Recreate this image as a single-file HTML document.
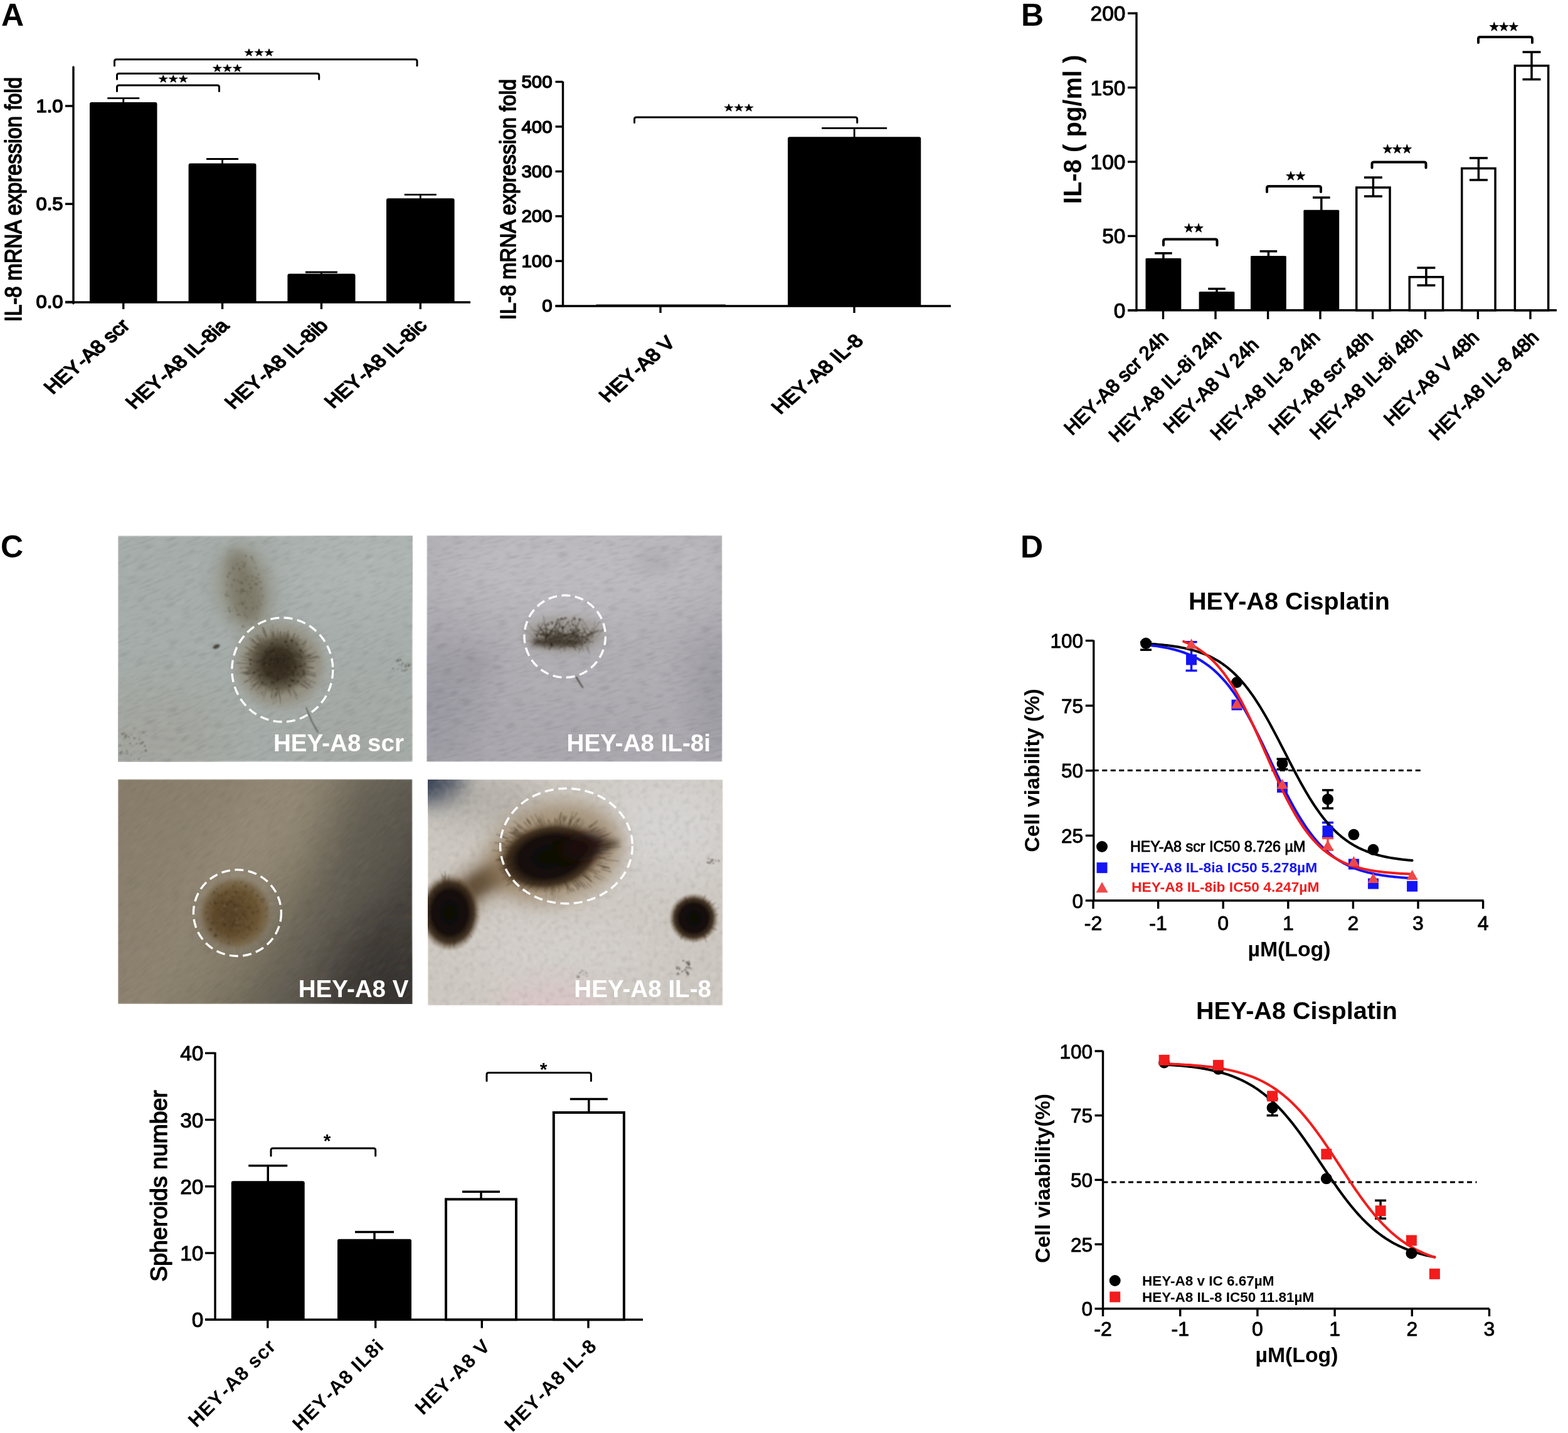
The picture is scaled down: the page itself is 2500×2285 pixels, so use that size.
<!DOCTYPE html>
<html><head><meta charset="utf-8"><title>Figure</title><style>html,body{margin:0;padding:0;background:#fff;width:2500px;height:2285px;overflow:hidden}svg{display:block}</style></head><body>
<svg width="2500" height="2285" viewBox="0 0 2500 2285">
<rect width="2500" height="2285" fill="#fff"/>
<defs><filter id="soft" x="0" y="0" width="100%" height="100%"><feGaussianBlur stdDeviation="1.3"/></filter><filter id="bl2" x="-20%" y="-20%" width="140%" height="140%"><feGaussianBlur stdDeviation="1.2"/></filter><filter id="bl4" x="-50%" y="-50%" width="200%" height="200%"><feGaussianBlur stdDeviation="4"/></filter><filter id="bl8" x="-50%" y="-50%" width="200%" height="200%"><feGaussianBlur stdDeviation="8"/></filter><filter id="bl15" x="-50%" y="-50%" width="200%" height="200%"><feGaussianBlur stdDeviation="15"/></filter><filter id="bl25" x="-50%" y="-50%" width="200%" height="200%"><feGaussianBlur stdDeviation="25"/></filter><filter id="bl40" x="-50%" y="-50%" width="200%" height="200%"><feGaussianBlur stdDeviation="40"/></filter><filter id="tex1" x="0" y="0" width="100%" height="100%"><feTurbulence type="fractalNoise" baseFrequency="0.05 0.3" numOctaves="2" seed="4" result="n"/><feColorMatrix in="n" type="matrix" values="0 0 0 0 0  0 0 0 0 0  0 0 0 0 0  -1.4 0 0 0 0.72"/></filter><filter id="tex2" x="0" y="0" width="100%" height="100%"><feTurbulence type="fractalNoise" baseFrequency="0.05 0.33" numOctaves="2" seed="9" result="n"/><feColorMatrix in="n" type="matrix" values="0 0 0 0 1  0 0 0 0 1  0 0 0 0 1  1.6 0 0 0 -0.78"/></filter><filter id="tex3" x="0" y="0" width="100%" height="100%"><feTurbulence type="fractalNoise" baseFrequency="0.12" numOctaves="2" seed="2" result="n"/><feColorMatrix in="n" type="matrix" values="0 0 0 0 0  0 0 0 0 0  0 0 0 0 0  -1.2 0 0 0 0.62"/></filter><filter id="tex4" x="0" y="0" width="100%" height="100%"><feTurbulence type="fractalNoise" baseFrequency="0.12" numOctaves="2" seed="5" result="n"/><feColorMatrix in="n" type="matrix" values="0 0 0 0 1  0 0 0 0 1  0 0 0 0 1  1.4 0 0 0 -0.66"/></filter><clipPath id="cp1"><rect x="188" y="854.4" width="469.5" height="360"/></clipPath><clipPath id="cp2"><rect x="680.4" y="853.8" width="471" height="360.7"/></clipPath><clipPath id="cp3"><rect x="188" y="1242.4" width="469.5" height="358.5"/></clipPath><clipPath id="cp4"><rect x="682" y="1243" width="470.4" height="360.3"/></clipPath><radialGradient id="sph1"><stop offset="0" stop-color="#30281c"/><stop offset="0.45" stop-color="#3c3326"/><stop offset="0.75" stop-color="#5e5645" stop-opacity="0.85"/><stop offset="1" stop-color="#7d7766" stop-opacity="0"/></radialGradient><radialGradient id="sph3"><stop offset="0" stop-color="#5f4a2c"/><stop offset="0.6" stop-color="#6b5533"/><stop offset="0.85" stop-color="#786546" stop-opacity="0.7"/><stop offset="1" stop-color="#857a66" stop-opacity="0"/></radialGradient><radialGradient id="sph4"><stop offset="0" stop-color="#0e0906"/><stop offset="0.55" stop-color="#140d08"/><stop offset="0.78" stop-color="#3a2a1a" stop-opacity="0.9"/><stop offset="1" stop-color="#8a7458" stop-opacity="0"/></radialGradient><linearGradient id="g3" x1="0" y1="0" x2="1" y2="0.45"><stop offset="0" stop-color="#877c6a"/><stop offset="0.45" stop-color="#8e8371"/><stop offset="0.68" stop-color="#77705f"/><stop offset="0.86" stop-color="#5e5950"/><stop offset="1" stop-color="#45413b"/></linearGradient></defs>
<g clip-path="url(#cp1)"><g filter="url(#soft)">
<rect x="188" y="854.4" width="469.5" height="360" fill="#a6adaa"/>
<ellipse cx="590" cy="900" rx="140" ry="80" fill="#afb6b4" filter="url(#bl40)"/>
<ellipse cx="250" cy="1175" rx="110" ry="70" fill="#a3a39b" filter="url(#bl40)" opacity="0.9"/>
<ellipse cx="560" cy="1160" rx="100" ry="60" fill="#a4a6a0" filter="url(#bl40)" opacity="0.7"/>
<g transform="rotate(-22 422 1034)"><rect x="120" y="700" width="620" height="660" filter="url(#tex1)" opacity="0.2"/><rect x="120" y="700" width="620" height="660" filter="url(#tex2)" opacity="0.12"/></g>
<ellipse cx="390" cy="940" rx="40" ry="66" fill="#8b8878" filter="url(#bl15)" transform="rotate(-10 390 940)" opacity="0.9"/>
<ellipse cx="392" cy="948" rx="24" ry="44" fill="#7a7666" filter="url(#bl8)" transform="rotate(-10 392 948)" opacity="0.8"/>
<ellipse cx="378" cy="898" rx="16" ry="20" fill="#7a7666" filter="url(#bl8)" opacity="0.6"/>
<circle cx="384.8" cy="962.1" r="2" fill="#5e5a4a" fill-opacity="0.4"/><circle cx="409" cy="966.7" r="2.5" fill="#5e5a4a" fill-opacity="0.2"/><circle cx="382.8" cy="948.2" r="1.1" fill="#6a6656" fill-opacity="0.2"/><circle cx="363.2" cy="919.4" r="2" fill="#55513f" fill-opacity="0.5"/><circle cx="373.3" cy="925" r="2.6" fill="#5e5a4a" fill-opacity="0.4"/><circle cx="403" cy="969.9" r="1.9" fill="#55513f" fill-opacity="0.3"/><circle cx="395.1" cy="919.4" r="1.9" fill="#55513f" fill-opacity="0.3"/><circle cx="410.7" cy="970.1" r="1.9" fill="#55513f" fill-opacity="0.3"/><circle cx="381.7" cy="907.6" r="1.5" fill="#55513f" fill-opacity="0.5"/><circle cx="380.4" cy="964.1" r="1.3" fill="#5e5a4a" fill-opacity="0.2"/><circle cx="383.4" cy="980.8" r="1.5" fill="#6a6656" fill-opacity="0.3"/><circle cx="400.2" cy="939.5" r="1.7" fill="#6a6656" fill-opacity="0.2"/><circle cx="384.1" cy="942.8" r="2.1" fill="#55513f" fill-opacity="0.4"/><circle cx="401.9" cy="919.1" r="2.1" fill="#55513f" fill-opacity="0.3"/><circle cx="392.3" cy="927.4" r="1.1" fill="#6a6656" fill-opacity="0.3"/><circle cx="386.2" cy="929.7" r="2.1" fill="#55513f" fill-opacity="0.4"/><circle cx="381.6" cy="906.8" r="2.1" fill="#55513f" fill-opacity="0.3"/><circle cx="406.7" cy="929.4" r="2" fill="#6a6656" fill-opacity="0.2"/><circle cx="391.2" cy="921.3" r="1.4" fill="#6a6656" fill-opacity="0.5"/><circle cx="377.8" cy="942.5" r="1.6" fill="#6a6656" fill-opacity="0.5"/><circle cx="401.8" cy="893.1" r="1.4" fill="#6a6656" fill-opacity="0.5"/><circle cx="382.4" cy="909.4" r="1.4" fill="#5e5a4a" fill-opacity="0.3"/><circle cx="391.6" cy="969.8" r="1.8" fill="#55513f" fill-opacity="0.3"/><circle cx="387.7" cy="963.7" r="1.9" fill="#55513f" fill-opacity="0.4"/><circle cx="413.9" cy="928" r="1.8" fill="#55513f" fill-opacity="0.4"/><circle cx="388.7" cy="902.9" r="2.4" fill="#55513f" fill-opacity="0.4"/><circle cx="375.2" cy="964.9" r="1.2" fill="#55513f" fill-opacity="0.3"/><circle cx="400.9" cy="995.6" r="1.7" fill="#5e5a4a" fill-opacity="0.3"/><circle cx="390.4" cy="942.3" r="1.2" fill="#5e5a4a" fill-opacity="0.5"/><circle cx="384" cy="931.9" r="1.3" fill="#6a6656" fill-opacity="0.2"/><circle cx="389.7" cy="976.2" r="1.6" fill="#5e5a4a" fill-opacity="0.2"/><circle cx="360.4" cy="946.3" r="1.8" fill="#6a6656" fill-opacity="0.2"/><circle cx="404.1" cy="962.3" r="1.4" fill="#55513f" fill-opacity="0.2"/><circle cx="418.9" cy="950.2" r="1.8" fill="#5e5a4a" fill-opacity="0.4"/><circle cx="412.4" cy="916.1" r="1.5" fill="#55513f" fill-opacity="0.5"/><circle cx="384.9" cy="914" r="1.6" fill="#5e5a4a" fill-opacity="0.3"/><circle cx="393.8" cy="984.1" r="1.8" fill="#55513f" fill-opacity="0.3"/><circle cx="401.2" cy="888.7" r="2.4" fill="#5e5a4a" fill-opacity="0.4"/><circle cx="389.1" cy="914.4" r="1.8" fill="#6a6656" fill-opacity="0.4"/><circle cx="416.6" cy="938.6" r="1.8" fill="#5e5a4a" fill-opacity="0.4"/><circle cx="409.3" cy="931.5" r="2.5" fill="#6a6656" fill-opacity="0.5"/><circle cx="380.7" cy="962.5" r="1.4" fill="#5e5a4a" fill-opacity="0.3"/><circle cx="360.4" cy="948.3" r="2" fill="#5e5a4a" fill-opacity="0.3"/><circle cx="374.6" cy="899.5" r="1.1" fill="#55513f" fill-opacity="0.2"/><circle cx="370.7" cy="973.5" r="1.3" fill="#5e5a4a" fill-opacity="0.3"/><circle cx="384.2" cy="929.1" r="2.5" fill="#55513f" fill-opacity="0.3"/><circle cx="366.2" cy="974.8" r="2.2" fill="#5e5a4a" fill-opacity="0.5"/><circle cx="412.7" cy="949.7" r="1.7" fill="#55513f" fill-opacity="0.2"/><circle cx="403.7" cy="891.1" r="2.1" fill="#6a6656" fill-opacity="0.2"/><circle cx="385.8" cy="939.5" r="2.3" fill="#55513f" fill-opacity="0.4"/><circle cx="361.4" cy="932.7" r="1.7" fill="#5e5a4a" fill-opacity="0.4"/><circle cx="393.6" cy="970.2" r="1.5" fill="#5e5a4a" fill-opacity="0.4"/><circle cx="379.8" cy="980" r="2.3" fill="#5e5a4a" fill-opacity="0.5"/><circle cx="377.7" cy="973.2" r="1.9" fill="#55513f" fill-opacity="0.3"/><circle cx="408.5" cy="921.7" r="1.9" fill="#55513f" fill-opacity="0.4"/><circle cx="408.4" cy="905.4" r="2" fill="#5e5a4a" fill-opacity="0.3"/><circle cx="364.8" cy="950.2" r="1.9" fill="#6a6656" fill-opacity="0.4"/><circle cx="369.5" cy="934.3" r="2.2" fill="#55513f" fill-opacity="0.2"/><circle cx="392.2" cy="953.1" r="1.2" fill="#6a6656" fill-opacity="0.4"/><circle cx="391.8" cy="886.7" r="1.7" fill="#55513f" fill-opacity="0.5"/><circle cx="379.5" cy="926" r="1.4" fill="#55513f" fill-opacity="0.4"/><circle cx="361.2" cy="949.7" r="2.1" fill="#6a6656" fill-opacity="0.5"/><circle cx="400.6" cy="925.7" r="1.7" fill="#6a6656" fill-opacity="0.2"/><circle cx="382.4" cy="947.6" r="1.4" fill="#5e5a4a" fill-opacity="0.3"/><circle cx="386.6" cy="961.2" r="2.2" fill="#55513f" fill-opacity="0.4"/><circle cx="379.9" cy="963.7" r="1.2" fill="#6a6656" fill-opacity="0.3"/><circle cx="408.1" cy="931.2" r="1.8" fill="#55513f" fill-opacity="0.4"/><circle cx="400.4" cy="974.4" r="1.8" fill="#6a6656" fill-opacity="0.3"/><circle cx="384.3" cy="955.8" r="1.6" fill="#6a6656" fill-opacity="0.4"/><circle cx="386.2" cy="944.9" r="1.5" fill="#55513f" fill-opacity="0.3"/><circle cx="399.8" cy="937.2" r="2.5" fill="#5e5a4a" fill-opacity="0.5"/><circle cx="402.2" cy="960.3" r="1.1" fill="#5e5a4a" fill-opacity="0.3"/><circle cx="403.4" cy="969.4" r="2.5" fill="#6a6656" fill-opacity="0.3"/><circle cx="369" cy="932.5" r="1.8" fill="#6a6656" fill-opacity="0.2"/><circle cx="413.3" cy="959" r="1.7" fill="#5e5a4a" fill-opacity="0.3"/><circle cx="398.9" cy="943.8" r="1.4" fill="#55513f" fill-opacity="0.5"/><circle cx="415.5" cy="963.9" r="1.7" fill="#6a6656" fill-opacity="0.5"/><circle cx="365" cy="969.4" r="2" fill="#5e5a4a" fill-opacity="0.4"/><circle cx="390.7" cy="961.1" r="1.3" fill="#5e5a4a" fill-opacity="0.3"/><circle cx="411.7" cy="923" r="1.8" fill="#5e5a4a" fill-opacity="0.3"/><circle cx="377.3" cy="942" r="1.6" fill="#5e5a4a" fill-opacity="0.5"/><circle cx="394" cy="943.8" r="1.8" fill="#5e5a4a" fill-opacity="0.4"/><circle cx="390.5" cy="980.8" r="2.1" fill="#55513f" fill-opacity="0.3"/><circle cx="362.6" cy="943.7" r="1.6" fill="#55513f" fill-opacity="0.3"/><circle cx="393.1" cy="969.1" r="1.3" fill="#55513f" fill-opacity="0.4"/><circle cx="409.1" cy="986.4" r="2.6" fill="#5e5a4a" fill-opacity="0.2"/><circle cx="370.2" cy="903.4" r="1.7" fill="#5e5a4a" fill-opacity="0.2"/><circle cx="405.2" cy="896.5" r="2.1" fill="#6a6656" fill-opacity="0.4"/><circle cx="387.8" cy="930.5" r="1.3" fill="#6a6656" fill-opacity="0.3"/><circle cx="387.6" cy="998.7" r="2.6" fill="#55513f" fill-opacity="0.3"/><circle cx="417.5" cy="953.7" r="1.3" fill="#5e5a4a" fill-opacity="0.2"/><circle cx="374.8" cy="969.1" r="1.8" fill="#5e5a4a" fill-opacity="0.3"/><circle cx="391.5" cy="924.8" r="2.3" fill="#5e5a4a" fill-opacity="0.3"/><circle cx="394.3" cy="944.3" r="1.5" fill="#5e5a4a" fill-opacity="0.2"/><circle cx="416.7" cy="927.9" r="1.2" fill="#55513f" fill-opacity="0.4"/><circle cx="368.5" cy="913.1" r="2.2" fill="#6a6656" fill-opacity="0.2"/><circle cx="386.1" cy="896.1" r="1.1" fill="#55513f" fill-opacity="0.5"/><circle cx="372.1" cy="906.4" r="2.3" fill="#5e5a4a" fill-opacity="0.5"/><circle cx="390.4" cy="898.3" r="2.3" fill="#5e5a4a" fill-opacity="0.4"/><circle cx="365.5" cy="914.4" r="2.1" fill="#55513f" fill-opacity="0.4"/><circle cx="395.3" cy="948" r="2" fill="#5e5a4a" fill-opacity="0.3"/><circle cx="383.6" cy="945.9" r="1" fill="#55513f" fill-opacity="0.4"/><circle cx="388.3" cy="942.2" r="2.3" fill="#55513f" fill-opacity="0.5"/><circle cx="397.3" cy="931.5" r="1.8" fill="#55513f" fill-opacity="0.4"/><circle cx="389.9" cy="957.8" r="1.4" fill="#55513f" fill-opacity="0.4"/><circle cx="392.9" cy="988.4" r="1.7" fill="#6a6656" fill-opacity="0.2"/><circle cx="403.6" cy="925.4" r="1.1" fill="#55513f" fill-opacity="0.4"/><circle cx="400.2" cy="952.4" r="1.4" fill="#55513f" fill-opacity="0.4"/><circle cx="382.1" cy="927.4" r="1.8" fill="#6a6656" fill-opacity="0.3"/><circle cx="378.3" cy="899.4" r="2.1" fill="#6a6656" fill-opacity="0.4"/>
<ellipse cx="446" cy="1060" rx="70" ry="66" fill="#8e8774" filter="url(#bl8)" opacity="0.75"/>
<line x1="435.5" y1="1097.3" x2="432.2" y2="1111.9" stroke="#2c241a" stroke-width="2" stroke-opacity="0.4" stroke-linecap="round"/><line x1="432.7" y1="1087.7" x2="428.5" y2="1098" stroke="#2c241a" stroke-width="1.1" stroke-opacity="0.2" stroke-linecap="round"/><line x1="394.2" y1="1057.9" x2="376.3" y2="1057.2" stroke="#2c241a" stroke-width="1.3" stroke-opacity="0.5" stroke-linecap="round"/><line x1="470.9" y1="1047.5" x2="476.5" y2="1044.9" stroke="#2c241a" stroke-width="1.7" stroke-opacity="0.3" stroke-linecap="round"/><line x1="417.8" y1="1091.9" x2="409.4" y2="1102.1" stroke="#2c241a" stroke-width="1.1" stroke-opacity="0.2" stroke-linecap="round"/><line x1="418.2" y1="1089.2" x2="407.4" y2="1101.5" stroke="#2c241a" stroke-width="1.3" stroke-opacity="0.3" stroke-linecap="round"/><line x1="484.9" y1="1046.7" x2="494.7" y2="1043.5" stroke="#2c241a" stroke-width="1.7" stroke-opacity="0.3" stroke-linecap="round"/><line x1="422.2" y1="1081.5" x2="415.5" y2="1088.1" stroke="#2c241a" stroke-width="1.2" stroke-opacity="0.3" stroke-linecap="round"/><line x1="404.9" y1="1089" x2="398.9" y2="1093.5" stroke="#2c241a" stroke-width="0.8" stroke-opacity="0.5" stroke-linecap="round"/><line x1="443.4" y1="1089.4" x2="443.2" y2="1099.5" stroke="#2c241a" stroke-width="1.8" stroke-opacity="0.2" stroke-linecap="round"/><line x1="483.8" y1="1039.8" x2="498.2" y2="1032.6" stroke="#2c241a" stroke-width="1.1" stroke-opacity="0.2" stroke-linecap="round"/><line x1="422" y1="1024.3" x2="418.3" y2="1018.4" stroke="#2c241a" stroke-width="2" stroke-opacity="0.4" stroke-linecap="round"/><line x1="426" y1="1101.2" x2="419.9" y2="1115.2" stroke="#2c241a" stroke-width="1.3" stroke-opacity="0.2" stroke-linecap="round"/><line x1="446.7" y1="1023.3" x2="447.9" y2="1007" stroke="#2c241a" stroke-width="1.5" stroke-opacity="0.3" stroke-linecap="round"/><line x1="486.4" y1="1083.5" x2="495.5" y2="1088.6" stroke="#2c241a" stroke-width="1.5" stroke-opacity="0.2" stroke-linecap="round"/><line x1="470.4" y1="1031.7" x2="481.9" y2="1019.4" stroke="#2c241a" stroke-width="1.5" stroke-opacity="0.3" stroke-linecap="round"/><line x1="414.6" y1="1077.4" x2="407.4" y2="1081.7" stroke="#2c241a" stroke-width="1.7" stroke-opacity="0.4" stroke-linecap="round"/><line x1="416.4" y1="1078.5" x2="407" y2="1084.8" stroke="#2c241a" stroke-width="1.6" stroke-opacity="0.2" stroke-linecap="round"/><line x1="425.6" y1="1036.8" x2="418.4" y2="1027.8" stroke="#2c241a" stroke-width="1.8" stroke-opacity="0.4" stroke-linecap="round"/><line x1="410.2" y1="1070.3" x2="396" y2="1074.6" stroke="#2c241a" stroke-width="1.3" stroke-opacity="0.4" stroke-linecap="round"/><line x1="445.2" y1="1091.8" x2="445.6" y2="1104" stroke="#2c241a" stroke-width="1.2" stroke-opacity="0.3" stroke-linecap="round"/><line x1="455.8" y1="1029.8" x2="457.7" y2="1024.9" stroke="#2c241a" stroke-width="1.8" stroke-opacity="0.3" stroke-linecap="round"/><line x1="443.1" y1="1027.4" x2="442.9" y2="1018.9" stroke="#2c241a" stroke-width="1.7" stroke-opacity="0.4" stroke-linecap="round"/><line x1="411.9" y1="1043.8" x2="399.5" y2="1037.6" stroke="#2c241a" stroke-width="1.4" stroke-opacity="0.5" stroke-linecap="round"/><line x1="461.4" y1="1035.5" x2="471.1" y2="1022" stroke="#2c241a" stroke-width="1.3" stroke-opacity="0.4" stroke-linecap="round"/><line x1="412.3" y1="1074.5" x2="398.1" y2="1081" stroke="#2c241a" stroke-width="2" stroke-opacity="0.2" stroke-linecap="round"/><line x1="404.1" y1="1080.3" x2="390.3" y2="1087.3" stroke="#2c241a" stroke-width="2" stroke-opacity="0.4" stroke-linecap="round"/><line x1="487.4" y1="1081.5" x2="502.7" y2="1089.1" stroke="#2c241a" stroke-width="1.4" stroke-opacity="0.4" stroke-linecap="round"/><line x1="401.1" y1="1074.3" x2="393.6" y2="1076.8" stroke="#2c241a" stroke-width="1" stroke-opacity="0.5" stroke-linecap="round"/><line x1="479.8" y1="1089.2" x2="490.7" y2="1098.1" stroke="#2c241a" stroke-width="1.8" stroke-opacity="0.5" stroke-linecap="round"/><line x1="482.8" y1="1083" x2="487.1" y2="1085.5" stroke="#2c241a" stroke-width="1" stroke-opacity="0.4" stroke-linecap="round"/><line x1="486.5" y1="1070.2" x2="503.5" y2="1074.3" stroke="#2c241a" stroke-width="1.6" stroke-opacity="0.4" stroke-linecap="round"/><line x1="402.6" y1="1077.2" x2="396.8" y2="1079.6" stroke="#2c241a" stroke-width="1.2" stroke-opacity="0.5" stroke-linecap="round"/><line x1="456.1" y1="1091.5" x2="461.6" y2="1105.8" stroke="#2c241a" stroke-width="0.8" stroke-opacity="0.4" stroke-linecap="round"/><line x1="478.1" y1="1059.2" x2="487.2" y2="1059" stroke="#2c241a" stroke-width="1.8" stroke-opacity="0.3" stroke-linecap="round"/><line x1="404.5" y1="1053.4" x2="399.2" y2="1052.5" stroke="#2c241a" stroke-width="1.3" stroke-opacity="0.4" stroke-linecap="round"/><line x1="474.3" y1="1071" x2="489.9" y2="1076.6" stroke="#2c241a" stroke-width="1.6" stroke-opacity="0.2" stroke-linecap="round"/><line x1="449.2" y1="1097" x2="450.5" y2="1106.7" stroke="#2c241a" stroke-width="1.4" stroke-opacity="0.4" stroke-linecap="round"/><line x1="436.9" y1="1024.7" x2="434.9" y2="1014.8" stroke="#2c241a" stroke-width="0.8" stroke-opacity="0.3" stroke-linecap="round"/><line x1="460.6" y1="1035.6" x2="467" y2="1026.2" stroke="#2c241a" stroke-width="1" stroke-opacity="0.5" stroke-linecap="round"/><line x1="457.2" y1="1095.9" x2="460.1" y2="1103.8" stroke="#2c241a" stroke-width="1.9" stroke-opacity="0.2" stroke-linecap="round"/><line x1="414.5" y1="1031" x2="402.6" y2="1019.3" stroke="#2c241a" stroke-width="1.4" stroke-opacity="0.5" stroke-linecap="round"/><line x1="482.5" y1="1074.3" x2="498.5" y2="1080.2" stroke="#2c241a" stroke-width="0.9" stroke-opacity="0.2" stroke-linecap="round"/><line x1="413.4" y1="1038.9" x2="401.7" y2="1030.8" stroke="#2c241a" stroke-width="1" stroke-opacity="0.4" stroke-linecap="round"/><line x1="435.8" y1="1026.1" x2="434.2" y2="1019.8" stroke="#2c241a" stroke-width="0.9" stroke-opacity="0.3" stroke-linecap="round"/><line x1="459.4" y1="1099.4" x2="463.7" y2="1110.5" stroke="#2c241a" stroke-width="1.4" stroke-opacity="0.3" stroke-linecap="round"/><line x1="436.8" y1="1014.1" x2="434.1" y2="996.5" stroke="#2c241a" stroke-width="1.3" stroke-opacity="0.2" stroke-linecap="round"/><line x1="470.3" y1="1074.1" x2="479.5" y2="1079" stroke="#2c241a" stroke-width="1.9" stroke-opacity="0.4" stroke-linecap="round"/><line x1="446" y1="1023.7" x2="446.8" y2="1008.7" stroke="#2c241a" stroke-width="1.2" stroke-opacity="0.5" stroke-linecap="round"/><line x1="481.1" y1="1082.8" x2="487.5" y2="1086.7" stroke="#2c241a" stroke-width="1.4" stroke-opacity="0.4" stroke-linecap="round"/><line x1="424.3" y1="1099.6" x2="419.4" y2="1109.6" stroke="#2c241a" stroke-width="1.6" stroke-opacity="0.3" stroke-linecap="round"/><line x1="418" y1="1033.8" x2="411" y2="1026.8" stroke="#2c241a" stroke-width="1.4" stroke-opacity="0.5" stroke-linecap="round"/><line x1="473.9" y1="1072.3" x2="479.3" y2="1074.5" stroke="#2c241a" stroke-width="1.5" stroke-opacity="0.3" stroke-linecap="round"/><line x1="419.1" y1="1102.2" x2="416.2" y2="1107" stroke="#2c241a" stroke-width="1.7" stroke-opacity="0.4" stroke-linecap="round"/><line x1="474.7" y1="1044.2" x2="487.5" y2="1037.6" stroke="#2c241a" stroke-width="1.5" stroke-opacity="0.5" stroke-linecap="round"/><line x1="471.8" y1="1050.3" x2="486.6" y2="1045.1" stroke="#2c241a" stroke-width="0.9" stroke-opacity="0.5" stroke-linecap="round"/><line x1="400" y1="1069.6" x2="385" y2="1072.9" stroke="#2c241a" stroke-width="1.9" stroke-opacity="0.5" stroke-linecap="round"/><line x1="470.2" y1="1088.8" x2="473.6" y2="1092.6" stroke="#2c241a" stroke-width="1.9" stroke-opacity="0.3" stroke-linecap="round"/><line x1="432.9" y1="1030.7" x2="430" y2="1023.2" stroke="#2c241a" stroke-width="1.8" stroke-opacity="0.4" stroke-linecap="round"/><line x1="452.7" y1="1019.8" x2="455.1" y2="1008.4" stroke="#2c241a" stroke-width="1.3" stroke-opacity="0.3" stroke-linecap="round"/><line x1="408.6" y1="1083.2" x2="399.2" y2="1089.3" stroke="#2c241a" stroke-width="1.5" stroke-opacity="0.3" stroke-linecap="round"/><line x1="416.9" y1="1073.5" x2="411.5" y2="1076.1" stroke="#2c241a" stroke-width="1.5" stroke-opacity="0.3" stroke-linecap="round"/><line x1="400.2" y1="1083.7" x2="384.7" y2="1092.1" stroke="#2c241a" stroke-width="1" stroke-opacity="0.2" stroke-linecap="round"/><line x1="397.8" y1="1071.6" x2="390" y2="1073.5" stroke="#2c241a" stroke-width="1.4" stroke-opacity="0.5" stroke-linecap="round"/><line x1="446.7" y1="1014.9" x2="447.2" y2="1006.1" stroke="#2c241a" stroke-width="1.1" stroke-opacity="0.3" stroke-linecap="round"/><line x1="443.1" y1="1093.7" x2="442.9" y2="1104.4" stroke="#2c241a" stroke-width="1" stroke-opacity="0.3" stroke-linecap="round"/><line x1="434.6" y1="1107" x2="433.2" y2="1114.3" stroke="#2c241a" stroke-width="0.9" stroke-opacity="0.3" stroke-linecap="round"/><line x1="445" y1="1099.6" x2="445.3" y2="1113" stroke="#2c241a" stroke-width="0.9" stroke-opacity="0.4" stroke-linecap="round"/><line x1="471.3" y1="1066.5" x2="487.4" y2="1070.3" stroke="#2c241a" stroke-width="1.1" stroke-opacity="0.4" stroke-linecap="round"/><line x1="410.8" y1="1093.7" x2="405.2" y2="1099.4" stroke="#2c241a" stroke-width="0.9" stroke-opacity="0.4" stroke-linecap="round"/><line x1="459.2" y1="1031.5" x2="462" y2="1026.2" stroke="#2c241a" stroke-width="1.4" stroke-opacity="0.3" stroke-linecap="round"/><line x1="408.1" y1="1032.8" x2="397.2" y2="1024.6" stroke="#2c241a" stroke-width="0.8" stroke-opacity="0.4" stroke-linecap="round"/><line x1="435.1" y1="1025.4" x2="433.7" y2="1020.1" stroke="#2c241a" stroke-width="1.2" stroke-opacity="0.2" stroke-linecap="round"/><line x1="472.8" y1="1060" x2="487.4" y2="1060" stroke="#2c241a" stroke-width="1.9" stroke-opacity="0.5" stroke-linecap="round"/><line x1="459.5" y1="1026.4" x2="463.6" y2="1017.5" stroke="#2c241a" stroke-width="1.5" stroke-opacity="0.2" stroke-linecap="round"/><line x1="482.1" y1="1067.6" x2="493.2" y2="1069.9" stroke="#2c241a" stroke-width="1.3" stroke-opacity="0.5" stroke-linecap="round"/><line x1="427.9" y1="1033.1" x2="421.7" y2="1022.8" stroke="#2c241a" stroke-width="1.6" stroke-opacity="0.3" stroke-linecap="round"/><line x1="437.4" y1="1109.3" x2="435.6" y2="1122.9" stroke="#2c241a" stroke-width="1.3" stroke-opacity="0.2" stroke-linecap="round"/><line x1="442.6" y1="1012.6" x2="442.3" y2="1002.2" stroke="#2c241a" stroke-width="0.8" stroke-opacity="0.5" stroke-linecap="round"/><line x1="457.6" y1="1020.1" x2="460.8" y2="1010.5" stroke="#2c241a" stroke-width="1.3" stroke-opacity="0.5" stroke-linecap="round"/><line x1="415.2" y1="1072.6" x2="409.3" y2="1075.2" stroke="#2c241a" stroke-width="0.9" stroke-opacity="0.4" stroke-linecap="round"/><line x1="414.3" y1="1093.8" x2="409.9" y2="1098.8" stroke="#2c241a" stroke-width="0.9" stroke-opacity="0.2" stroke-linecap="round"/><line x1="456.8" y1="1025.6" x2="461.1" y2="1013.9" stroke="#2c241a" stroke-width="1.9" stroke-opacity="0.5" stroke-linecap="round"/><line x1="460.8" y1="1091.4" x2="464.2" y2="1097.7" stroke="#2c241a" stroke-width="1" stroke-opacity="0.2" stroke-linecap="round"/><line x1="410.8" y1="1089.7" x2="399.4" y2="1100" stroke="#2c241a" stroke-width="1.8" stroke-opacity="0.3" stroke-linecap="round"/><line x1="459.1" y1="1035.3" x2="467.9" y2="1020.9" stroke="#2c241a" stroke-width="1.2" stroke-opacity="0.4" stroke-linecap="round"/><line x1="424.4" y1="1037.4" x2="415.1" y2="1026.6" stroke="#2c241a" stroke-width="1.6" stroke-opacity="0.5" stroke-linecap="round"/><line x1="414.2" y1="1023.8" x2="405.9" y2="1013.8" stroke="#2c241a" stroke-width="1.5" stroke-opacity="0.3" stroke-linecap="round"/><line x1="404.1" y1="1066.8" x2="398.7" y2="1067.8" stroke="#2c241a" stroke-width="1.9" stroke-opacity="0.3" stroke-linecap="round"/><line x1="424.2" y1="1084.2" x2="413" y2="1097.8" stroke="#2c241a" stroke-width="1.8" stroke-opacity="0.3" stroke-linecap="round"/><line x1="478.7" y1="1029" x2="488.9" y2="1019.8" stroke="#2c241a" stroke-width="1.6" stroke-opacity="0.3" stroke-linecap="round"/><line x1="414.7" y1="1084.3" x2="402.4" y2="1094.5" stroke="#2c241a" stroke-width="1.7" stroke-opacity="0.4" stroke-linecap="round"/><line x1="432" y1="1091.3" x2="428.4" y2="1100.7" stroke="#2c241a" stroke-width="1.2" stroke-opacity="0.4" stroke-linecap="round"/><line x1="456.2" y1="1085.3" x2="463.9" y2="1101.4" stroke="#2c241a" stroke-width="1.4" stroke-opacity="0.4" stroke-linecap="round"/><line x1="410.2" y1="1028.8" x2="398.5" y2="1018" stroke="#2c241a" stroke-width="1.8" stroke-opacity="0.3" stroke-linecap="round"/><line x1="476.7" y1="1074.7" x2="485.6" y2="1078.7" stroke="#2c241a" stroke-width="1.8" stroke-opacity="0.4" stroke-linecap="round"/><line x1="428.1" y1="1035.9" x2="424.4" y2="1030.3" stroke="#2c241a" stroke-width="1.9" stroke-opacity="0.3" stroke-linecap="round"/><line x1="438.5" y1="1030.8" x2="435.8" y2="1016.2" stroke="#2c241a" stroke-width="1.9" stroke-opacity="0.4" stroke-linecap="round"/><line x1="450.1" y1="1032.1" x2="451.4" y2="1026.4" stroke="#2c241a" stroke-width="1.5" stroke-opacity="0.4" stroke-linecap="round"/><line x1="467.9" y1="1079.6" x2="480.6" y2="1090.1" stroke="#2c241a" stroke-width="1.1" stroke-opacity="0.5" stroke-linecap="round"/><line x1="456" y1="1018.6" x2="460" y2="1004.8" stroke="#2c241a" stroke-width="1.1" stroke-opacity="0.5" stroke-linecap="round"/><line x1="418.2" y1="1038.5" x2="411.1" y2="1032.7" stroke="#2c241a" stroke-width="1.5" stroke-opacity="0.5" stroke-linecap="round"/><line x1="411.7" y1="1069.1" x2="394.8" y2="1073.8" stroke="#2c241a" stroke-width="1.4" stroke-opacity="0.4" stroke-linecap="round"/><line x1="419.2" y1="1037.9" x2="411.9" y2="1031.3" stroke="#2c241a" stroke-width="1" stroke-opacity="0.3" stroke-linecap="round"/><line x1="421.7" y1="1034.2" x2="415.6" y2="1027.2" stroke="#2c241a" stroke-width="1.3" stroke-opacity="0.5" stroke-linecap="round"/><line x1="440" y1="1104.7" x2="439.5" y2="1110.3" stroke="#2c241a" stroke-width="1.8" stroke-opacity="0.5" stroke-linecap="round"/><line x1="406.2" y1="1071.5" x2="392.9" y2="1075.5" stroke="#2c241a" stroke-width="1.9" stroke-opacity="0.3" stroke-linecap="round"/><line x1="398.3" y1="1049.6" x2="384.1" y2="1046.3" stroke="#2c241a" stroke-width="1.2" stroke-opacity="0.3" stroke-linecap="round"/><line x1="422.8" y1="1082.9" x2="416.5" y2="1089.7" stroke="#2c241a" stroke-width="0.9" stroke-opacity="0.3" stroke-linecap="round"/><line x1="407.3" y1="1027.5" x2="400.6" y2="1021.6" stroke="#2c241a" stroke-width="1.4" stroke-opacity="0.3" stroke-linecap="round"/><line x1="490.1" y1="1050" x2="506.8" y2="1046.4" stroke="#2c241a" stroke-width="1.9" stroke-opacity="0.5" stroke-linecap="round"/><line x1="443.4" y1="1027.1" x2="443.2" y2="1018.3" stroke="#2c241a" stroke-width="1.6" stroke-opacity="0.3" stroke-linecap="round"/><line x1="424.9" y1="1081.9" x2="417.5" y2="1090.5" stroke="#2c241a" stroke-width="1.5" stroke-opacity="0.2" stroke-linecap="round"/><line x1="482.1" y1="1073.6" x2="490.6" y2="1076.6" stroke="#2c241a" stroke-width="1.4" stroke-opacity="0.4" stroke-linecap="round"/><line x1="414.4" y1="1078" x2="408.6" y2="1081.4" stroke="#2c241a" stroke-width="1.2" stroke-opacity="0.5" stroke-linecap="round"/><line x1="459.4" y1="1083.8" x2="467.8" y2="1096.7" stroke="#2c241a" stroke-width="1.6" stroke-opacity="0.4" stroke-linecap="round"/><line x1="472.7" y1="1072.1" x2="485.3" y2="1077.5" stroke="#2c241a" stroke-width="1.1" stroke-opacity="0.5" stroke-linecap="round"/><line x1="472.6" y1="1054" x2="488" y2="1050.8" stroke="#2c241a" stroke-width="1.9" stroke-opacity="0.4" stroke-linecap="round"/><line x1="407.7" y1="1040.5" x2="397.3" y2="1034.9" stroke="#2c241a" stroke-width="1.4" stroke-opacity="0.3" stroke-linecap="round"/><line x1="473.4" y1="1060.1" x2="478.7" y2="1060.1" stroke="#2c241a" stroke-width="1" stroke-opacity="0.3" stroke-linecap="round"/><line x1="469.8" y1="1044" x2="480.8" y2="1037.2" stroke="#2c241a" stroke-width="1.6" stroke-opacity="0.3" stroke-linecap="round"/><line x1="410.3" y1="1080.4" x2="398.9" y2="1087.4" stroke="#2c241a" stroke-width="1.6" stroke-opacity="0.3" stroke-linecap="round"/><line x1="414.3" y1="1034.4" x2="409.9" y2="1030.6" stroke="#2c241a" stroke-width="1.6" stroke-opacity="0.5" stroke-linecap="round"/><line x1="437.8" y1="1022" x2="435.9" y2="1010.1" stroke="#2c241a" stroke-width="1.3" stroke-opacity="0.4" stroke-linecap="round"/><line x1="469.4" y1="1044.4" x2="480.9" y2="1037.3" stroke="#2c241a" stroke-width="1" stroke-opacity="0.5" stroke-linecap="round"/><line x1="441" y1="1102.1" x2="440.5" y2="1108.6" stroke="#2c241a" stroke-width="1.9" stroke-opacity="0.5" stroke-linecap="round"/><line x1="475.6" y1="1048.1" x2="481" y2="1046.1" stroke="#2c241a" stroke-width="1.6" stroke-opacity="0.4" stroke-linecap="round"/><line x1="425.1" y1="1015.7" x2="418.1" y2="999.5" stroke="#2c241a" stroke-width="1.2" stroke-opacity="0.5" stroke-linecap="round"/><line x1="467.5" y1="1041.6" x2="476.6" y2="1034.4" stroke="#2c241a" stroke-width="1" stroke-opacity="0.5" stroke-linecap="round"/><line x1="461.7" y1="1032.8" x2="465.5" y2="1026.9" stroke="#2c241a" stroke-width="1.9" stroke-opacity="0.3" stroke-linecap="round"/><line x1="412.4" y1="1086.5" x2="404.8" y2="1092.9" stroke="#2c241a" stroke-width="1.8" stroke-opacity="0.5" stroke-linecap="round"/><line x1="490.2" y1="1054.7" x2="502.1" y2="1053.3" stroke="#2c241a" stroke-width="1.4" stroke-opacity="0.4" stroke-linecap="round"/><line x1="472.6" y1="1061.1" x2="490" y2="1061.8" stroke="#2c241a" stroke-width="1.1" stroke-opacity="0.5" stroke-linecap="round"/><line x1="452.9" y1="1024.5" x2="456" y2="1012.3" stroke="#2c241a" stroke-width="1.5" stroke-opacity="0.3" stroke-linecap="round"/><line x1="473.8" y1="1066.3" x2="486.6" y2="1068.9" stroke="#2c241a" stroke-width="1" stroke-opacity="0.5" stroke-linecap="round"/><line x1="435.3" y1="1032.7" x2="433.2" y2="1026.2" stroke="#2c241a" stroke-width="1.6" stroke-opacity="0.2" stroke-linecap="round"/><line x1="470.4" y1="1072" x2="485.1" y2="1078.7" stroke="#2c241a" stroke-width="1.7" stroke-opacity="0.3" stroke-linecap="round"/><line x1="482.1" y1="1048.8" x2="495.2" y2="1045" stroke="#2c241a" stroke-width="1.9" stroke-opacity="0.5" stroke-linecap="round"/><line x1="435.2" y1="1024.6" x2="433.2" y2="1016.7" stroke="#2c241a" stroke-width="1" stroke-opacity="0.2" stroke-linecap="round"/><line x1="489.6" y1="1044.9" x2="503.7" y2="1040.3" stroke="#2c241a" stroke-width="0.9" stroke-opacity="0.5" stroke-linecap="round"/><line x1="418" y1="1031.6" x2="413.5" y2="1026.6" stroke="#2c241a" stroke-width="1.8" stroke-opacity="0.4" stroke-linecap="round"/><line x1="434.2" y1="1094" x2="431.9" y2="1102.1" stroke="#2c241a" stroke-width="1.2" stroke-opacity="0.5" stroke-linecap="round"/><line x1="486.7" y1="1073.4" x2="502.7" y2="1078.4" stroke="#2c241a" stroke-width="1.7" stroke-opacity="0.4" stroke-linecap="round"/><line x1="410.1" y1="1065.1" x2="395.5" y2="1067.3" stroke="#2c241a" stroke-width="1.7" stroke-opacity="0.2" stroke-linecap="round"/><line x1="414" y1="1056.5" x2="403" y2="1055.2" stroke="#2c241a" stroke-width="0.9" stroke-opacity="0.4" stroke-linecap="round"/><line x1="433.7" y1="1014.9" x2="431" y2="1002.8" stroke="#2c241a" stroke-width="1.1" stroke-opacity="0.4" stroke-linecap="round"/><line x1="410" y1="1054.9" x2="395.4" y2="1052.8" stroke="#2c241a" stroke-width="0.9" stroke-opacity="0.3" stroke-linecap="round"/><line x1="479.7" y1="1084.5" x2="492.7" y2="1093.4" stroke="#2c241a" stroke-width="2" stroke-opacity="0.4" stroke-linecap="round"/><line x1="481.9" y1="1049.6" x2="494" y2="1046.2" stroke="#2c241a" stroke-width="1" stroke-opacity="0.5" stroke-linecap="round"/><line x1="474.6" y1="1047.5" x2="481.3" y2="1044.8" stroke="#2c241a" stroke-width="1.9" stroke-opacity="0.5" stroke-linecap="round"/><line x1="394.3" y1="1063" x2="382" y2="1063.8" stroke="#2c241a" stroke-width="0.9" stroke-opacity="0.3" stroke-linecap="round"/><line x1="484" y1="1087.3" x2="497.7" y2="1096.6" stroke="#2c241a" stroke-width="1.7" stroke-opacity="0.3" stroke-linecap="round"/><line x1="422" y1="1031.3" x2="416.5" y2="1024.2" stroke="#2c241a" stroke-width="1.3" stroke-opacity="0.4" stroke-linecap="round"/><line x1="467.6" y1="1103.6" x2="473.9" y2="1115.3" stroke="#2c241a" stroke-width="1.9" stroke-opacity="0.2" stroke-linecap="round"/><line x1="408.2" y1="1035.9" x2="397.5" y2="1028.8" stroke="#2c241a" stroke-width="0.8" stroke-opacity="0.4" stroke-linecap="round"/><line x1="397.3" y1="1053.6" x2="386.6" y2="1052.1" stroke="#2c241a" stroke-width="1.5" stroke-opacity="0.3" stroke-linecap="round"/><line x1="402" y1="1069.9" x2="393.9" y2="1071.8" stroke="#2c241a" stroke-width="1.1" stroke-opacity="0.3" stroke-linecap="round"/><line x1="417" y1="1026.2" x2="409.7" y2="1017.1" stroke="#2c241a" stroke-width="1.1" stroke-opacity="0.5" stroke-linecap="round"/><line x1="463.2" y1="1023.1" x2="469.9" y2="1010.4" stroke="#2c241a" stroke-width="2" stroke-opacity="0.5" stroke-linecap="round"/><line x1="415.5" y1="1038.5" x2="409.1" y2="1033.7" stroke="#2c241a" stroke-width="1.9" stroke-opacity="0.3" stroke-linecap="round"/><line x1="491.9" y1="1046.1" x2="498.8" y2="1044.1" stroke="#2c241a" stroke-width="1.6" stroke-opacity="0.3" stroke-linecap="round"/><line x1="462.2" y1="1085.4" x2="467.4" y2="1092.7" stroke="#2c241a" stroke-width="1.2" stroke-opacity="0.3" stroke-linecap="round"/><line x1="481.2" y1="1090.5" x2="487.9" y2="1095.9" stroke="#2c241a" stroke-width="1.9" stroke-opacity="0.4" stroke-linecap="round"/><line x1="490.6" y1="1063.7" x2="501.3" y2="1064.6" stroke="#2c241a" stroke-width="1.1" stroke-opacity="0.5" stroke-linecap="round"/><line x1="435.8" y1="1087.3" x2="433.5" y2="1095.3" stroke="#2c241a" stroke-width="1.7" stroke-opacity="0.2" stroke-linecap="round"/><line x1="446.3" y1="1106.7" x2="447" y2="1120.8" stroke="#2c241a" stroke-width="1.5" stroke-opacity="0.4" stroke-linecap="round"/><line x1="468.2" y1="1024.8" x2="475.9" y2="1013.7" stroke="#2c241a" stroke-width="1.9" stroke-opacity="0.4" stroke-linecap="round"/><line x1="415.4" y1="1043.4" x2="409.1" y2="1039.7" stroke="#2c241a" stroke-width="0.9" stroke-opacity="0.4" stroke-linecap="round"/><line x1="441.3" y1="1103.3" x2="440.3" y2="1119.9" stroke="#2c241a" stroke-width="1.1" stroke-opacity="0.3" stroke-linecap="round"/><line x1="436.7" y1="1029.4" x2="433" y2="1013.8" stroke="#2c241a" stroke-width="1.4" stroke-opacity="0.2" stroke-linecap="round"/><line x1="468.8" y1="1029.4" x2="477.4" y2="1018.9" stroke="#2c241a" stroke-width="1.8" stroke-opacity="0.5" stroke-linecap="round"/><line x1="430.7" y1="1084.9" x2="423.3" y2="1098.9" stroke="#2c241a" stroke-width="1.9" stroke-opacity="0.2" stroke-linecap="round"/><line x1="443.7" y1="1092.8" x2="443.6" y2="1107.1" stroke="#2c241a" stroke-width="1.9" stroke-opacity="0.3" stroke-linecap="round"/><line x1="417" y1="1098" x2="410.7" y2="1107" stroke="#2c241a" stroke-width="1" stroke-opacity="0.4" stroke-linecap="round"/><line x1="489.2" y1="1064.6" x2="499" y2="1065.6" stroke="#2c241a" stroke-width="1.2" stroke-opacity="0.5" stroke-linecap="round"/><line x1="396" y1="1073.3" x2="388.9" y2="1075.3" stroke="#2c241a" stroke-width="1.4" stroke-opacity="0.5" stroke-linecap="round"/><line x1="438.6" y1="1018.8" x2="436.8" y2="1005.7" stroke="#2c241a" stroke-width="1.1" stroke-opacity="0.3" stroke-linecap="round"/><line x1="471.5" y1="1071.2" x2="487.1" y2="1077.5" stroke="#2c241a" stroke-width="1.6" stroke-opacity="0.4" stroke-linecap="round"/><line x1="417.4" y1="1045.3" x2="409.5" y2="1041" stroke="#2c241a" stroke-width="1.3" stroke-opacity="0.5" stroke-linecap="round"/><line x1="493.1" y1="1051.1" x2="510.3" y2="1048" stroke="#2c241a" stroke-width="1.4" stroke-opacity="0.3" stroke-linecap="round"/><line x1="470.7" y1="1047.3" x2="484.6" y2="1040.7" stroke="#2c241a" stroke-width="1" stroke-opacity="0.4" stroke-linecap="round"/><line x1="435.6" y1="1014.9" x2="434.3" y2="1008.1" stroke="#2c241a" stroke-width="1.6" stroke-opacity="0.5" stroke-linecap="round"/><line x1="454.4" y1="1024.4" x2="459.4" y2="1007.2" stroke="#2c241a" stroke-width="1.7" stroke-opacity="0.4" stroke-linecap="round"/><line x1="451.1" y1="1022.3" x2="454" y2="1007.4" stroke="#2c241a" stroke-width="1.1" stroke-opacity="0.4" stroke-linecap="round"/><line x1="425" y1="1014.2" x2="419.7" y2="1001.4" stroke="#2c241a" stroke-width="1.4" stroke-opacity="0.5" stroke-linecap="round"/><line x1="454.9" y1="1025.8" x2="458.9" y2="1012.9" stroke="#2c241a" stroke-width="1.2" stroke-opacity="0.4" stroke-linecap="round"/><line x1="422.7" y1="1039.1" x2="410.8" y2="1027.4" stroke="#2c241a" stroke-width="1" stroke-opacity="0.3" stroke-linecap="round"/><line x1="421.6" y1="1079.7" x2="412.3" y2="1087.9" stroke="#2c241a" stroke-width="1.2" stroke-opacity="0.5" stroke-linecap="round"/><line x1="409.1" y1="1053.2" x2="396.7" y2="1050.8" stroke="#2c241a" stroke-width="1.6" stroke-opacity="0.3" stroke-linecap="round"/><line x1="475" y1="1075.1" x2="486.6" y2="1080.7" stroke="#2c241a" stroke-width="1.5" stroke-opacity="0.5" stroke-linecap="round"/><line x1="458.9" y1="1094.9" x2="464.9" y2="1108.9" stroke="#2c241a" stroke-width="1.1" stroke-opacity="0.3" stroke-linecap="round"/><line x1="403.6" y1="1051.1" x2="389.9" y2="1048.1" stroke="#2c241a" stroke-width="2" stroke-opacity="0.2" stroke-linecap="round"/><line x1="476.7" y1="1036.8" x2="487.5" y2="1029.1" stroke="#2c241a" stroke-width="1.2" stroke-opacity="0.4" stroke-linecap="round"/><line x1="450.8" y1="1088.9" x2="454.5" y2="1104.4" stroke="#2c241a" stroke-width="1.6" stroke-opacity="0.2" stroke-linecap="round"/><line x1="471.4" y1="1085.2" x2="483" y2="1095.9" stroke="#2c241a" stroke-width="1.4" stroke-opacity="0.4" stroke-linecap="round"/><line x1="396.3" y1="1064.7" x2="382.3" y2="1066.1" stroke="#2c241a" stroke-width="1.1" stroke-opacity="0.3" stroke-linecap="round"/><line x1="408.2" y1="1034.1" x2="402.5" y2="1030" stroke="#2c241a" stroke-width="1.2" stroke-opacity="0.4" stroke-linecap="round"/><line x1="409.5" y1="1060.5" x2="398.4" y2="1060.7" stroke="#2c241a" stroke-width="1.3" stroke-opacity="0.5" stroke-linecap="round"/><line x1="429.7" y1="1031.4" x2="425.3" y2="1022.8" stroke="#2c241a" stroke-width="1.6" stroke-opacity="0.2" stroke-linecap="round"/><line x1="486.4" y1="1072.6" x2="503.6" y2="1077.7" stroke="#2c241a" stroke-width="1.8" stroke-opacity="0.2" stroke-linecap="round"/><line x1="399.6" y1="1064.4" x2="392.7" y2="1065.1" stroke="#2c241a" stroke-width="1.1" stroke-opacity="0.3" stroke-linecap="round"/><line x1="465" y1="1081.5" x2="474.5" y2="1091.2" stroke="#2c241a" stroke-width="1.2" stroke-opacity="0.5" stroke-linecap="round"/><line x1="398.7" y1="1044" x2="390.5" y2="1041.1" stroke="#2c241a" stroke-width="1.2" stroke-opacity="0.3" stroke-linecap="round"/><line x1="476.5" y1="1071.2" x2="485.6" y2="1074.3" stroke="#2c241a" stroke-width="1.4" stroke-opacity="0.3" stroke-linecap="round"/><line x1="491" y1="1055.3" x2="500.4" y2="1054.4" stroke="#2c241a" stroke-width="1" stroke-opacity="0.4" stroke-linecap="round"/><line x1="467.8" y1="1081.8" x2="478.3" y2="1091.4" stroke="#2c241a" stroke-width="1" stroke-opacity="0.5" stroke-linecap="round"/><line x1="486.6" y1="1086.1" x2="495.2" y2="1091.4" stroke="#2c241a" stroke-width="1.5" stroke-opacity="0.3" stroke-linecap="round"/><line x1="411.1" y1="1043.5" x2="405.4" y2="1040.6" stroke="#2c241a" stroke-width="0.9" stroke-opacity="0.5" stroke-linecap="round"/><line x1="399.7" y1="1067" x2="394" y2="1067.9" stroke="#2c241a" stroke-width="1.4" stroke-opacity="0.4" stroke-linecap="round"/><line x1="421.8" y1="1081.9" x2="412" y2="1091.6" stroke="#2c241a" stroke-width="1.6" stroke-opacity="0.5" stroke-linecap="round"/><line x1="469" y1="1074.4" x2="480.5" y2="1081" stroke="#2c241a" stroke-width="1.6" stroke-opacity="0.3" stroke-linecap="round"/><line x1="419.7" y1="1019.6" x2="414.2" y2="1010.7" stroke="#2c241a" stroke-width="0.9" stroke-opacity="0.5" stroke-linecap="round"/><line x1="491" y1="1064" x2="497.8" y2="1064.5" stroke="#2c241a" stroke-width="1.2" stroke-opacity="0.4" stroke-linecap="round"/><line x1="464.8" y1="1035.6" x2="468.4" y2="1031.5" stroke="#2c241a" stroke-width="0.8" stroke-opacity="0.4" stroke-linecap="round"/><line x1="401.6" y1="1037.3" x2="391.5" y2="1031.9" stroke="#2c241a" stroke-width="1.4" stroke-opacity="0.5" stroke-linecap="round"/><line x1="449.5" y1="1023.2" x2="451.6" y2="1009.3" stroke="#2c241a" stroke-width="1.3" stroke-opacity="0.2" stroke-linecap="round"/><line x1="426.5" y1="1022.8" x2="418.9" y2="1006.6" stroke="#2c241a" stroke-width="1.6" stroke-opacity="0.3" stroke-linecap="round"/><line x1="449" y1="1020.2" x2="449.8" y2="1014.2" stroke="#2c241a" stroke-width="1.4" stroke-opacity="0.5" stroke-linecap="round"/><line x1="417.9" y1="1033.2" x2="414.3" y2="1029.6" stroke="#2c241a" stroke-width="1.6" stroke-opacity="0.5" stroke-linecap="round"/><line x1="464.7" y1="1034.5" x2="468.8" y2="1029.4" stroke="#2c241a" stroke-width="1.4" stroke-opacity="0.3" stroke-linecap="round"/><line x1="409.6" y1="1044.1" x2="396.3" y2="1037.9" stroke="#2c241a" stroke-width="1.9" stroke-opacity="0.3" stroke-linecap="round"/><line x1="443.2" y1="1016.7" x2="443.1" y2="1009.8" stroke="#2c241a" stroke-width="1.7" stroke-opacity="0.3" stroke-linecap="round"/><line x1="407.6" y1="1046.2" x2="394.7" y2="1041.4" stroke="#2c241a" stroke-width="1.9" stroke-opacity="0.5" stroke-linecap="round"/><line x1="471.1" y1="1069.3" x2="476.6" y2="1071.2" stroke="#2c241a" stroke-width="1.9" stroke-opacity="0.4" stroke-linecap="round"/><line x1="417.1" y1="1035.3" x2="410.4" y2="1029.1" stroke="#2c241a" stroke-width="1.5" stroke-opacity="0.5" stroke-linecap="round"/><line x1="465.1" y1="1024.4" x2="469.7" y2="1016.5" stroke="#2c241a" stroke-width="1.9" stroke-opacity="0.5" stroke-linecap="round"/><line x1="412.9" y1="1066" x2="395.7" y2="1069.3" stroke="#2c241a" stroke-width="0.9" stroke-opacity="0.5" stroke-linecap="round"/><line x1="467.5" y1="1099.1" x2="473.2" y2="1108.7" stroke="#2c241a" stroke-width="1.7" stroke-opacity="0.4" stroke-linecap="round"/><line x1="437.9" y1="1104.2" x2="436.6" y2="1113.4" stroke="#2c241a" stroke-width="1.1" stroke-opacity="0.4" stroke-linecap="round"/><line x1="417.4" y1="1022.9" x2="409.9" y2="1012.5" stroke="#2c241a" stroke-width="1.8" stroke-opacity="0.5" stroke-linecap="round"/><line x1="475.2" y1="1063" x2="490.9" y2="1064.6" stroke="#2c241a" stroke-width="1.5" stroke-opacity="0.5" stroke-linecap="round"/><line x1="444.9" y1="1096.5" x2="445.1" y2="1106.4" stroke="#2c241a" stroke-width="1.7" stroke-opacity="0.3" stroke-linecap="round"/><line x1="402.9" y1="1073" x2="394.1" y2="1075.8" stroke="#2c241a" stroke-width="1.1" stroke-opacity="0.3" stroke-linecap="round"/><line x1="483.3" y1="1038.6" x2="496.7" y2="1031.3" stroke="#2c241a" stroke-width="1.1" stroke-opacity="0.2" stroke-linecap="round"/><line x1="482.5" y1="1028.4" x2="487.9" y2="1024" stroke="#2c241a" stroke-width="2" stroke-opacity="0.5" stroke-linecap="round"/><line x1="400.9" y1="1046.6" x2="389.9" y2="1043.2" stroke="#2c241a" stroke-width="1.4" stroke-opacity="0.4" stroke-linecap="round"/><line x1="407.8" y1="1063.5" x2="392.6" y2="1064.9" stroke="#2c241a" stroke-width="1.7" stroke-opacity="0.5" stroke-linecap="round"/><line x1="433.3" y1="1087.2" x2="429.6" y2="1096.7" stroke="#2c241a" stroke-width="1.7" stroke-opacity="0.5" stroke-linecap="round"/><line x1="419.8" y1="1045.4" x2="411.3" y2="1040.3" stroke="#2c241a" stroke-width="1.4" stroke-opacity="0.4" stroke-linecap="round"/><line x1="426" y1="1083.2" x2="419.7" y2="1091.2" stroke="#2c241a" stroke-width="1.4" stroke-opacity="0.3" stroke-linecap="round"/>
<ellipse cx="444" cy="1058" rx="56" ry="53" fill="url(#sph1)"/>
<circle cx="457" cy="1036.4" r="1.7" fill="#1e180f" fill-opacity="0.3"/><circle cx="450.9" cy="1075.5" r="2" fill="#2a2217" fill-opacity="0.5"/><circle cx="418.3" cy="1088.1" r="2.2" fill="#1e180f" fill-opacity="0.3"/><circle cx="472.1" cy="1057.5" r="1.1" fill="#3a3020" fill-opacity="0.5"/><circle cx="466.5" cy="1070.1" r="1" fill="#2a2217" fill-opacity="0.5"/><circle cx="452.4" cy="1059" r="2.4" fill="#3a3020" fill-opacity="0.5"/><circle cx="422.5" cy="1048.8" r="2.1" fill="#2a2217" fill-opacity="0.3"/><circle cx="410.5" cy="1069.1" r="1.9" fill="#1e180f" fill-opacity="0.4"/><circle cx="464" cy="1062.6" r="1.3" fill="#1e180f" fill-opacity="0.3"/><circle cx="471.3" cy="1063.8" r="2" fill="#2a2217" fill-opacity="0.7"/><circle cx="453.8" cy="1052" r="1.8" fill="#2a2217" fill-opacity="0.7"/><circle cx="440.3" cy="1045.3" r="1.4" fill="#1e180f" fill-opacity="0.5"/><circle cx="480.2" cy="1048.3" r="1.6" fill="#2a2217" fill-opacity="0.6"/><circle cx="428.6" cy="1073.5" r="2" fill="#1e180f" fill-opacity="0.3"/><circle cx="443" cy="1084.1" r="2.3" fill="#1e180f" fill-opacity="0.6"/><circle cx="483" cy="1069.4" r="2" fill="#3a3020" fill-opacity="0.6"/><circle cx="429.5" cy="1059.5" r="1.4" fill="#1e180f" fill-opacity="0.7"/><circle cx="432.9" cy="1036.4" r="1.8" fill="#3a3020" fill-opacity="0.3"/><circle cx="433.6" cy="1077.9" r="1.2" fill="#2a2217" fill-opacity="0.4"/><circle cx="405.4" cy="1072.2" r="2.3" fill="#1e180f" fill-opacity="0.5"/><circle cx="479.1" cy="1037.5" r="1.2" fill="#1e180f" fill-opacity="0.3"/><circle cx="423.4" cy="1039.8" r="2" fill="#2a2217" fill-opacity="0.7"/><circle cx="469.5" cy="1045.7" r="1" fill="#1e180f" fill-opacity="0.5"/><circle cx="421.7" cy="1091.7" r="1.7" fill="#3a3020" fill-opacity="0.4"/><circle cx="424.6" cy="1090.9" r="1.3" fill="#2a2217" fill-opacity="0.5"/><circle cx="470.4" cy="1090.4" r="1.4" fill="#2a2217" fill-opacity="0.4"/><circle cx="478.3" cy="1063.3" r="1.4" fill="#1e180f" fill-opacity="0.4"/><circle cx="468" cy="1076.8" r="1.7" fill="#1e180f" fill-opacity="0.7"/><circle cx="484.8" cy="1072.6" r="1.9" fill="#1e180f" fill-opacity="0.5"/><circle cx="452.1" cy="1044.9" r="2.1" fill="#2a2217" fill-opacity="0.4"/><circle cx="442.4" cy="1079.4" r="1.3" fill="#2a2217" fill-opacity="0.4"/><circle cx="452.8" cy="1051.6" r="2" fill="#2a2217" fill-opacity="0.3"/><circle cx="424.5" cy="1035.5" r="1.7" fill="#3a3020" fill-opacity="0.3"/><circle cx="486" cy="1058.5" r="1.7" fill="#1e180f" fill-opacity="0.4"/><circle cx="472.5" cy="1065.1" r="1.4" fill="#1e180f" fill-opacity="0.3"/><circle cx="461.2" cy="1093" r="2" fill="#1e180f" fill-opacity="0.5"/><circle cx="464.7" cy="1021.5" r="2" fill="#2a2217" fill-opacity="0.3"/><circle cx="468.5" cy="1085.3" r="1.9" fill="#1e180f" fill-opacity="0.5"/><circle cx="447.5" cy="1068.8" r="2" fill="#2a2217" fill-opacity="0.6"/><circle cx="472.6" cy="1042.1" r="1.5" fill="#2a2217" fill-opacity="0.6"/><circle cx="465.3" cy="1034.8" r="1" fill="#2a2217" fill-opacity="0.3"/><circle cx="432.4" cy="1039.1" r="1.8" fill="#2a2217" fill-opacity="0.3"/><circle cx="433.7" cy="1026.1" r="2.2" fill="#2a2217" fill-opacity="0.5"/><circle cx="412.9" cy="1068.6" r="1.2" fill="#3a3020" fill-opacity="0.4"/><circle cx="465.2" cy="1021.2" r="2.1" fill="#2a2217" fill-opacity="0.5"/><circle cx="463.9" cy="1043.8" r="1.2" fill="#3a3020" fill-opacity="0.5"/><circle cx="410.6" cy="1055.3" r="1.8" fill="#1e180f" fill-opacity="0.4"/><circle cx="474.7" cy="1076.3" r="1.2" fill="#2a2217" fill-opacity="0.4"/><circle cx="447.3" cy="1051" r="1.1" fill="#3a3020" fill-opacity="0.6"/><circle cx="441" cy="1098.2" r="1.9" fill="#2a2217" fill-opacity="0.5"/><circle cx="439.7" cy="1044.5" r="2.2" fill="#3a3020" fill-opacity="0.3"/><circle cx="439.5" cy="1087.7" r="1.8" fill="#2a2217" fill-opacity="0.3"/><circle cx="475.2" cy="1086.6" r="1.8" fill="#1e180f" fill-opacity="0.6"/><circle cx="465" cy="1084.6" r="2" fill="#1e180f" fill-opacity="0.7"/><circle cx="480.4" cy="1062.1" r="2" fill="#3a3020" fill-opacity="0.6"/><circle cx="415.4" cy="1053.6" r="2.3" fill="#2a2217" fill-opacity="0.4"/><circle cx="445.6" cy="1083.4" r="1.6" fill="#3a3020" fill-opacity="0.6"/><circle cx="479.4" cy="1037.3" r="2.2" fill="#1e180f" fill-opacity="0.4"/><circle cx="466.9" cy="1086.9" r="1.5" fill="#2a2217" fill-opacity="0.5"/><circle cx="459.1" cy="1059.1" r="1.3" fill="#2a2217" fill-opacity="0.4"/><circle cx="437.4" cy="1057.8" r="1.2" fill="#2a2217" fill-opacity="0.6"/><circle cx="477.8" cy="1044.5" r="2.1" fill="#1e180f" fill-opacity="0.3"/><circle cx="429.1" cy="1040.4" r="1.9" fill="#2a2217" fill-opacity="0.5"/><circle cx="447" cy="1050.2" r="1.1" fill="#1e180f" fill-opacity="0.5"/><circle cx="403" cy="1075.4" r="1.4" fill="#2a2217" fill-opacity="0.4"/><circle cx="449.6" cy="1067.4" r="2.3" fill="#3a3020" fill-opacity="0.7"/><circle cx="474.5" cy="1075.1" r="2.3" fill="#2a2217" fill-opacity="0.3"/><circle cx="460.9" cy="1075.5" r="1.6" fill="#2a2217" fill-opacity="0.4"/><circle cx="440.5" cy="1020.3" r="1.4" fill="#2a2217" fill-opacity="0.5"/><circle cx="410.5" cy="1042.9" r="1.3" fill="#3a3020" fill-opacity="0.4"/><circle cx="463.7" cy="1042.8" r="1.7" fill="#2a2217" fill-opacity="0.3"/><circle cx="434" cy="1074.5" r="1.8" fill="#3a3020" fill-opacity="0.4"/><circle cx="460.5" cy="1049.9" r="2.3" fill="#2a2217" fill-opacity="0.5"/><circle cx="419.5" cy="1059.3" r="2.4" fill="#2a2217" fill-opacity="0.3"/><circle cx="477.8" cy="1062.5" r="1.8" fill="#2a2217" fill-opacity="0.4"/><circle cx="470.5" cy="1068.4" r="1.6" fill="#3a3020" fill-opacity="0.6"/><circle cx="398.6" cy="1052.3" r="1.9" fill="#1e180f" fill-opacity="0.4"/><circle cx="435.5" cy="1043.6" r="1.3" fill="#3a3020" fill-opacity="0.6"/><circle cx="458.3" cy="1029.5" r="2" fill="#3a3020" fill-opacity="0.7"/><circle cx="467.8" cy="1057.4" r="1.9" fill="#3a3020" fill-opacity="0.7"/><circle cx="473.9" cy="1087.4" r="1" fill="#3a3020" fill-opacity="0.5"/><circle cx="398.9" cy="1058.6" r="1.8" fill="#2a2217" fill-opacity="0.6"/><circle cx="437.4" cy="1092.1" r="1.2" fill="#2a2217" fill-opacity="0.6"/><circle cx="437.5" cy="1083.4" r="1.5" fill="#3a3020" fill-opacity="0.5"/><circle cx="424.5" cy="1074.6" r="2.1" fill="#2a2217" fill-opacity="0.4"/><circle cx="433.6" cy="1088.7" r="2.1" fill="#2a2217" fill-opacity="0.5"/><circle cx="432.1" cy="1051.6" r="2.3" fill="#2a2217" fill-opacity="0.7"/><circle cx="426.4" cy="1044.4" r="1.5" fill="#2a2217" fill-opacity="0.7"/><circle cx="451.1" cy="1056.1" r="1.4" fill="#2a2217" fill-opacity="0.4"/><circle cx="419" cy="1052.4" r="1.9" fill="#2a2217" fill-opacity="0.5"/><circle cx="406.1" cy="1054.1" r="1.5" fill="#2a2217" fill-opacity="0.3"/><circle cx="430.2" cy="1031.5" r="1" fill="#1e180f" fill-opacity="0.5"/><circle cx="466.9" cy="1073.7" r="1.6" fill="#3a3020" fill-opacity="0.7"/><circle cx="455.3" cy="1073.7" r="1.6" fill="#2a2217" fill-opacity="0.4"/><circle cx="411.5" cy="1027" r="1.5" fill="#3a3020" fill-opacity="0.6"/><circle cx="467.2" cy="1072.5" r="1.5" fill="#1e180f" fill-opacity="0.6"/><circle cx="428.8" cy="1056.8" r="2.3" fill="#3a3020" fill-opacity="0.4"/><circle cx="474.1" cy="1045.6" r="2.4" fill="#3a3020" fill-opacity="0.3"/><circle cx="435.8" cy="1088.5" r="1.7" fill="#1e180f" fill-opacity="0.4"/><circle cx="476.1" cy="1070.2" r="1.1" fill="#3a3020" fill-opacity="0.7"/><circle cx="437.8" cy="1051.2" r="1.6" fill="#1e180f" fill-opacity="0.4"/><circle cx="443" cy="1055.4" r="1.4" fill="#1e180f" fill-opacity="0.5"/><circle cx="434" cy="1041" r="1.7" fill="#3a3020" fill-opacity="0.5"/><circle cx="474" cy="1027.9" r="1.7" fill="#1e180f" fill-opacity="0.5"/><circle cx="430.4" cy="1066.1" r="1.2" fill="#3a3020" fill-opacity="0.3"/><circle cx="459.4" cy="1068.7" r="1.7" fill="#2a2217" fill-opacity="0.5"/><circle cx="448" cy="1047.7" r="1" fill="#3a3020" fill-opacity="0.4"/><circle cx="438.1" cy="1032.4" r="1.2" fill="#2a2217" fill-opacity="0.5"/><circle cx="472.4" cy="1024.9" r="1.1" fill="#1e180f" fill-opacity="0.5"/><circle cx="435.9" cy="1064.8" r="2.2" fill="#3a3020" fill-opacity="0.6"/><circle cx="454.3" cy="1060.8" r="1.3" fill="#1e180f" fill-opacity="0.3"/><circle cx="482.6" cy="1040.9" r="1.4" fill="#2a2217" fill-opacity="0.4"/><circle cx="408" cy="1032.1" r="1.7" fill="#1e180f" fill-opacity="0.4"/><circle cx="414" cy="1081.8" r="1.3" fill="#2a2217" fill-opacity="0.4"/><circle cx="442.4" cy="1051.6" r="2.2" fill="#1e180f" fill-opacity="0.3"/><circle cx="431.5" cy="1072.8" r="2.4" fill="#2a2217" fill-opacity="0.4"/><circle cx="426.7" cy="1077.3" r="2.2" fill="#2a2217" fill-opacity="0.4"/><circle cx="458.8" cy="1064.2" r="2.2" fill="#2a2217" fill-opacity="0.5"/><circle cx="420.1" cy="1077.5" r="1.5" fill="#2a2217" fill-opacity="0.3"/><circle cx="430.2" cy="1035.9" r="1.2" fill="#3a3020" fill-opacity="0.3"/><circle cx="455.2" cy="1088.6" r="2.1" fill="#3a3020" fill-opacity="0.4"/><circle cx="465.3" cy="1024.2" r="1.2" fill="#2a2217" fill-opacity="0.3"/><circle cx="413.8" cy="1077.6" r="1.8" fill="#2a2217" fill-opacity="0.7"/><circle cx="422.1" cy="1057.4" r="1.6" fill="#1e180f" fill-opacity="0.7"/><circle cx="479.5" cy="1057.6" r="1.6" fill="#2a2217" fill-opacity="0.5"/><circle cx="416.9" cy="1075.8" r="1.2" fill="#1e180f" fill-opacity="0.6"/><circle cx="479.6" cy="1080.1" r="2" fill="#2a2217" fill-opacity="0.3"/><circle cx="440.5" cy="1041.6" r="1" fill="#3a3020" fill-opacity="0.3"/><circle cx="462.8" cy="1094.4" r="1.4" fill="#3a3020" fill-opacity="0.7"/><circle cx="484" cy="1075.4" r="2.1" fill="#2a2217" fill-opacity="0.3"/><circle cx="441.3" cy="1045.2" r="1.4" fill="#3a3020" fill-opacity="0.4"/><circle cx="417.9" cy="1089.8" r="1.7" fill="#3a3020" fill-opacity="0.6"/><circle cx="454.8" cy="1045.8" r="1.4" fill="#1e180f" fill-opacity="0.4"/><circle cx="455.7" cy="1023.2" r="2.3" fill="#1e180f" fill-opacity="0.5"/><circle cx="436.8" cy="1037.2" r="2.2" fill="#2a2217" fill-opacity="0.7"/><circle cx="464.3" cy="1071.7" r="1.4" fill="#3a3020" fill-opacity="0.6"/><circle cx="441.8" cy="1049.4" r="1.1" fill="#1e180f" fill-opacity="0.4"/><circle cx="444.8" cy="1040.6" r="2" fill="#3a3020" fill-opacity="0.4"/><circle cx="431.4" cy="1043.8" r="2.2" fill="#3a3020" fill-opacity="0.5"/><circle cx="400.1" cy="1052.5" r="1.9" fill="#3a3020" fill-opacity="0.4"/>
<circle cx="480.5" cy="1058.2" r="1.8" fill="#5e5645" fill-opacity="0.4"/><circle cx="465.7" cy="1037.5" r="1.7" fill="#6a624f" fill-opacity="0.4"/><circle cx="466" cy="1063" r="1.8" fill="#5e5645" fill-opacity="0.4"/><circle cx="472.6" cy="1074.3" r="1.4" fill="#6a624f" fill-opacity="0.3"/><circle cx="476.9" cy="1077.8" r="1.4" fill="#5e5645" fill-opacity="0.4"/><circle cx="441.4" cy="1023.5" r="1.6" fill="#5e5645" fill-opacity="0.3"/><circle cx="435.9" cy="1042.6" r="1.7" fill="#6a624f" fill-opacity="0.3"/><circle cx="458.5" cy="1092.4" r="1.8" fill="#5e5645" fill-opacity="0.2"/><circle cx="462.2" cy="1086.8" r="1.2" fill="#5e5645" fill-opacity="0.3"/><circle cx="466.3" cy="1066.3" r="1.4" fill="#6a624f" fill-opacity="0.4"/><circle cx="465.6" cy="1081.9" r="1.5" fill="#5e5645" fill-opacity="0.3"/><circle cx="445.5" cy="1085.2" r="1.4" fill="#5e5645" fill-opacity="0.4"/><circle cx="466.5" cy="1081.8" r="1.6" fill="#6a624f" fill-opacity="0.3"/><circle cx="455.8" cy="1032.2" r="1.8" fill="#6a624f" fill-opacity="0.4"/><circle cx="466.3" cy="1089.1" r="1.8" fill="#5e5645" fill-opacity="0.4"/><circle cx="460.2" cy="1071.5" r="1.4" fill="#6a624f" fill-opacity="0.2"/><circle cx="461.5" cy="1045.2" r="1.1" fill="#5e5645" fill-opacity="0.3"/><circle cx="461.3" cy="1072.1" r="1.5" fill="#5e5645" fill-opacity="0.3"/><circle cx="436" cy="1055.1" r="1.5" fill="#5e5645" fill-opacity="0.2"/><circle cx="435.9" cy="1021.2" r="1.6" fill="#6a624f" fill-opacity="0.4"/><circle cx="470.9" cy="1050.9" r="1.8" fill="#5e5645" fill-opacity="0.2"/><circle cx="472.1" cy="1043.2" r="1.6" fill="#5e5645" fill-opacity="0.4"/><circle cx="474.5" cy="1073.5" r="1" fill="#5e5645" fill-opacity="0.4"/><circle cx="439.1" cy="1073.7" r="1.6" fill="#6a624f" fill-opacity="0.2"/><circle cx="439.7" cy="1037.2" r="1.6" fill="#5e5645" fill-opacity="0.2"/><circle cx="454.3" cy="1038.9" r="1.4" fill="#5e5645" fill-opacity="0.4"/><circle cx="443.8" cy="1067.1" r="1.1" fill="#5e5645" fill-opacity="0.4"/><circle cx="470.5" cy="1048.9" r="1.5" fill="#6a624f" fill-opacity="0.4"/><circle cx="418.7" cy="1039.9" r="1.1" fill="#6a624f" fill-opacity="0.2"/><circle cx="407.1" cy="1071.1" r="1.1" fill="#6a624f" fill-opacity="0.4"/><circle cx="425.5" cy="1060.3" r="1.4" fill="#6a624f" fill-opacity="0.4"/><circle cx="465.8" cy="1031.4" r="1.4" fill="#5e5645" fill-opacity="0.2"/><circle cx="475.7" cy="1068.9" r="1.9" fill="#6a624f" fill-opacity="0.3"/><circle cx="425.7" cy="1028.2" r="1.9" fill="#6a624f" fill-opacity="0.3"/><circle cx="479.9" cy="1058.9" r="1.7" fill="#6a624f" fill-opacity="0.3"/><circle cx="416.3" cy="1050.8" r="1.4" fill="#6a624f" fill-opacity="0.4"/><circle cx="474.6" cy="1050.9" r="1.8" fill="#6a624f" fill-opacity="0.4"/><circle cx="428.1" cy="1084.9" r="1.6" fill="#5e5645" fill-opacity="0.4"/><circle cx="412.1" cy="1061.7" r="1.3" fill="#5e5645" fill-opacity="0.3"/><circle cx="419.4" cy="1031.9" r="1.2" fill="#5e5645" fill-opacity="0.4"/>
<path d="M488,1128 L497,1150 L507,1168" stroke="#3a3428" stroke-width="1.8" fill="none" opacity="0.8"/>
<ellipse cx="345" cy="1031" rx="6" ry="3.5" fill="#3e3a30" transform="rotate(-25 345 1031)" opacity="0.85"/>
<circle cx="647.3" cy="1068.1" r="1.4" fill="#5a5444" fill-opacity="0.5"/><circle cx="640.7" cy="1068.6" r="1.1" fill="#4a4438" fill-opacity="0.5"/><circle cx="649.1" cy="1057.3" r="0.9" fill="#5a5444" fill-opacity="0.7"/><circle cx="645" cy="1069.6" r="1.5" fill="#4a4438" fill-opacity="0.6"/><circle cx="641.8" cy="1069.5" r="0.9" fill="#4a4438" fill-opacity="0.7"/><circle cx="633.9" cy="1053.9" r="0.9" fill="#4a4438" fill-opacity="0.7"/><circle cx="651.1" cy="1060.2" r="1.3" fill="#5a5444" fill-opacity="0.6"/><circle cx="646.9" cy="1061.1" r="1.3" fill="#4a4438" fill-opacity="0.5"/><circle cx="640.6" cy="1059.6" r="1" fill="#5a5444" fill-opacity="0.4"/><circle cx="635.3" cy="1052.7" r="1.3" fill="#4a4438" fill-opacity="0.7"/><circle cx="626.5" cy="1066.2" r="1.4" fill="#4a4438" fill-opacity="0.6"/><circle cx="653" cy="1057.4" r="1" fill="#5a5444" fill-opacity="0.7"/><circle cx="639.8" cy="1060.9" r="1.1" fill="#4a4438" fill-opacity="0.5"/><circle cx="638.8" cy="1052.3" r="1.5" fill="#4a4438" fill-opacity="0.7"/><circle cx="634.2" cy="1066.7" r="1.1" fill="#4a4438" fill-opacity="0.4"/><circle cx="646.7" cy="1059.4" r="1.2" fill="#5a5444" fill-opacity="0.4"/><circle cx="650.6" cy="1061.5" r="1.6" fill="#5a5444" fill-opacity="0.4"/><circle cx="642.2" cy="1057.9" r="1.4" fill="#5a5444" fill-opacity="0.7"/><circle cx="632.9" cy="1054" r="1.4" fill="#5a5444" fill-opacity="0.6"/><circle cx="634.7" cy="1053.7" r="1.7" fill="#4a4438" fill-opacity="0.4"/><circle cx="651.2" cy="1061.8" r="1.3" fill="#4a4438" fill-opacity="0.7"/><circle cx="646.7" cy="1062.9" r="1.6" fill="#5a5444" fill-opacity="0.7"/><circle cx="653" cy="1060.3" r="1.2" fill="#4a4438" fill-opacity="0.7"/><circle cx="636.6" cy="1060.2" r="1.1" fill="#4a4438" fill-opacity="0.5"/><circle cx="648.6" cy="1067.8" r="1" fill="#5a5444" fill-opacity="0.7"/>
<circle cx="203.3" cy="1201.7" r="1.9" fill="#4a463a" fill-opacity="0.3"/><circle cx="198.8" cy="1177.3" r="0.8" fill="#4a463a" fill-opacity="0.7"/><circle cx="196" cy="1171" r="1.7" fill="#5e5a4c" fill-opacity="0.4"/><circle cx="209.3" cy="1204.6" r="1.1" fill="#5e5a4c" fill-opacity="0.7"/><circle cx="231" cy="1189.5" r="1.7" fill="#5e5a4c" fill-opacity="0.6"/><circle cx="198.1" cy="1168.4" r="1.2" fill="#4a463a" fill-opacity="0.6"/><circle cx="213.7" cy="1209.9" r="1" fill="#5e5a4c" fill-opacity="0.4"/><circle cx="213.9" cy="1161" r="1.4" fill="#5e5a4c" fill-opacity="0.4"/><circle cx="196.3" cy="1179.4" r="0.9" fill="#4a463a" fill-opacity="0.6"/><circle cx="229.1" cy="1168.5" r="1.4" fill="#5e5a4c" fill-opacity="0.6"/><circle cx="222.1" cy="1184.8" r="1" fill="#4a463a" fill-opacity="0.5"/><circle cx="193.9" cy="1200" r="1.9" fill="#5e5a4c" fill-opacity="0.4"/><circle cx="209.5" cy="1171.2" r="1.5" fill="#4a463a" fill-opacity="0.3"/><circle cx="221.2" cy="1210.1" r="1.5" fill="#4a463a" fill-opacity="0.5"/><circle cx="227.5" cy="1183.7" r="1.7" fill="#4a463a" fill-opacity="0.6"/><circle cx="233" cy="1172.9" r="1.2" fill="#5e5a4c" fill-opacity="0.4"/><circle cx="211.8" cy="1189.2" r="1" fill="#4a463a" fill-opacity="0.4"/><circle cx="217.6" cy="1185.8" r="1.3" fill="#4a463a" fill-opacity="0.6"/><circle cx="205.1" cy="1175" r="1.7" fill="#5e5a4c" fill-opacity="0.5"/><circle cx="232.5" cy="1197" r="1.9" fill="#4a463a" fill-opacity="0.6"/><circle cx="225.5" cy="1185.5" r="1.6" fill="#5e5a4c" fill-opacity="0.6"/><circle cx="222.6" cy="1179" r="1.2" fill="#5e5a4c" fill-opacity="0.6"/><circle cx="194.3" cy="1197.9" r="1.2" fill="#5e5a4c" fill-opacity="0.6"/><circle cx="214.2" cy="1177.1" r="1.5" fill="#4a463a" fill-opacity="0.7"/><circle cx="191.6" cy="1201" r="1.8" fill="#5e5a4c" fill-opacity="0.7"/><circle cx="188.2" cy="1174.1" r="0.9" fill="#4a463a" fill-opacity="0.4"/><circle cx="223.8" cy="1186.5" r="1.4" fill="#5e5a4c" fill-opacity="0.4"/><circle cx="202.2" cy="1197.5" r="1.6" fill="#5e5a4c" fill-opacity="0.6"/><circle cx="200" cy="1175.4" r="1.7" fill="#4a463a" fill-opacity="0.6"/><circle cx="207.4" cy="1185.7" r="1.6" fill="#4a463a" fill-opacity="0.5"/><circle cx="199.8" cy="1200.6" r="1.1" fill="#4a463a" fill-opacity="0.3"/><circle cx="191.2" cy="1188.4" r="1.7" fill="#4a463a" fill-opacity="0.4"/><circle cx="200.6" cy="1172.2" r="2" fill="#5e5a4c" fill-opacity="0.5"/><circle cx="225.8" cy="1199.3" r="1" fill="#5e5a4c" fill-opacity="0.4"/><circle cx="194.4" cy="1170.1" r="1.9" fill="#5e5a4c" fill-opacity="0.5"/>
</g></g>
<g clip-path="url(#cp2)"><g filter="url(#soft)">
<rect x="680.4" y="853.8" width="471" height="360.7" fill="#afadb2"/>
<ellipse cx="930" cy="905" rx="240" ry="85" fill="#bdbbc0" filter="url(#bl40)"/>
<ellipse cx="700" cy="1130" rx="70" ry="120" fill="#9a98a0" filter="url(#bl40)"/>
<ellipse cx="1140" cy="1110" rx="45" ry="110" fill="#9f9da4" filter="url(#bl25)"/>
<ellipse cx="920" cy="1185" rx="170" ry="45" fill="#a8a6ac" filter="url(#bl40)"/>
<ellipse cx="755" cy="1060" rx="25" ry="20" fill="#9a989e" filter="url(#bl15)" opacity="0.8"/>
<ellipse cx="1045" cy="895" rx="30" ry="15" fill="#a4a2a7" filter="url(#bl15)" opacity="0.8"/>
<g transform="rotate(-12 916 1034)"><rect x="600" y="700" width="640" height="660" filter="url(#tex1)" opacity="0.2"/><rect x="600" y="700" width="640" height="660" filter="url(#tex2)" opacity="0.14"/></g>
<ellipse cx="900" cy="1012" rx="62" ry="28" fill="#948e84" filter="url(#bl8)" opacity="0.7"/>
<line x1="918.9" y1="1018.2" x2="904.1" y2="990.7" stroke="#2e281e" stroke-width="1" stroke-opacity="0.6" stroke-linecap="round"/><line x1="890" y1="1015" x2="920.6" y2="1003.1" stroke="#2e281e" stroke-width="0.8" stroke-opacity="0.5" stroke-linecap="round"/><line x1="927.6" y1="1024.8" x2="898.4" y2="1019.8" stroke="#2e281e" stroke-width="1.1" stroke-opacity="0.3" stroke-linecap="round"/><line x1="936.6" y1="1017.3" x2="926.6" y2="994.3" stroke="#2e281e" stroke-width="1.5" stroke-opacity="0.2" stroke-linecap="round"/><line x1="918.8" y1="1015.4" x2="900.2" y2="1012" stroke="#2e281e" stroke-width="1.1" stroke-opacity="0.4" stroke-linecap="round"/><line x1="934.1" y1="1019" x2="910.6" y2="991.8" stroke="#2e281e" stroke-width="1.4" stroke-opacity="0.4" stroke-linecap="round"/><line x1="924.2" y1="1025.4" x2="935.3" y2="1022" stroke="#2e281e" stroke-width="1" stroke-opacity="0.2" stroke-linecap="round"/><line x1="933.5" y1="1015.5" x2="915.8" y2="1013" stroke="#2e281e" stroke-width="1.3" stroke-opacity="0.6" stroke-linecap="round"/><line x1="859.7" y1="1023" x2="833.7" y2="1002.5" stroke="#2e281e" stroke-width="1.4" stroke-opacity="0.2" stroke-linecap="round"/><line x1="894.5" y1="1018.1" x2="902.8" y2="1011" stroke="#2e281e" stroke-width="1.5" stroke-opacity="0.5" stroke-linecap="round"/><line x1="868.7" y1="1024.8" x2="877.5" y2="1018.4" stroke="#2e281e" stroke-width="1" stroke-opacity="0.4" stroke-linecap="round"/><line x1="922.6" y1="1018.5" x2="914.3" y2="1002.9" stroke="#2e281e" stroke-width="1.1" stroke-opacity="0.5" stroke-linecap="round"/><line x1="890.7" y1="1016.7" x2="907.5" y2="989" stroke="#2e281e" stroke-width="1.3" stroke-opacity="0.3" stroke-linecap="round"/><line x1="856.4" y1="1013.9" x2="866" y2="992.7" stroke="#2e281e" stroke-width="1.3" stroke-opacity="0.5" stroke-linecap="round"/><line x1="859.3" y1="1024.5" x2="865" y2="1018.3" stroke="#2e281e" stroke-width="0.9" stroke-opacity="0.6" stroke-linecap="round"/><line x1="902.3" y1="1012" x2="916.6" y2="1009.1" stroke="#2e281e" stroke-width="1.2" stroke-opacity="0.5" stroke-linecap="round"/><line x1="944.4" y1="1019.4" x2="948.9" y2="990.2" stroke="#2e281e" stroke-width="1.6" stroke-opacity="0.2" stroke-linecap="round"/><line x1="931.8" y1="1025.6" x2="946.1" y2="1022.7" stroke="#2e281e" stroke-width="0.9" stroke-opacity="0.5" stroke-linecap="round"/><line x1="879.2" y1="1025.5" x2="865.7" y2="1023.2" stroke="#2e281e" stroke-width="0.8" stroke-opacity="0.5" stroke-linecap="round"/><line x1="879" y1="1016.6" x2="887.3" y2="1014.5" stroke="#2e281e" stroke-width="1.2" stroke-opacity="0.3" stroke-linecap="round"/><line x1="891.9" y1="1025.9" x2="877.1" y2="1002.1" stroke="#2e281e" stroke-width="1" stroke-opacity="0.4" stroke-linecap="round"/><line x1="889.5" y1="1014.1" x2="893.2" y2="987" stroke="#2e281e" stroke-width="1.5" stroke-opacity="0.5" stroke-linecap="round"/><line x1="912.1" y1="1015.3" x2="933.8" y2="1006.7" stroke="#2e281e" stroke-width="1.6" stroke-opacity="0.5" stroke-linecap="round"/><line x1="944.2" y1="1023.6" x2="962" y2="1004" stroke="#2e281e" stroke-width="0.9" stroke-opacity="0.4" stroke-linecap="round"/><line x1="919.5" y1="1017.7" x2="894.3" y2="1012.3" stroke="#2e281e" stroke-width="1.3" stroke-opacity="0.4" stroke-linecap="round"/><line x1="896" y1="1020.1" x2="906.6" y2="1003" stroke="#2e281e" stroke-width="1.3" stroke-opacity="0.4" stroke-linecap="round"/><line x1="904.2" y1="1017.3" x2="889.1" y2="991.1" stroke="#2e281e" stroke-width="1.4" stroke-opacity="0.5" stroke-linecap="round"/><line x1="860.8" y1="1025.7" x2="854.3" y2="1013.3" stroke="#2e281e" stroke-width="1.3" stroke-opacity="0.5" stroke-linecap="round"/><line x1="926.8" y1="1021.3" x2="891" y2="1010.1" stroke="#2e281e" stroke-width="1.4" stroke-opacity="0.3" stroke-linecap="round"/><line x1="932.2" y1="1016.9" x2="954.4" y2="1004" stroke="#2e281e" stroke-width="1.3" stroke-opacity="0.6" stroke-linecap="round"/><line x1="923.2" y1="1017.1" x2="909.9" y2="1013.1" stroke="#2e281e" stroke-width="0.9" stroke-opacity="0.3" stroke-linecap="round"/><line x1="868.7" y1="1021.3" x2="874.9" y2="1011.6" stroke="#2e281e" stroke-width="1.6" stroke-opacity="0.5" stroke-linecap="round"/><line x1="936.9" y1="1016.5" x2="945" y2="1001.8" stroke="#2e281e" stroke-width="1.5" stroke-opacity="0.4" stroke-linecap="round"/><line x1="918.2" y1="1017.3" x2="913.3" y2="1001.6" stroke="#2e281e" stroke-width="1.3" stroke-opacity="0.4" stroke-linecap="round"/><line x1="914.6" y1="1015.9" x2="905.6" y2="1003.9" stroke="#2e281e" stroke-width="1.2" stroke-opacity="0.2" stroke-linecap="round"/><line x1="920.8" y1="1014.4" x2="929.9" y2="995.4" stroke="#2e281e" stroke-width="0.8" stroke-opacity="0.3" stroke-linecap="round"/><line x1="914.4" y1="1020.7" x2="913.6" y2="1000.1" stroke="#2e281e" stroke-width="1.4" stroke-opacity="0.3" stroke-linecap="round"/><line x1="855.1" y1="1015.6" x2="859.4" y2="993.4" stroke="#2e281e" stroke-width="1" stroke-opacity="0.4" stroke-linecap="round"/><line x1="878" y1="1015.7" x2="898.3" y2="1008.7" stroke="#2e281e" stroke-width="1.2" stroke-opacity="0.4" stroke-linecap="round"/><line x1="866.5" y1="1025.4" x2="851" y2="1019.8" stroke="#2e281e" stroke-width="1.4" stroke-opacity="0.6" stroke-linecap="round"/><line x1="888.8" y1="1012.6" x2="907.6" y2="990.5" stroke="#2e281e" stroke-width="1.6" stroke-opacity="0.4" stroke-linecap="round"/><line x1="878.1" y1="1015.3" x2="888.8" y2="986.9" stroke="#2e281e" stroke-width="0.9" stroke-opacity="0.4" stroke-linecap="round"/><line x1="931.7" y1="1020.1" x2="940.8" y2="1018.4" stroke="#2e281e" stroke-width="1" stroke-opacity="0.5" stroke-linecap="round"/><line x1="895.1" y1="1017.5" x2="875.5" y2="1010.9" stroke="#2e281e" stroke-width="1.5" stroke-opacity="0.5" stroke-linecap="round"/><line x1="864.7" y1="1019.9" x2="893.1" y2="998" stroke="#2e281e" stroke-width="1.4" stroke-opacity="0.4" stroke-linecap="round"/><line x1="870.9" y1="1012.9" x2="891.1" y2="1010" stroke="#2e281e" stroke-width="0.9" stroke-opacity="0.5" stroke-linecap="round"/><line x1="875.9" y1="1014.8" x2="850.9" y2="1010.9" stroke="#2e281e" stroke-width="1.5" stroke-opacity="0.3" stroke-linecap="round"/><line x1="889.9" y1="1018.4" x2="885.1" y2="1010.9" stroke="#2e281e" stroke-width="1.5" stroke-opacity="0.4" stroke-linecap="round"/><line x1="899.7" y1="1023.9" x2="885.6" y2="1021.5" stroke="#2e281e" stroke-width="1.2" stroke-opacity="0.5" stroke-linecap="round"/><line x1="885.2" y1="1024.1" x2="865.9" y2="1009.9" stroke="#2e281e" stroke-width="1.4" stroke-opacity="0.5" stroke-linecap="round"/><line x1="891.6" y1="1012.7" x2="867.6" y2="1000.3" stroke="#2e281e" stroke-width="1.1" stroke-opacity="0.3" stroke-linecap="round"/><line x1="871.8" y1="1019.5" x2="895.9" y2="1015.3" stroke="#2e281e" stroke-width="0.9" stroke-opacity="0.4" stroke-linecap="round"/><line x1="881.9" y1="1017.5" x2="898.4" y2="990" stroke="#2e281e" stroke-width="1.3" stroke-opacity="0.3" stroke-linecap="round"/><line x1="889.2" y1="1018.1" x2="872.7" y2="1002.1" stroke="#2e281e" stroke-width="1" stroke-opacity="0.3" stroke-linecap="round"/><line x1="913.7" y1="1025.1" x2="892.2" y2="1008.5" stroke="#2e281e" stroke-width="1.4" stroke-opacity="0.3" stroke-linecap="round"/><line x1="885.8" y1="1018.4" x2="914.8" y2="1009.5" stroke="#2e281e" stroke-width="1.3" stroke-opacity="0.5" stroke-linecap="round"/><line x1="861.1" y1="1025.3" x2="826.8" y2="1020.1" stroke="#2e281e" stroke-width="0.8" stroke-opacity="0.3" stroke-linecap="round"/><line x1="873" y1="1014.9" x2="866.2" y2="982.2" stroke="#2e281e" stroke-width="1.3" stroke-opacity="0.4" stroke-linecap="round"/><line x1="873.3" y1="1014.8" x2="881.3" y2="1006" stroke="#2e281e" stroke-width="1.5" stroke-opacity="0.2" stroke-linecap="round"/><line x1="934.2" y1="1023.4" x2="913.7" y2="1013.1" stroke="#2e281e" stroke-width="0.8" stroke-opacity="0.5" stroke-linecap="round"/><line x1="869.8" y1="1015.1" x2="889.3" y2="994.6" stroke="#2e281e" stroke-width="1.4" stroke-opacity="0.5" stroke-linecap="round"/><line x1="869.3" y1="1022.9" x2="872.3" y2="997" stroke="#2e281e" stroke-width="1.2" stroke-opacity="0.4" stroke-linecap="round"/><line x1="863.2" y1="1012.7" x2="852.2" y2="1004.6" stroke="#2e281e" stroke-width="1.5" stroke-opacity="0.5" stroke-linecap="round"/><line x1="893.2" y1="1024.2" x2="887" y2="992.7" stroke="#2e281e" stroke-width="0.9" stroke-opacity="0.3" stroke-linecap="round"/><line x1="923.2" y1="1024.2" x2="918.1" y2="996.3" stroke="#2e281e" stroke-width="1.4" stroke-opacity="0.5" stroke-linecap="round"/><line x1="878.2" y1="1019.7" x2="870.8" y2="1009.4" stroke="#2e281e" stroke-width="1.6" stroke-opacity="0.5" stroke-linecap="round"/><line x1="942.7" y1="1016.6" x2="934.1" y2="1009.1" stroke="#2e281e" stroke-width="1" stroke-opacity="0.5" stroke-linecap="round"/><line x1="872.8" y1="1014.1" x2="879.8" y2="1004.6" stroke="#2e281e" stroke-width="1.1" stroke-opacity="0.4" stroke-linecap="round"/><line x1="886.7" y1="1021.2" x2="872.9" y2="1018.1" stroke="#2e281e" stroke-width="1.3" stroke-opacity="0.4" stroke-linecap="round"/><line x1="899.1" y1="1012.2" x2="867.8" y2="1002.3" stroke="#2e281e" stroke-width="1.5" stroke-opacity="0.6" stroke-linecap="round"/><line x1="880.2" y1="1016.2" x2="860.1" y2="1001.4" stroke="#2e281e" stroke-width="1.4" stroke-opacity="0.3" stroke-linecap="round"/><line x1="924.1" y1="1022.7" x2="921" y2="991.5" stroke="#2e281e" stroke-width="1.3" stroke-opacity="0.3" stroke-linecap="round"/><line x1="864.1" y1="1012" x2="867.1" y2="1000.9" stroke="#2e281e" stroke-width="0.9" stroke-opacity="0.3" stroke-linecap="round"/><line x1="886.5" y1="1018.7" x2="871.9" y2="1009.6" stroke="#2e281e" stroke-width="1.1" stroke-opacity="0.2" stroke-linecap="round"/><line x1="927.8" y1="1022.1" x2="946" y2="1011.1" stroke="#2e281e" stroke-width="1.4" stroke-opacity="0.2" stroke-linecap="round"/><line x1="890.4" y1="1012.5" x2="883.4" y2="1008.4" stroke="#2e281e" stroke-width="1.3" stroke-opacity="0.4" stroke-linecap="round"/><line x1="892.4" y1="1023.7" x2="897.5" y2="1016.8" stroke="#2e281e" stroke-width="1.4" stroke-opacity="0.5" stroke-linecap="round"/><line x1="914.6" y1="1013.3" x2="911.8" y2="1007.6" stroke="#2e281e" stroke-width="1.3" stroke-opacity="0.5" stroke-linecap="round"/><line x1="878.5" y1="1013.5" x2="870.5" y2="1002.7" stroke="#2e281e" stroke-width="0.9" stroke-opacity="0.3" stroke-linecap="round"/><line x1="884.2" y1="1015.4" x2="887.2" y2="993.7" stroke="#2e281e" stroke-width="0.8" stroke-opacity="0.3" stroke-linecap="round"/><line x1="880.5" y1="1019.8" x2="919.1" y2="1009.8" stroke="#2e281e" stroke-width="1.5" stroke-opacity="0.5" stroke-linecap="round"/><line x1="876.6" y1="1013.3" x2="877.6" y2="1004.4" stroke="#2e281e" stroke-width="0.8" stroke-opacity="0.5" stroke-linecap="round"/><line x1="874" y1="1022.4" x2="879.4" y2="1015.3" stroke="#2e281e" stroke-width="0.9" stroke-opacity="0.5" stroke-linecap="round"/><line x1="893.2" y1="1020.7" x2="903.9" y2="1019.3" stroke="#2e281e" stroke-width="1.3" stroke-opacity="0.2" stroke-linecap="round"/><line x1="874.6" y1="1015.4" x2="889.4" y2="990.6" stroke="#2e281e" stroke-width="1.2" stroke-opacity="0.5" stroke-linecap="round"/><line x1="861.6" y1="1016.7" x2="869.9" y2="1011.3" stroke="#2e281e" stroke-width="1" stroke-opacity="0.5" stroke-linecap="round"/><line x1="882.3" y1="1013.2" x2="856.3" y2="996.7" stroke="#2e281e" stroke-width="1.3" stroke-opacity="0.3" stroke-linecap="round"/><line x1="938.8" y1="1023" x2="934.7" y2="1017" stroke="#2e281e" stroke-width="1.4" stroke-opacity="0.3" stroke-linecap="round"/><line x1="870" y1="1023.2" x2="871.1" y2="995.6" stroke="#2e281e" stroke-width="1" stroke-opacity="0.6" stroke-linecap="round"/><line x1="918.8" y1="1012.9" x2="922.4" y2="1007.7" stroke="#2e281e" stroke-width="1.5" stroke-opacity="0.2" stroke-linecap="round"/><line x1="884.7" y1="1013" x2="886.7" y2="990.1" stroke="#2e281e" stroke-width="0.9" stroke-opacity="0.5" stroke-linecap="round"/><line x1="887.9" y1="1017.8" x2="860.1" y2="1010.6" stroke="#2e281e" stroke-width="1.6" stroke-opacity="0.4" stroke-linecap="round"/><line x1="899.3" y1="1022.8" x2="917.4" y2="1009.8" stroke="#2e281e" stroke-width="1" stroke-opacity="0.5" stroke-linecap="round"/><line x1="859.7" y1="1018.5" x2="841.9" y2="994.7" stroke="#2e281e" stroke-width="1.3" stroke-opacity="0.3" stroke-linecap="round"/><line x1="912.6" y1="1025.1" x2="904.8" y2="1005.8" stroke="#2e281e" stroke-width="1.4" stroke-opacity="0.4" stroke-linecap="round"/><line x1="911.9" y1="1013" x2="926.2" y2="987.7" stroke="#2e281e" stroke-width="1.4" stroke-opacity="0.5" stroke-linecap="round"/><line x1="876.6" y1="1020.2" x2="898.3" y2="1008.2" stroke="#2e281e" stroke-width="1.5" stroke-opacity="0.4" stroke-linecap="round"/><line x1="935.1" y1="1012.7" x2="962.8" y2="1004.4" stroke="#2e281e" stroke-width="1.1" stroke-opacity="0.5" stroke-linecap="round"/><line x1="885.8" y1="1017.3" x2="913.2" y2="994" stroke="#2e281e" stroke-width="1" stroke-opacity="0.5" stroke-linecap="round"/><line x1="914.7" y1="1024.7" x2="930.5" y2="1012.5" stroke="#2e281e" stroke-width="1" stroke-opacity="0.3" stroke-linecap="round"/><line x1="940.6" y1="1024.3" x2="947.3" y2="1005.8" stroke="#2e281e" stroke-width="1.1" stroke-opacity="0.3" stroke-linecap="round"/><line x1="904.1" y1="1013.2" x2="886.9" y2="1004" stroke="#2e281e" stroke-width="1.2" stroke-opacity="0.2" stroke-linecap="round"/><line x1="944.3" y1="1014.6" x2="927.7" y2="987" stroke="#2e281e" stroke-width="1.1" stroke-opacity="0.4" stroke-linecap="round"/><line x1="874.5" y1="1020.8" x2="861.2" y2="1008.5" stroke="#2e281e" stroke-width="1.5" stroke-opacity="0.4" stroke-linecap="round"/><line x1="868.6" y1="1014.3" x2="859.9" y2="1000.2" stroke="#2e281e" stroke-width="1.5" stroke-opacity="0.6" stroke-linecap="round"/><line x1="882.8" y1="1016.5" x2="918.1" y2="1008.4" stroke="#2e281e" stroke-width="1.4" stroke-opacity="0.4" stroke-linecap="round"/><line x1="942.1" y1="1017.5" x2="948.5" y2="1014.1" stroke="#2e281e" stroke-width="1.5" stroke-opacity="0.2" stroke-linecap="round"/><line x1="905.9" y1="1021.2" x2="884.8" y2="1001.2" stroke="#2e281e" stroke-width="1.3" stroke-opacity="0.6" stroke-linecap="round"/><line x1="922.8" y1="1021.3" x2="930" y2="1013.6" stroke="#2e281e" stroke-width="1.4" stroke-opacity="0.3" stroke-linecap="round"/><line x1="901.3" y1="1016.6" x2="897.5" y2="1003.6" stroke="#2e281e" stroke-width="1" stroke-opacity="0.3" stroke-linecap="round"/><line x1="916.8" y1="1025.1" x2="935.9" y2="1001.4" stroke="#2e281e" stroke-width="0.8" stroke-opacity="0.5" stroke-linecap="round"/><line x1="917.2" y1="1012.3" x2="916.6" y2="981.8" stroke="#2e281e" stroke-width="1.5" stroke-opacity="0.2" stroke-linecap="round"/><line x1="883" y1="1019.2" x2="878.8" y2="1009.5" stroke="#2e281e" stroke-width="1.3" stroke-opacity="0.4" stroke-linecap="round"/><line x1="898.4" y1="1012.1" x2="935.3" y2="1002.5" stroke="#2e281e" stroke-width="1" stroke-opacity="0.3" stroke-linecap="round"/><line x1="900.7" y1="1026" x2="912.8" y2="1021.8" stroke="#2e281e" stroke-width="1.3" stroke-opacity="0.6" stroke-linecap="round"/><line x1="876.8" y1="1022.8" x2="879.6" y2="1016.5" stroke="#2e281e" stroke-width="1.2" stroke-opacity="0.4" stroke-linecap="round"/><line x1="940.5" y1="1021" x2="918.6" y2="1013.3" stroke="#2e281e" stroke-width="1.6" stroke-opacity="0.3" stroke-linecap="round"/><line x1="884.2" y1="1023.7" x2="905.8" y2="1015.3" stroke="#2e281e" stroke-width="0.8" stroke-opacity="0.4" stroke-linecap="round"/><line x1="873.1" y1="1023.3" x2="881.4" y2="1019.9" stroke="#2e281e" stroke-width="1" stroke-opacity="0.4" stroke-linecap="round"/><line x1="936.7" y1="1020.2" x2="956.2" y2="991.3" stroke="#2e281e" stroke-width="1.4" stroke-opacity="0.3" stroke-linecap="round"/><line x1="881.8" y1="1026.9" x2="875.8" y2="1036.3" stroke="#2e281e" stroke-width="1.2" stroke-opacity="0.5" stroke-linecap="round"/><line x1="914.5" y1="1021.6" x2="917" y2="1029.8" stroke="#2e281e" stroke-width="1.3" stroke-opacity="0.3" stroke-linecap="round"/><line x1="934.1" y1="1024.2" x2="945" y2="1030.4" stroke="#2e281e" stroke-width="1" stroke-opacity="0.2" stroke-linecap="round"/><line x1="863.5" y1="1020.8" x2="852" y2="1027.1" stroke="#2e281e" stroke-width="1.2" stroke-opacity="0.5" stroke-linecap="round"/><line x1="866.1" y1="1021.9" x2="869.8" y2="1035.6" stroke="#2e281e" stroke-width="1" stroke-opacity="0.4" stroke-linecap="round"/><line x1="869.7" y1="1022.5" x2="865.8" y2="1025.1" stroke="#2e281e" stroke-width="1.1" stroke-opacity="0.4" stroke-linecap="round"/><line x1="908.2" y1="1021.6" x2="918.2" y2="1037.3" stroke="#2e281e" stroke-width="1.3" stroke-opacity="0.5" stroke-linecap="round"/><line x1="908.2" y1="1026.3" x2="924.2" y2="1034.6" stroke="#2e281e" stroke-width="1.2" stroke-opacity="0.5" stroke-linecap="round"/><line x1="874.1" y1="1025.2" x2="887" y2="1034.8" stroke="#2e281e" stroke-width="0.9" stroke-opacity="0.3" stroke-linecap="round"/><line x1="923.2" y1="1026.4" x2="914.5" y2="1032.7" stroke="#2e281e" stroke-width="1.1" stroke-opacity="0.3" stroke-linecap="round"/><line x1="917" y1="1019.4" x2="903.3" y2="1028.1" stroke="#2e281e" stroke-width="1" stroke-opacity="0.5" stroke-linecap="round"/><line x1="877" y1="1024.8" x2="887.3" y2="1039.4" stroke="#2e281e" stroke-width="0.8" stroke-opacity="0.2" stroke-linecap="round"/><line x1="878.8" y1="1022.3" x2="877.3" y2="1029.2" stroke="#2e281e" stroke-width="1.2" stroke-opacity="0.4" stroke-linecap="round"/><line x1="928.2" y1="1019.3" x2="924.5" y2="1025.7" stroke="#2e281e" stroke-width="1.3" stroke-opacity="0.3" stroke-linecap="round"/><line x1="882.6" y1="1018.3" x2="899.7" y2="1028.7" stroke="#2e281e" stroke-width="1.4" stroke-opacity="0.3" stroke-linecap="round"/><line x1="911.8" y1="1026.8" x2="917.5" y2="1034.8" stroke="#2e281e" stroke-width="1.3" stroke-opacity="0.4" stroke-linecap="round"/><line x1="908.4" y1="1023.1" x2="898.9" y2="1032.8" stroke="#2e281e" stroke-width="1.3" stroke-opacity="0.3" stroke-linecap="round"/><line x1="905.5" y1="1026.9" x2="907.6" y2="1031.7" stroke="#2e281e" stroke-width="0.8" stroke-opacity="0.4" stroke-linecap="round"/><line x1="936.3" y1="1020.2" x2="946.5" y2="1026.2" stroke="#2e281e" stroke-width="1.3" stroke-opacity="0.3" stroke-linecap="round"/><line x1="938.2" y1="1023.9" x2="938.1" y2="1036.2" stroke="#2e281e" stroke-width="0.8" stroke-opacity="0.4" stroke-linecap="round"/><line x1="898.7" y1="1020.9" x2="900.4" y2="1038" stroke="#2e281e" stroke-width="1.4" stroke-opacity="0.4" stroke-linecap="round"/><line x1="904.5" y1="1026.2" x2="910.5" y2="1032.4" stroke="#2e281e" stroke-width="1.4" stroke-opacity="0.4" stroke-linecap="round"/><line x1="877.8" y1="1019.7" x2="868.4" y2="1032.9" stroke="#2e281e" stroke-width="1" stroke-opacity="0.3" stroke-linecap="round"/><line x1="881.9" y1="1018.9" x2="875.8" y2="1021.2" stroke="#2e281e" stroke-width="1" stroke-opacity="0.5" stroke-linecap="round"/><line x1="913.3" y1="1026.8" x2="914.6" y2="1031.5" stroke="#2e281e" stroke-width="1" stroke-opacity="0.4" stroke-linecap="round"/><line x1="880.1" y1="1024.4" x2="874.5" y2="1035.5" stroke="#2e281e" stroke-width="1.1" stroke-opacity="0.5" stroke-linecap="round"/><line x1="909.4" y1="1019.9" x2="897" y2="1027.2" stroke="#2e281e" stroke-width="0.9" stroke-opacity="0.2" stroke-linecap="round"/><line x1="866.1" y1="1027" x2="863" y2="1030.3" stroke="#2e281e" stroke-width="1.3" stroke-opacity="0.4" stroke-linecap="round"/><line x1="921.9" y1="1020" x2="911.8" y2="1032" stroke="#2e281e" stroke-width="1.3" stroke-opacity="0.3" stroke-linecap="round"/><line x1="861.8" y1="1025.4" x2="851.9" y2="1034.9" stroke="#2e281e" stroke-width="0.8" stroke-opacity="0.3" stroke-linecap="round"/><line x1="926.8" y1="1024.4" x2="930.4" y2="1038.6" stroke="#2e281e" stroke-width="1.1" stroke-opacity="0.4" stroke-linecap="round"/><line x1="905.2" y1="1021.2" x2="901.8" y2="1029.7" stroke="#2e281e" stroke-width="0.9" stroke-opacity="0.4" stroke-linecap="round"/><line x1="893.7" y1="1018.3" x2="885.9" y2="1030.7" stroke="#2e281e" stroke-width="1.3" stroke-opacity="0.3" stroke-linecap="round"/><line x1="889.1" y1="1026.8" x2="879" y2="1033.6" stroke="#2e281e" stroke-width="0.8" stroke-opacity="0.3" stroke-linecap="round"/><line x1="931.8" y1="1027.8" x2="940.2" y2="1042" stroke="#2e281e" stroke-width="1.1" stroke-opacity="0.3" stroke-linecap="round"/><line x1="888.3" y1="1024.6" x2="894" y2="1041" stroke="#2e281e" stroke-width="0.9" stroke-opacity="0.3" stroke-linecap="round"/><line x1="901.5" y1="1025.7" x2="889.4" y2="1035.7" stroke="#2e281e" stroke-width="0.9" stroke-opacity="0.5" stroke-linecap="round"/><line x1="871.1" y1="1019.1" x2="873.8" y2="1033.1" stroke="#2e281e" stroke-width="1.1" stroke-opacity="0.2" stroke-linecap="round"/><line x1="937.9" y1="1018.9" x2="925.2" y2="1029.4" stroke="#2e281e" stroke-width="0.9" stroke-opacity="0.4" stroke-linecap="round"/><line x1="928.7" y1="1021.4" x2="916.4" y2="1027.4" stroke="#2e281e" stroke-width="1.1" stroke-opacity="0.4" stroke-linecap="round"/><line x1="860.6" y1="1020" x2="851.4" y2="1024.8" stroke="#2e281e" stroke-width="1.3" stroke-opacity="0.2" stroke-linecap="round"/><line x1="935.6" y1="1022.4" x2="923.9" y2="1029.4" stroke="#2e281e" stroke-width="1.4" stroke-opacity="0.4" stroke-linecap="round"/><line x1="920.9" y1="1023.7" x2="906.4" y2="1030.8" stroke="#2e281e" stroke-width="1.3" stroke-opacity="0.3" stroke-linecap="round"/><line x1="929" y1="1027.9" x2="922.7" y2="1040.9" stroke="#2e281e" stroke-width="1.1" stroke-opacity="0.5" stroke-linecap="round"/><line x1="869.5" y1="1023" x2="866.5" y2="1032" stroke="#2e281e" stroke-width="1.2" stroke-opacity="0.4" stroke-linecap="round"/><line x1="860.4" y1="1023.7" x2="846" y2="1031.7" stroke="#2e281e" stroke-width="0.9" stroke-opacity="0.4" stroke-linecap="round"/><line x1="879.4" y1="1027.1" x2="876.4" y2="1033.4" stroke="#2e281e" stroke-width="0.8" stroke-opacity="0.3" stroke-linecap="round"/><line x1="935.3" y1="1027.6" x2="939.6" y2="1042" stroke="#2e281e" stroke-width="0.8" stroke-opacity="0.4" stroke-linecap="round"/><line x1="893.1" y1="1018.4" x2="890.6" y2="1028.8" stroke="#2e281e" stroke-width="1.1" stroke-opacity="0.5" stroke-linecap="round"/><line x1="930.6" y1="1019" x2="926.2" y2="1023.7" stroke="#2e281e" stroke-width="1.1" stroke-opacity="0.4" stroke-linecap="round"/>
<ellipse cx="890" cy="1024" rx="44" ry="7" fill="#3a3226" filter="url(#bl4)" opacity="0.9"/>
<circle cx="885.4" cy="1023.4" r="2.1" fill="#3a3226" fill-opacity="0.8"/><circle cx="942.4" cy="1008.3" r="1.6" fill="#2a241b" fill-opacity="0.6"/><circle cx="874.1" cy="995.3" r="1.9" fill="#2a241b" fill-opacity="0.7"/><circle cx="880.9" cy="992" r="1.5" fill="#2a241b" fill-opacity="0.6"/><circle cx="905.1" cy="1018" r="1.6" fill="#3a3226" fill-opacity="0.4"/><circle cx="889.7" cy="988.1" r="1.8" fill="#2a241b" fill-opacity="0.6"/><circle cx="928.4" cy="1016.9" r="1.8" fill="#2a241b" fill-opacity="0.7"/><circle cx="924.8" cy="990.1" r="1" fill="#3a3226" fill-opacity="0.4"/><circle cx="890.9" cy="1020.2" r="1.5" fill="#3a3226" fill-opacity="0.7"/><circle cx="912.6" cy="1008.3" r="1" fill="#2a241b" fill-opacity="0.6"/><circle cx="871.8" cy="1012.2" r="1.7" fill="#2a241b" fill-opacity="0.8"/><circle cx="895.5" cy="986.7" r="2.1" fill="#2a241b" fill-opacity="0.7"/><circle cx="937.3" cy="1011.8" r="2" fill="#3a3226" fill-opacity="0.7"/><circle cx="934.1" cy="1014.4" r="1.3" fill="#3a3226" fill-opacity="0.7"/><circle cx="899.6" cy="1021.2" r="1.4" fill="#3a3226" fill-opacity="0.5"/><circle cx="909.7" cy="1016.2" r="2.1" fill="#3a3226" fill-opacity="0.7"/><circle cx="923.8" cy="987.5" r="1.9" fill="#3a3226" fill-opacity="0.7"/><circle cx="933.6" cy="1009.5" r="1.3" fill="#3a3226" fill-opacity="0.8"/><circle cx="880.8" cy="1026.5" r="1.9" fill="#3a3226" fill-opacity="0.7"/><circle cx="885.4" cy="1006.4" r="2" fill="#3a3226" fill-opacity="0.5"/><circle cx="893.9" cy="1013.2" r="1.1" fill="#3a3226" fill-opacity="0.4"/><circle cx="863.6" cy="1004.3" r="1.6" fill="#3a3226" fill-opacity="0.8"/><circle cx="859.8" cy="1005.5" r="1.7" fill="#2a241b" fill-opacity="0.4"/><circle cx="901.4" cy="985.4" r="1.8" fill="#3a3226" fill-opacity="0.7"/><circle cx="919.3" cy="1007.3" r="1.5" fill="#2a241b" fill-opacity="0.6"/><circle cx="899" cy="987.2" r="1.2" fill="#3a3226" fill-opacity="0.8"/><circle cx="935.9" cy="1020.2" r="1.7" fill="#2a241b" fill-opacity="0.6"/><circle cx="868.7" cy="996.5" r="1.3" fill="#2a241b" fill-opacity="0.7"/><circle cx="887.8" cy="1006.6" r="1" fill="#2a241b" fill-opacity="0.7"/><circle cx="880.4" cy="994.2" r="2" fill="#3a3226" fill-opacity="0.4"/><circle cx="920.5" cy="1015.8" r="1.4" fill="#2a241b" fill-opacity="0.5"/><circle cx="898.1" cy="1000.7" r="2.1" fill="#3a3226" fill-opacity="0.5"/><circle cx="907.8" cy="1022.4" r="1.9" fill="#2a241b" fill-opacity="0.7"/><circle cx="912.3" cy="989.4" r="1.3" fill="#2a241b" fill-opacity="0.7"/><circle cx="912.4" cy="1011.2" r="1.9" fill="#3a3226" fill-opacity="0.6"/><circle cx="907.4" cy="1016.2" r="1" fill="#2a241b" fill-opacity="0.5"/><circle cx="880" cy="993.2" r="1.2" fill="#2a241b" fill-opacity="0.4"/><circle cx="894.9" cy="1031" r="2.1" fill="#3a3226" fill-opacity="0.5"/><circle cx="897.1" cy="999.2" r="1.9" fill="#3a3226" fill-opacity="0.5"/><circle cx="918.8" cy="1024.9" r="2" fill="#2a241b" fill-opacity="0.4"/><circle cx="870.5" cy="1022.3" r="1.2" fill="#2a241b" fill-opacity="0.7"/><circle cx="903.4" cy="985.9" r="1.2" fill="#3a3226" fill-opacity="0.4"/><circle cx="914.5" cy="1008.4" r="1.4" fill="#3a3226" fill-opacity="0.4"/><circle cx="929.9" cy="1010.9" r="1.1" fill="#3a3226" fill-opacity="0.6"/><circle cx="870.8" cy="1008.8" r="1.5" fill="#2a241b" fill-opacity="0.8"/><circle cx="889.9" cy="1010.7" r="1.1" fill="#3a3226" fill-opacity="0.5"/><circle cx="856.3" cy="1012.5" r="1.6" fill="#2a241b" fill-opacity="0.6"/><circle cx="878.7" cy="1009.1" r="1.7" fill="#3a3226" fill-opacity="0.4"/><circle cx="931.3" cy="1002" r="1.2" fill="#2a241b" fill-opacity="0.6"/><circle cx="894.1" cy="1015" r="1.5" fill="#3a3226" fill-opacity="0.8"/><circle cx="861.8" cy="1013" r="1" fill="#3a3226" fill-opacity="0.6"/><circle cx="919.9" cy="1015.3" r="1.9" fill="#2a241b" fill-opacity="0.4"/><circle cx="931.8" cy="1006.3" r="1.1" fill="#2a241b" fill-opacity="0.6"/><circle cx="916.5" cy="986.9" r="1.7" fill="#2a241b" fill-opacity="0.6"/><circle cx="903.2" cy="1024.9" r="1.7" fill="#3a3226" fill-opacity="0.4"/><circle cx="914.8" cy="986" r="1.9" fill="#3a3226" fill-opacity="0.6"/><circle cx="877.5" cy="991.7" r="0.9" fill="#3a3226" fill-opacity="0.8"/><circle cx="918.6" cy="1013.5" r="0.9" fill="#3a3226" fill-opacity="0.8"/><circle cx="913.5" cy="996.8" r="1.3" fill="#2a241b" fill-opacity="0.8"/><circle cx="869.1" cy="1019.4" r="0.9" fill="#3a3226" fill-opacity="0.4"/><circle cx="867.4" cy="1010.5" r="2.1" fill="#3a3226" fill-opacity="0.6"/><circle cx="910.3" cy="1030.2" r="1.2" fill="#3a3226" fill-opacity="0.4"/><circle cx="931.1" cy="1008" r="1.2" fill="#3a3226" fill-opacity="0.3"/><circle cx="913" cy="1021.9" r="1.8" fill="#3a3226" fill-opacity="0.7"/><circle cx="903.1" cy="1029.9" r="1.1" fill="#3a3226" fill-opacity="0.6"/><circle cx="866.4" cy="1010.8" r="1.4" fill="#3a3226" fill-opacity="0.4"/><circle cx="932.8" cy="1024.2" r="1.1" fill="#2a241b" fill-opacity="0.8"/><circle cx="917.2" cy="1018.2" r="1.9" fill="#2a241b" fill-opacity="0.4"/><circle cx="917.4" cy="1024" r="1.5" fill="#3a3226" fill-opacity="0.4"/><circle cx="880.4" cy="1003.2" r="1.1" fill="#3a3226" fill-opacity="0.8"/><circle cx="896.7" cy="1000.8" r="1.5" fill="#2a241b" fill-opacity="0.8"/><circle cx="910.1" cy="1004.4" r="1.9" fill="#2a241b" fill-opacity="0.7"/><circle cx="870.7" cy="1016.4" r="2" fill="#2a241b" fill-opacity="0.5"/><circle cx="866.5" cy="1008" r="1.8" fill="#3a3226" fill-opacity="0.7"/><circle cx="919.6" cy="1005.5" r="1" fill="#3a3226" fill-opacity="0.6"/><circle cx="916" cy="1026.1" r="1.2" fill="#2a241b" fill-opacity="0.5"/><circle cx="922.5" cy="1004.7" r="2" fill="#2a241b" fill-opacity="0.6"/><circle cx="862.9" cy="1011.5" r="1.9" fill="#2a241b" fill-opacity="0.5"/><circle cx="878.5" cy="1025.7" r="2.1" fill="#2a241b" fill-opacity="0.5"/><circle cx="879.6" cy="1029.1" r="2.2" fill="#2a241b" fill-opacity="0.8"/>
<path d="M919,1080 L925,1090 L929,1096" stroke="#3a3428" stroke-width="2.6" fill="none" opacity="0.85" stroke-linecap="round"/>
</g></g>
<g clip-path="url(#cp3)"><g filter="url(#soft)">
<rect x="188" y="1242.4" width="469.5" height="358.5" fill="url(#g3)"/>
<ellipse cx="430" cy="1330" rx="55" ry="170" fill="#968b78" filter="url(#bl40)" transform="rotate(35 430 1330)" opacity="0.9"/>
<ellipse cx="330" cy="1520" rx="45" ry="120" fill="#8e8472" filter="url(#bl40)" transform="rotate(35 330 1520)" opacity="0.6"/>
<ellipse cx="640" cy="1580" rx="80" ry="70" fill="#36322d" filter="url(#bl40)"/>
<ellipse cx="600" cy="1330" rx="60" ry="110" fill="#5c5850" filter="url(#bl40)" opacity="0.6"/>
<g transform="rotate(-40 422 1421)"><rect x="120" y="1090" width="620" height="660" filter="url(#tex1)" opacity="0.12"/><rect x="120" y="1090" width="620" height="660" filter="url(#tex2)" opacity="0.08"/></g>
<line x1="389.3" y1="1504.3" x2="393.5" y2="1519.3" stroke="#d8ccb4" stroke-width="1.1" stroke-opacity="0.1" stroke-linecap="round"/><line x1="371.4" y1="1406.6" x2="370.3" y2="1394.7" stroke="#d8ccb4" stroke-width="1" stroke-opacity="0.1" stroke-linecap="round"/><line x1="384.3" y1="1503.4" x2="385.5" y2="1510.5" stroke="#d8ccb4" stroke-width="0.6" stroke-opacity="0.1" stroke-linecap="round"/><line x1="334.3" y1="1483.9" x2="330.2" y2="1486.7" stroke="#d8ccb4" stroke-width="0.9" stroke-opacity="0.2" stroke-linecap="round"/><line x1="332.1" y1="1433" x2="321.1" y2="1427.2" stroke="#d8ccb4" stroke-width="0.8" stroke-opacity="0.1" stroke-linecap="round"/><line x1="330.1" y1="1461.3" x2="318.1" y2="1462.7" stroke="#d8ccb4" stroke-width="0.7" stroke-opacity="0.1" stroke-linecap="round"/><line x1="428.2" y1="1443.5" x2="441.8" y2="1440.2" stroke="#d8ccb4" stroke-width="0.9" stroke-opacity="0.2" stroke-linecap="round"/><line x1="360.4" y1="1402.6" x2="358.7" y2="1396.5" stroke="#d8ccb4" stroke-width="1" stroke-opacity="0.1" stroke-linecap="round"/><line x1="374" y1="1510.2" x2="373.6" y2="1521.4" stroke="#d8ccb4" stroke-width="1" stroke-opacity="0.2" stroke-linecap="round"/><line x1="335.3" y1="1430.6" x2="331.7" y2="1428.4" stroke="#d8ccb4" stroke-width="0.9" stroke-opacity="0.2" stroke-linecap="round"/><line x1="369.4" y1="1502.2" x2="368.9" y2="1506.3" stroke="#d8ccb4" stroke-width="0.7" stroke-opacity="0.2" stroke-linecap="round"/><line x1="424.3" y1="1457.2" x2="431.5" y2="1457.4" stroke="#d8ccb4" stroke-width="1" stroke-opacity="0.2" stroke-linecap="round"/><line x1="422.8" y1="1461.7" x2="437.9" y2="1463.6" stroke="#d8ccb4" stroke-width="1.1" stroke-opacity="0.1" stroke-linecap="round"/><line x1="349.8" y1="1500" x2="345.8" y2="1506.8" stroke="#d8ccb4" stroke-width="0.8" stroke-opacity="0.1" stroke-linecap="round"/><line x1="373.5" y1="1502.5" x2="373.2" y2="1507.5" stroke="#d8ccb4" stroke-width="0.7" stroke-opacity="0.1" stroke-linecap="round"/><line x1="338.3" y1="1418.8" x2="333.2" y2="1413.7" stroke="#d8ccb4" stroke-width="1" stroke-opacity="0.2" stroke-linecap="round"/><line x1="348.3" y1="1498.7" x2="344.8" y2="1503.9" stroke="#d8ccb4" stroke-width="1.1" stroke-opacity="0.1" stroke-linecap="round"/><line x1="421.1" y1="1471" x2="432.8" y2="1474.9" stroke="#d8ccb4" stroke-width="0.8" stroke-opacity="0.2" stroke-linecap="round"/><line x1="383" y1="1509.5" x2="384.7" y2="1523" stroke="#d8ccb4" stroke-width="0.6" stroke-opacity="0.2" stroke-linecap="round"/><line x1="395.1" y1="1505.5" x2="400.1" y2="1518.2" stroke="#d8ccb4" stroke-width="1" stroke-opacity="0.1" stroke-linecap="round"/><line x1="419.8" y1="1485.1" x2="428.8" y2="1491.1" stroke="#d8ccb4" stroke-width="0.7" stroke-opacity="0.1" stroke-linecap="round"/><line x1="335.1" y1="1432.7" x2="325" y2="1426.9" stroke="#d8ccb4" stroke-width="0.7" stroke-opacity="0.1" stroke-linecap="round"/><line x1="330.5" y1="1479.7" x2="319.2" y2="1485.6" stroke="#d8ccb4" stroke-width="0.6" stroke-opacity="0.2" stroke-linecap="round"/><line x1="384.9" y1="1504.1" x2="387" y2="1515.6" stroke="#d8ccb4" stroke-width="0.9" stroke-opacity="0.2" stroke-linecap="round"/><line x1="415.2" y1="1428.2" x2="421.5" y2="1423.7" stroke="#d8ccb4" stroke-width="0.9" stroke-opacity="0.1" stroke-linecap="round"/><line x1="402.5" y1="1496.3" x2="409.8" y2="1507.4" stroke="#d8ccb4" stroke-width="1" stroke-opacity="0.2" stroke-linecap="round"/><line x1="428.1" y1="1442.2" x2="435.6" y2="1440.2" stroke="#d8ccb4" stroke-width="0.8" stroke-opacity="0.2" stroke-linecap="round"/><line x1="424.9" y1="1473.8" x2="429.7" y2="1475.6" stroke="#d8ccb4" stroke-width="0.6" stroke-opacity="0.1" stroke-linecap="round"/><line x1="408.2" y1="1501" x2="416.6" y2="1512.8" stroke="#d8ccb4" stroke-width="0.8" stroke-opacity="0.1" stroke-linecap="round"/><line x1="413.3" y1="1490.9" x2="420.8" y2="1497.9" stroke="#d8ccb4" stroke-width="0.8" stroke-opacity="0.2" stroke-linecap="round"/><line x1="323.2" y1="1446.2" x2="318" y2="1445.2" stroke="#d8ccb4" stroke-width="0.6" stroke-opacity="0.1" stroke-linecap="round"/><line x1="327.7" y1="1461" x2="315.8" y2="1462.3" stroke="#d8ccb4" stroke-width="0.7" stroke-opacity="0.1" stroke-linecap="round"/><line x1="323.4" y1="1463.7" x2="310.3" y2="1465.6" stroke="#d8ccb4" stroke-width="0.8" stroke-opacity="0.1" stroke-linecap="round"/><line x1="425.7" y1="1431.7" x2="436" y2="1426.7" stroke="#d8ccb4" stroke-width="0.7" stroke-opacity="0.1" stroke-linecap="round"/><line x1="344.2" y1="1419" x2="341.3" y2="1415.7" stroke="#d8ccb4" stroke-width="1.1" stroke-opacity="0.2" stroke-linecap="round"/><line x1="410.9" y1="1492.7" x2="418.8" y2="1501" stroke="#d8ccb4" stroke-width="0.7" stroke-opacity="0.1" stroke-linecap="round"/><line x1="376.2" y1="1402.3" x2="376.3" y2="1393" stroke="#d8ccb4" stroke-width="0.6" stroke-opacity="0.1" stroke-linecap="round"/><line x1="422.2" y1="1487" x2="426" y2="1489.6" stroke="#d8ccb4" stroke-width="0.7" stroke-opacity="0.2" stroke-linecap="round"/><line x1="407.1" y1="1491.3" x2="410.3" y2="1494.9" stroke="#d8ccb4" stroke-width="0.7" stroke-opacity="0.1" stroke-linecap="round"/><line x1="399.8" y1="1414.7" x2="402.8" y2="1409.4" stroke="#d8ccb4" stroke-width="1" stroke-opacity="0.1" stroke-linecap="round"/><line x1="351.2" y1="1496.2" x2="347.6" y2="1502.1" stroke="#d8ccb4" stroke-width="1.1" stroke-opacity="0.1" stroke-linecap="round"/><line x1="372.8" y1="1509.3" x2="371.9" y2="1524" stroke="#d8ccb4" stroke-width="1.1" stroke-opacity="0.1" stroke-linecap="round"/><line x1="426.1" y1="1441.9" x2="433.3" y2="1439.9" stroke="#d8ccb4" stroke-width="0.8" stroke-opacity="0.2" stroke-linecap="round"/><line x1="371.3" y1="1408.9" x2="370.6" y2="1402.7" stroke="#d8ccb4" stroke-width="1.1" stroke-opacity="0.1" stroke-linecap="round"/><line x1="395.2" y1="1410.5" x2="397.9" y2="1404.1" stroke="#d8ccb4" stroke-width="0.7" stroke-opacity="0.1" stroke-linecap="round"/><line x1="423.4" y1="1453.2" x2="437.6" y2="1452.3" stroke="#d8ccb4" stroke-width="0.8" stroke-opacity="0.1" stroke-linecap="round"/><line x1="374.4" y1="1406.6" x2="374.2" y2="1400.4" stroke="#d8ccb4" stroke-width="0.8" stroke-opacity="0.2" stroke-linecap="round"/><line x1="409.7" y1="1416.8" x2="412.4" y2="1413.6" stroke="#d8ccb4" stroke-width="1" stroke-opacity="0.2" stroke-linecap="round"/><line x1="420.8" y1="1423.2" x2="427.2" y2="1418.5" stroke="#d8ccb4" stroke-width="1" stroke-opacity="0.2" stroke-linecap="round"/><line x1="371" y1="1505.4" x2="370.2" y2="1513.9" stroke="#d8ccb4" stroke-width="0.8" stroke-opacity="0.1" stroke-linecap="round"/><line x1="413.1" y1="1486.8" x2="424.6" y2="1496.4" stroke="#d8ccb4" stroke-width="0.8" stroke-opacity="0.2" stroke-linecap="round"/><line x1="416.7" y1="1421.2" x2="421.9" y2="1416.7" stroke="#d8ccb4" stroke-width="1.1" stroke-opacity="0.2" stroke-linecap="round"/><line x1="429.2" y1="1452.9" x2="442.2" y2="1452.1" stroke="#d8ccb4" stroke-width="1" stroke-opacity="0.1" stroke-linecap="round"/><line x1="348.2" y1="1414.6" x2="340.4" y2="1403" stroke="#d8ccb4" stroke-width="0.7" stroke-opacity="0.1" stroke-linecap="round"/><line x1="348" y1="1502.4" x2="343.8" y2="1509.4" stroke="#d8ccb4" stroke-width="1" stroke-opacity="0.2" stroke-linecap="round"/><line x1="410.3" y1="1423.3" x2="421.4" y2="1412.8" stroke="#d8ccb4" stroke-width="1" stroke-opacity="0.2" stroke-linecap="round"/><line x1="349.3" y1="1418" x2="341" y2="1406.2" stroke="#d8ccb4" stroke-width="0.9" stroke-opacity="0.1" stroke-linecap="round"/><line x1="347.4" y1="1501.6" x2="340.2" y2="1512.9" stroke="#d8ccb4" stroke-width="1" stroke-opacity="0.1" stroke-linecap="round"/><line x1="349.9" y1="1496.9" x2="347.1" y2="1501.3" stroke="#d8ccb4" stroke-width="0.8" stroke-opacity="0.1" stroke-linecap="round"/><line x1="389.9" y1="1409.8" x2="391.3" y2="1405.1" stroke="#d8ccb4" stroke-width="0.6" stroke-opacity="0.2" stroke-linecap="round"/><line x1="392.1" y1="1504" x2="394.9" y2="1512.4" stroke="#d8ccb4" stroke-width="1" stroke-opacity="0.2" stroke-linecap="round"/><line x1="356.8" y1="1504.7" x2="351.4" y2="1518.4" stroke="#d8ccb4" stroke-width="0.8" stroke-opacity="0.2" stroke-linecap="round"/><line x1="371" y1="1407.1" x2="369.5" y2="1392.7" stroke="#d8ccb4" stroke-width="0.9" stroke-opacity="0.1" stroke-linecap="round"/><line x1="329.7" y1="1427.6" x2="321" y2="1422.3" stroke="#d8ccb4" stroke-width="0.8" stroke-opacity="0.1" stroke-linecap="round"/><line x1="414.5" y1="1420.1" x2="419.2" y2="1415.6" stroke="#d8ccb4" stroke-width="0.8" stroke-opacity="0.1" stroke-linecap="round"/><line x1="427.2" y1="1442.4" x2="432.5" y2="1441" stroke="#d8ccb4" stroke-width="1.1" stroke-opacity="0.1" stroke-linecap="round"/><line x1="333.7" y1="1428.8" x2="323" y2="1422" stroke="#d8ccb4" stroke-width="0.8" stroke-opacity="0.1" stroke-linecap="round"/><line x1="322.4" y1="1448" x2="309.1" y2="1446" stroke="#d8ccb4" stroke-width="0.8" stroke-opacity="0.1" stroke-linecap="round"/><line x1="374.2" y1="1402" x2="374" y2="1395.4" stroke="#d8ccb4" stroke-width="1" stroke-opacity="0.2" stroke-linecap="round"/><line x1="330.5" y1="1476.2" x2="319" y2="1481.3" stroke="#d8ccb4" stroke-width="1.1" stroke-opacity="0.1" stroke-linecap="round"/>
<circle cx="376" cy="1456" r="60" fill="url(#sph3)"/>
<ellipse cx="358" cy="1462" rx="28" ry="34" fill="#4a3820" filter="url(#bl15)" opacity="0.55"/>
<circle cx="366.8" cy="1483.2" r="2.2" fill="#46361f" fill-opacity="0.4"/><circle cx="376.1" cy="1450.8" r="2.4" fill="#7a6444" fill-opacity="0.5"/><circle cx="334.7" cy="1439.3" r="1.3" fill="#3a2c18" fill-opacity="0.5"/><circle cx="345" cy="1492.7" r="1.3" fill="#3a2c18" fill-opacity="0.5"/><circle cx="401.1" cy="1422" r="2.1" fill="#46361f" fill-opacity="0.4"/><circle cx="410.1" cy="1440.6" r="1.2" fill="#7a6444" fill-opacity="0.5"/><circle cx="341.6" cy="1473.9" r="1.4" fill="#6c5636" fill-opacity="0.3"/><circle cx="384.3" cy="1494.8" r="1.1" fill="#3a2c18" fill-opacity="0.5"/><circle cx="392.7" cy="1444.4" r="2.3" fill="#6c5636" fill-opacity="0.3"/><circle cx="386.5" cy="1434.3" r="1.3" fill="#46361f" fill-opacity="0.5"/><circle cx="373.1" cy="1439.7" r="1.7" fill="#46361f" fill-opacity="0.3"/><circle cx="401.3" cy="1415.1" r="1.1" fill="#3a2c18" fill-opacity="0.4"/><circle cx="387.3" cy="1462.8" r="2.3" fill="#7a6444" fill-opacity="0.2"/><circle cx="337.3" cy="1465.9" r="2.6" fill="#6c5636" fill-opacity="0.3"/><circle cx="367.2" cy="1406.9" r="1.4" fill="#7a6444" fill-opacity="0.3"/><circle cx="350.4" cy="1466.9" r="2" fill="#7a6444" fill-opacity="0.2"/><circle cx="385.8" cy="1482.3" r="1.8" fill="#46361f" fill-opacity="0.3"/><circle cx="399.5" cy="1419" r="1.9" fill="#7a6444" fill-opacity="0.5"/><circle cx="354.1" cy="1460" r="1.9" fill="#46361f" fill-opacity="0.4"/><circle cx="379.2" cy="1485.5" r="1.6" fill="#3a2c18" fill-opacity="0.3"/><circle cx="356.2" cy="1481.9" r="1.6" fill="#7a6444" fill-opacity="0.4"/><circle cx="331.4" cy="1465.9" r="1.9" fill="#3a2c18" fill-opacity="0.5"/><circle cx="372" cy="1426.5" r="2" fill="#7a6444" fill-opacity="0.5"/><circle cx="361.6" cy="1442.5" r="2" fill="#3a2c18" fill-opacity="0.5"/><circle cx="394.5" cy="1479.9" r="2.4" fill="#6c5636" fill-opacity="0.4"/><circle cx="363.1" cy="1429.8" r="2.5" fill="#7a6444" fill-opacity="0.4"/><circle cx="371.9" cy="1474" r="2.4" fill="#3a2c18" fill-opacity="0.4"/><circle cx="387.5" cy="1424.9" r="1.4" fill="#3a2c18" fill-opacity="0.3"/><circle cx="328.8" cy="1446.4" r="2" fill="#7a6444" fill-opacity="0.2"/><circle cx="374.9" cy="1495" r="1.9" fill="#6c5636" fill-opacity="0.2"/><circle cx="380" cy="1443.7" r="2.3" fill="#3a2c18" fill-opacity="0.3"/><circle cx="353.6" cy="1495.4" r="1.3" fill="#7a6444" fill-opacity="0.2"/><circle cx="380.3" cy="1467.4" r="2.3" fill="#46361f" fill-opacity="0.3"/><circle cx="382.3" cy="1488.4" r="1.2" fill="#3a2c18" fill-opacity="0.5"/><circle cx="330.4" cy="1440.9" r="1.1" fill="#46361f" fill-opacity="0.4"/><circle cx="391.2" cy="1496.5" r="2.4" fill="#7a6444" fill-opacity="0.3"/><circle cx="347.1" cy="1425.4" r="1.3" fill="#46361f" fill-opacity="0.5"/><circle cx="387.5" cy="1458.8" r="1.2" fill="#3a2c18" fill-opacity="0.3"/><circle cx="369" cy="1436.7" r="1.7" fill="#3a2c18" fill-opacity="0.3"/><circle cx="344.3" cy="1430" r="2.6" fill="#6c5636" fill-opacity="0.2"/><circle cx="393.8" cy="1433.7" r="1.7" fill="#7a6444" fill-opacity="0.3"/><circle cx="425.2" cy="1448.1" r="2.1" fill="#46361f" fill-opacity="0.3"/><circle cx="410.8" cy="1428.2" r="2" fill="#3a2c18" fill-opacity="0.4"/><circle cx="341.8" cy="1423" r="2.3" fill="#3a2c18" fill-opacity="0.4"/><circle cx="404.5" cy="1429.7" r="1.5" fill="#7a6444" fill-opacity="0.4"/><circle cx="382.6" cy="1464.8" r="2.3" fill="#46361f" fill-opacity="0.4"/><circle cx="368.5" cy="1437.7" r="2" fill="#3a2c18" fill-opacity="0.5"/><circle cx="348.8" cy="1488" r="1.3" fill="#7a6444" fill-opacity="0.5"/><circle cx="334.8" cy="1482.6" r="2.5" fill="#46361f" fill-opacity="0.3"/><circle cx="357.5" cy="1474.2" r="2.4" fill="#3a2c18" fill-opacity="0.5"/><circle cx="365.3" cy="1429.9" r="2.2" fill="#6c5636" fill-opacity="0.5"/><circle cx="356.4" cy="1488.4" r="1.9" fill="#6c5636" fill-opacity="0.5"/><circle cx="411" cy="1453.5" r="2.3" fill="#3a2c18" fill-opacity="0.3"/><circle cx="378.6" cy="1418.2" r="2.5" fill="#7a6444" fill-opacity="0.4"/><circle cx="414.4" cy="1457.1" r="1.2" fill="#7a6444" fill-opacity="0.3"/><circle cx="411.3" cy="1486.6" r="1.7" fill="#6c5636" fill-opacity="0.2"/><circle cx="347.2" cy="1465.6" r="1.1" fill="#6c5636" fill-opacity="0.3"/><circle cx="361.1" cy="1434.3" r="1.6" fill="#7a6444" fill-opacity="0.5"/><circle cx="361.8" cy="1418.4" r="1.4" fill="#6c5636" fill-opacity="0.3"/><circle cx="408.7" cy="1445.4" r="1.2" fill="#46361f" fill-opacity="0.5"/><circle cx="365.1" cy="1493.2" r="2.4" fill="#46361f" fill-opacity="0.3"/><circle cx="403.5" cy="1418.8" r="1.4" fill="#3a2c18" fill-opacity="0.4"/><circle cx="390.1" cy="1458.3" r="2.3" fill="#3a2c18" fill-opacity="0.3"/><circle cx="338.3" cy="1428.3" r="1.1" fill="#6c5636" fill-opacity="0.3"/><circle cx="395.6" cy="1447.2" r="1.2" fill="#3a2c18" fill-opacity="0.4"/><circle cx="389.4" cy="1434.3" r="1.3" fill="#46361f" fill-opacity="0.4"/><circle cx="381.6" cy="1431.6" r="2.5" fill="#46361f" fill-opacity="0.3"/><circle cx="403.5" cy="1455.4" r="2.6" fill="#3a2c18" fill-opacity="0.4"/><circle cx="330.8" cy="1446.5" r="1.7" fill="#3a2c18" fill-opacity="0.3"/><circle cx="348.5" cy="1461.3" r="1.1" fill="#7a6444" fill-opacity="0.3"/><circle cx="331.8" cy="1466.4" r="2.5" fill="#6c5636" fill-opacity="0.3"/><circle cx="361" cy="1421.9" r="1.6" fill="#46361f" fill-opacity="0.5"/><circle cx="403.6" cy="1435.7" r="2.5" fill="#6c5636" fill-opacity="0.2"/><circle cx="326.7" cy="1456.8" r="1.5" fill="#6c5636" fill-opacity="0.5"/><circle cx="343" cy="1492.2" r="2.6" fill="#46361f" fill-opacity="0.4"/><circle cx="370.2" cy="1484.1" r="1.9" fill="#46361f" fill-opacity="0.3"/><circle cx="398.2" cy="1460.1" r="1.2" fill="#6c5636" fill-opacity="0.4"/><circle cx="345.9" cy="1488.2" r="2.5" fill="#6c5636" fill-opacity="0.4"/><circle cx="396.1" cy="1446.5" r="2.5" fill="#46361f" fill-opacity="0.3"/><circle cx="354.3" cy="1439.2" r="2.6" fill="#46361f" fill-opacity="0.4"/><circle cx="348.3" cy="1439.2" r="1.3" fill="#3a2c18" fill-opacity="0.3"/><circle cx="358.8" cy="1455.2" r="2.3" fill="#3a2c18" fill-opacity="0.4"/><circle cx="420.6" cy="1433.9" r="2.1" fill="#3a2c18" fill-opacity="0.3"/><circle cx="390.6" cy="1453.7" r="1.4" fill="#3a2c18" fill-opacity="0.4"/><circle cx="351.2" cy="1490.1" r="1.9" fill="#46361f" fill-opacity="0.2"/><circle cx="382.2" cy="1476.2" r="2.3" fill="#3a2c18" fill-opacity="0.3"/><circle cx="403.6" cy="1482.5" r="2.2" fill="#6c5636" fill-opacity="0.4"/><circle cx="338.8" cy="1489.1" r="1" fill="#7a6444" fill-opacity="0.2"/><circle cx="375.4" cy="1430" r="1.2" fill="#6c5636" fill-opacity="0.5"/><circle cx="384.2" cy="1457.1" r="1.1" fill="#7a6444" fill-opacity="0.4"/><circle cx="364.6" cy="1439.5" r="2.2" fill="#46361f" fill-opacity="0.3"/><circle cx="396.4" cy="1441.2" r="1.2" fill="#46361f" fill-opacity="0.3"/><circle cx="410.3" cy="1484.5" r="1.2" fill="#6c5636" fill-opacity="0.4"/><circle cx="342.6" cy="1439.1" r="1.7" fill="#3a2c18" fill-opacity="0.5"/><circle cx="377.6" cy="1474.7" r="2.5" fill="#3a2c18" fill-opacity="0.3"/><circle cx="387" cy="1434" r="1.1" fill="#7a6444" fill-opacity="0.4"/><circle cx="344.8" cy="1470.8" r="1.1" fill="#3a2c18" fill-opacity="0.4"/><circle cx="328" cy="1455.1" r="2" fill="#46361f" fill-opacity="0.3"/><circle cx="373.3" cy="1499.9" r="2.2" fill="#6c5636" fill-opacity="0.4"/><circle cx="351.4" cy="1468.8" r="1.8" fill="#7a6444" fill-opacity="0.3"/><circle cx="391.6" cy="1478.8" r="1.5" fill="#3a2c18" fill-opacity="0.4"/><circle cx="357.6" cy="1464.8" r="1.1" fill="#3a2c18" fill-opacity="0.5"/><circle cx="371.9" cy="1413.1" r="2.3" fill="#3a2c18" fill-opacity="0.3"/><circle cx="386.6" cy="1458.7" r="1.8" fill="#46361f" fill-opacity="0.4"/><circle cx="396.1" cy="1491.6" r="1.7" fill="#7a6444" fill-opacity="0.2"/><circle cx="378.4" cy="1454.3" r="1.4" fill="#7a6444" fill-opacity="0.2"/><circle cx="345.3" cy="1476" r="1.5" fill="#6c5636" fill-opacity="0.3"/><circle cx="371.8" cy="1496.7" r="1.4" fill="#7a6444" fill-opacity="0.3"/><circle cx="383.4" cy="1445.1" r="1.1" fill="#3a2c18" fill-opacity="0.4"/><circle cx="423.9" cy="1453.2" r="1.2" fill="#7a6444" fill-opacity="0.3"/><circle cx="415" cy="1484.1" r="1.9" fill="#7a6444" fill-opacity="0.3"/><circle cx="417.3" cy="1437.8" r="1.8" fill="#46361f" fill-opacity="0.2"/><circle cx="338.5" cy="1471.6" r="1" fill="#46361f" fill-opacity="0.4"/><circle cx="386.5" cy="1454.4" r="2.1" fill="#3a2c18" fill-opacity="0.2"/><circle cx="370.9" cy="1466.4" r="1.9" fill="#6c5636" fill-opacity="0.3"/><circle cx="365.8" cy="1427.5" r="2.1" fill="#6c5636" fill-opacity="0.3"/><circle cx="356.4" cy="1464.1" r="1.2" fill="#7a6444" fill-opacity="0.5"/><circle cx="363.1" cy="1441.1" r="2.4" fill="#3a2c18" fill-opacity="0.2"/><circle cx="346" cy="1483.9" r="1" fill="#3a2c18" fill-opacity="0.5"/><circle cx="399.9" cy="1470" r="1.9" fill="#7a6444" fill-opacity="0.5"/><circle cx="345.9" cy="1417.7" r="1.9" fill="#46361f" fill-opacity="0.3"/><circle cx="388.1" cy="1496.9" r="1.2" fill="#6c5636" fill-opacity="0.4"/><circle cx="355.9" cy="1443.6" r="1.4" fill="#46361f" fill-opacity="0.4"/><circle cx="340.4" cy="1475.9" r="1.3" fill="#6c5636" fill-opacity="0.3"/><circle cx="381.3" cy="1414.4" r="2.2" fill="#7a6444" fill-opacity="0.3"/><circle cx="407.9" cy="1439.9" r="1.6" fill="#6c5636" fill-opacity="0.3"/><circle cx="380.3" cy="1448.2" r="1.4" fill="#6c5636" fill-opacity="0.5"/><circle cx="383.8" cy="1488.7" r="1.6" fill="#6c5636" fill-opacity="0.4"/><circle cx="401.7" cy="1471.5" r="2" fill="#46361f" fill-opacity="0.5"/><circle cx="337" cy="1473.7" r="1.4" fill="#6c5636" fill-opacity="0.4"/><circle cx="374.2" cy="1468.2" r="1.6" fill="#3a2c18" fill-opacity="0.4"/><circle cx="339.3" cy="1426.3" r="2.4" fill="#6c5636" fill-opacity="0.5"/><circle cx="379.8" cy="1484.8" r="1.2" fill="#46361f" fill-opacity="0.4"/><circle cx="358.3" cy="1475" r="1.8" fill="#46361f" fill-opacity="0.5"/><circle cx="403.1" cy="1418.1" r="1.7" fill="#7a6444" fill-opacity="0.3"/><circle cx="398.7" cy="1489" r="2.1" fill="#6c5636" fill-opacity="0.3"/><circle cx="416.7" cy="1434.3" r="1.5" fill="#46361f" fill-opacity="0.5"/><circle cx="356.3" cy="1465.7" r="2.2" fill="#6c5636" fill-opacity="0.4"/><circle cx="395.9" cy="1472.8" r="1.8" fill="#6c5636" fill-opacity="0.5"/><circle cx="359.2" cy="1469.5" r="2.3" fill="#6c5636" fill-opacity="0.2"/><circle cx="368.3" cy="1472.1" r="1.1" fill="#46361f" fill-opacity="0.3"/><circle cx="342.8" cy="1437.9" r="1.4" fill="#3a2c18" fill-opacity="0.3"/><circle cx="405.3" cy="1418.4" r="1.4" fill="#6c5636" fill-opacity="0.2"/><circle cx="343.7" cy="1440.4" r="2.4" fill="#3a2c18" fill-opacity="0.4"/><circle cx="392.6" cy="1472" r="1.5" fill="#7a6444" fill-opacity="0.5"/><circle cx="399.8" cy="1458.3" r="1.5" fill="#7a6444" fill-opacity="0.3"/><circle cx="391.3" cy="1436.7" r="1.9" fill="#7a6444" fill-opacity="0.4"/><circle cx="339.2" cy="1451.4" r="1.5" fill="#7a6444" fill-opacity="0.5"/><circle cx="326.8" cy="1462.5" r="1.1" fill="#7a6444" fill-opacity="0.4"/><circle cx="359" cy="1443.8" r="2" fill="#7a6444" fill-opacity="0.4"/><circle cx="342" cy="1485.1" r="1.2" fill="#6c5636" fill-opacity="0.5"/><circle cx="375.4" cy="1407.6" r="2.4" fill="#6c5636" fill-opacity="0.4"/><circle cx="376.5" cy="1458.3" r="1.1" fill="#3a2c18" fill-opacity="0.3"/><circle cx="408" cy="1457" r="1.7" fill="#6c5636" fill-opacity="0.4"/><circle cx="396.4" cy="1453.7" r="1.8" fill="#7a6444" fill-opacity="0.2"/><circle cx="366.8" cy="1491.6" r="1.4" fill="#7a6444" fill-opacity="0.3"/><circle cx="355.9" cy="1489.7" r="1.9" fill="#6c5636" fill-opacity="0.5"/><circle cx="344.8" cy="1427.4" r="2.3" fill="#6c5636" fill-opacity="0.4"/><circle cx="348" cy="1450.3" r="1.5" fill="#3a2c18" fill-opacity="0.3"/><circle cx="333.5" cy="1480.3" r="1.6" fill="#7a6444" fill-opacity="0.2"/><circle cx="398.2" cy="1455.8" r="1.9" fill="#6c5636" fill-opacity="0.3"/><circle cx="380.8" cy="1500.2" r="1.7" fill="#6c5636" fill-opacity="0.5"/><circle cx="404.7" cy="1467" r="2.4" fill="#6c5636" fill-opacity="0.4"/><circle cx="360.1" cy="1424.5" r="1.8" fill="#46361f" fill-opacity="0.4"/><circle cx="395" cy="1464.6" r="1.3" fill="#46361f" fill-opacity="0.4"/><circle cx="381.2" cy="1415.8" r="2.4" fill="#6c5636" fill-opacity="0.4"/><circle cx="399.2" cy="1481.9" r="2" fill="#46361f" fill-opacity="0.3"/><circle cx="368.9" cy="1477.3" r="2.6" fill="#46361f" fill-opacity="0.4"/><circle cx="374.8" cy="1427.8" r="1.2" fill="#6c5636" fill-opacity="0.4"/><circle cx="356.7" cy="1449.8" r="1.1" fill="#3a2c18" fill-opacity="0.2"/><circle cx="348.7" cy="1428.9" r="2.1" fill="#46361f" fill-opacity="0.3"/><circle cx="387.9" cy="1438.7" r="2.3" fill="#3a2c18" fill-opacity="0.2"/><circle cx="401.6" cy="1434.9" r="2.3" fill="#7a6444" fill-opacity="0.4"/><circle cx="390.6" cy="1438.9" r="2.4" fill="#6c5636" fill-opacity="0.4"/><circle cx="396.7" cy="1478.5" r="2.5" fill="#3a2c18" fill-opacity="0.4"/><circle cx="390.5" cy="1469.8" r="1.5" fill="#6c5636" fill-opacity="0.3"/><circle cx="374.6" cy="1441.3" r="1.3" fill="#7a6444" fill-opacity="0.4"/><circle cx="412.6" cy="1449.2" r="1" fill="#3a2c18" fill-opacity="0.5"/><circle cx="378.1" cy="1471" r="2.5" fill="#7a6444" fill-opacity="0.4"/><circle cx="388.3" cy="1441.6" r="2.1" fill="#7a6444" fill-opacity="0.3"/><circle cx="391.8" cy="1413.3" r="2.5" fill="#46361f" fill-opacity="0.3"/><circle cx="374.5" cy="1410.4" r="1.4" fill="#6c5636" fill-opacity="0.3"/><circle cx="379.8" cy="1479" r="2.5" fill="#6c5636" fill-opacity="0.4"/><circle cx="355.9" cy="1484.4" r="2" fill="#6c5636" fill-opacity="0.3"/><circle cx="394.9" cy="1485.7" r="2.5" fill="#7a6444" fill-opacity="0.3"/><circle cx="378.9" cy="1423.5" r="1.3" fill="#46361f" fill-opacity="0.5"/><circle cx="389.7" cy="1496.2" r="1.6" fill="#3a2c18" fill-opacity="0.3"/><circle cx="365.9" cy="1470.2" r="1.5" fill="#46361f" fill-opacity="0.3"/><circle cx="392.5" cy="1412.3" r="1.5" fill="#46361f" fill-opacity="0.4"/><circle cx="344.2" cy="1432.4" r="1.2" fill="#46361f" fill-opacity="0.3"/><circle cx="404.9" cy="1422.3" r="2.1" fill="#7a6444" fill-opacity="0.4"/><circle cx="353.4" cy="1412.7" r="1.3" fill="#3a2c18" fill-opacity="0.3"/><circle cx="398.2" cy="1497.8" r="1.5" fill="#7a6444" fill-opacity="0.3"/><circle cx="388.7" cy="1473.2" r="1.9" fill="#46361f" fill-opacity="0.3"/><circle cx="357.2" cy="1444.7" r="2" fill="#7a6444" fill-opacity="0.5"/><circle cx="424" cy="1461.1" r="1.3" fill="#3a2c18" fill-opacity="0.5"/><circle cx="366.3" cy="1443.3" r="1.7" fill="#6c5636" fill-opacity="0.4"/><circle cx="335.8" cy="1428.9" r="1.3" fill="#6c5636" fill-opacity="0.3"/><circle cx="363.3" cy="1457.6" r="2" fill="#6c5636" fill-opacity="0.3"/><circle cx="335.3" cy="1442.6" r="1.2" fill="#3a2c18" fill-opacity="0.3"/><circle cx="382.9" cy="1480.3" r="2.3" fill="#6c5636" fill-opacity="0.4"/><circle cx="375.9" cy="1483.4" r="1.7" fill="#6c5636" fill-opacity="0.3"/><circle cx="399.2" cy="1433.7" r="2.2" fill="#3a2c18" fill-opacity="0.2"/><circle cx="375.9" cy="1422.4" r="1.8" fill="#3a2c18" fill-opacity="0.5"/><circle cx="378.4" cy="1465.3" r="2.2" fill="#7a6444" fill-opacity="0.4"/><circle cx="352.9" cy="1451.1" r="1.7" fill="#7a6444" fill-opacity="0.4"/><circle cx="344.6" cy="1437.5" r="2.2" fill="#6c5636" fill-opacity="0.3"/><circle cx="336.7" cy="1482.2" r="1.7" fill="#3a2c18" fill-opacity="0.4"/><circle cx="339.2" cy="1465.1" r="1.4" fill="#3a2c18" fill-opacity="0.2"/><circle cx="344.1" cy="1490.4" r="2.6" fill="#3a2c18" fill-opacity="0.3"/><circle cx="356.2" cy="1457.5" r="1.3" fill="#46361f" fill-opacity="0.5"/><circle cx="339.5" cy="1472.1" r="2.5" fill="#46361f" fill-opacity="0.4"/><circle cx="353.6" cy="1422.2" r="1" fill="#7a6444" fill-opacity="0.5"/><circle cx="352.1" cy="1453" r="1.1" fill="#3a2c18" fill-opacity="0.4"/><circle cx="365.8" cy="1499.3" r="1.5" fill="#46361f" fill-opacity="0.2"/><circle cx="374.5" cy="1443" r="2.5" fill="#3a2c18" fill-opacity="0.5"/><circle cx="412.3" cy="1435" r="2" fill="#7a6444" fill-opacity="0.5"/><circle cx="401.1" cy="1479" r="1.8" fill="#7a6444" fill-opacity="0.3"/><circle cx="354.1" cy="1465.4" r="2.6" fill="#6c5636" fill-opacity="0.4"/><circle cx="368.7" cy="1426.1" r="1.8" fill="#6c5636" fill-opacity="0.5"/><circle cx="341.4" cy="1435.2" r="1.4" fill="#46361f" fill-opacity="0.3"/><circle cx="346" cy="1480.9" r="1.6" fill="#46361f" fill-opacity="0.3"/><circle cx="419.9" cy="1438.1" r="1.4" fill="#3a2c18" fill-opacity="0.3"/><circle cx="408.6" cy="1463" r="2.5" fill="#6c5636" fill-opacity="0.5"/><circle cx="335.4" cy="1472.1" r="1.2" fill="#3a2c18" fill-opacity="0.3"/><circle cx="330.8" cy="1454.3" r="2.3" fill="#6c5636" fill-opacity="0.2"/><circle cx="369.8" cy="1457" r="1.2" fill="#46361f" fill-opacity="0.4"/><circle cx="390.8" cy="1421.9" r="2" fill="#3a2c18" fill-opacity="0.2"/><circle cx="390" cy="1426.9" r="1.4" fill="#46361f" fill-opacity="0.3"/><circle cx="412.6" cy="1447.7" r="2.6" fill="#7a6444" fill-opacity="0.3"/><circle cx="391.6" cy="1462" r="1.7" fill="#46361f" fill-opacity="0.4"/><circle cx="371.2" cy="1430.1" r="1.8" fill="#46361f" fill-opacity="0.4"/><circle cx="409.5" cy="1460.5" r="1.5" fill="#6c5636" fill-opacity="0.4"/><circle cx="360.7" cy="1455.1" r="1.8" fill="#6c5636" fill-opacity="0.3"/><circle cx="402.8" cy="1479.6" r="1.8" fill="#6c5636" fill-opacity="0.3"/><circle cx="335.8" cy="1480.7" r="1.4" fill="#46361f" fill-opacity="0.5"/><circle cx="399.8" cy="1447.2" r="2.3" fill="#46361f" fill-opacity="0.2"/><circle cx="358.9" cy="1450.7" r="2.3" fill="#3a2c18" fill-opacity="0.2"/><circle cx="389.7" cy="1440.1" r="1.4" fill="#46361f" fill-opacity="0.3"/><circle cx="394.5" cy="1491.8" r="1.5" fill="#3a2c18" fill-opacity="0.3"/><circle cx="353.2" cy="1427.7" r="1.7" fill="#46361f" fill-opacity="0.5"/><circle cx="343.8" cy="1482" r="1.3" fill="#6c5636" fill-opacity="0.3"/><circle cx="343.5" cy="1440.8" r="1.3" fill="#46361f" fill-opacity="0.5"/><circle cx="384.5" cy="1406.9" r="1.7" fill="#3a2c18" fill-opacity="0.3"/><circle cx="374.1" cy="1413.8" r="2.5" fill="#6c5636" fill-opacity="0.5"/><circle cx="371.1" cy="1500.1" r="1.8" fill="#6c5636" fill-opacity="0.4"/><circle cx="422.9" cy="1451.2" r="1.3" fill="#46361f" fill-opacity="0.3"/><circle cx="397" cy="1487.3" r="1.3" fill="#6c5636" fill-opacity="0.5"/><circle cx="357.3" cy="1453.1" r="1.9" fill="#6c5636" fill-opacity="0.5"/><circle cx="372.6" cy="1469.9" r="1.3" fill="#3a2c18" fill-opacity="0.5"/><circle cx="382.4" cy="1489.5" r="1.7" fill="#7a6444" fill-opacity="0.5"/><circle cx="416.4" cy="1483.1" r="1.6" fill="#46361f" fill-opacity="0.2"/><circle cx="410.2" cy="1480.7" r="1.9" fill="#3a2c18" fill-opacity="0.3"/><circle cx="364.7" cy="1503.9" r="1.6" fill="#3a2c18" fill-opacity="0.5"/><circle cx="408.6" cy="1488.5" r="1" fill="#7a6444" fill-opacity="0.4"/><circle cx="383.6" cy="1437.9" r="1.9" fill="#6c5636" fill-opacity="0.3"/><circle cx="384" cy="1468.7" r="2.6" fill="#6c5636" fill-opacity="0.4"/><circle cx="415.8" cy="1434.8" r="1.9" fill="#6c5636" fill-opacity="0.2"/><circle cx="340.4" cy="1455.8" r="1.1" fill="#6c5636" fill-opacity="0.4"/><circle cx="412.5" cy="1439.2" r="2.1" fill="#7a6444" fill-opacity="0.5"/>
</g></g>
<g clip-path="url(#cp4)"><g filter="url(#soft)">
<rect x="682" y="1243" width="470.4" height="360.3" fill="#ccc7c0"/>
<ellipse cx="1060" cy="1320" rx="120" ry="90" fill="#d5d3d1" filter="url(#bl40)"/>
<ellipse cx="900" cy="1520" rx="160" ry="60" fill="#d3cfcb" filter="url(#bl40)"/>
<ellipse cx="880" cy="1610" rx="90" ry="35" fill="#dcc5c7" filter="url(#bl25)"/>
<ellipse cx="690" cy="1250" rx="55" ry="32" fill="#26304a" filter="url(#bl15)"/>
<ellipse cx="770" cy="1275" rx="90" ry="40" fill="#a9a59f" filter="url(#bl25)" opacity="0.7"/>
<rect x="682" y="1243" width="470.4" height="360.3" filter="url(#tex3)" opacity="0.15"/>
<rect x="682" y="1243" width="470.4" height="360.3" filter="url(#tex4)" opacity="0.2"/>
<path d="M730,1438 C760,1402 800,1390 846,1374" stroke="#3e2e1e" stroke-width="32" fill="none" filter="url(#bl8)" opacity="0.95"/>
<path d="M728,1440 C760,1400 800,1388 846,1372" stroke="#7a6448" stroke-width="56" fill="none" filter="url(#bl15)" opacity="0.6"/>
<ellipse cx="885" cy="1360" rx="110" ry="78" fill="#9a8466" filter="url(#bl15)" transform="rotate(-14 885 1360)" opacity="0.8"/>
<line x1="817.4" y1="1378.7" x2="799.5" y2="1383.1" stroke="#2a1e12" stroke-width="1.1" stroke-opacity="0.2" stroke-linecap="round"/><line x1="826" y1="1323.8" x2="818.9" y2="1319.2" stroke="#2a1e12" stroke-width="1.5" stroke-opacity="0.5" stroke-linecap="round"/><line x1="929" y1="1393.5" x2="938.9" y2="1400.6" stroke="#2a1e12" stroke-width="1.1" stroke-opacity="0.5" stroke-linecap="round"/><line x1="956.4" y1="1361" x2="976" y2="1360.7" stroke="#2a1e12" stroke-width="1.4" stroke-opacity="0.3" stroke-linecap="round"/><line x1="948.3" y1="1354.1" x2="954.8" y2="1353.3" stroke="#2a1e12" stroke-width="1.3" stroke-opacity="0.2" stroke-linecap="round"/><line x1="815" y1="1367.9" x2="792.6" y2="1369.8" stroke="#2a1e12" stroke-width="1.2" stroke-opacity="0.5" stroke-linecap="round"/><line x1="899" y1="1311" x2="900.7" y2="1304.5" stroke="#2a1e12" stroke-width="1.1" stroke-opacity="0.4" stroke-linecap="round"/><line x1="824.5" y1="1394.5" x2="813.1" y2="1400.6" stroke="#2a1e12" stroke-width="1.1" stroke-opacity="0.4" stroke-linecap="round"/><line x1="950.1" y1="1361" x2="961.4" y2="1360.9" stroke="#2a1e12" stroke-width="0.8" stroke-opacity="0.2" stroke-linecap="round"/><line x1="951.5" y1="1378.7" x2="970.7" y2="1383.6" stroke="#2a1e12" stroke-width="1.5" stroke-opacity="0.5" stroke-linecap="round"/><line x1="924" y1="1317.6" x2="932.2" y2="1308.3" stroke="#2a1e12" stroke-width="0.8" stroke-opacity="0.3" stroke-linecap="round"/><line x1="879.4" y1="1414.4" x2="879" y2="1418.8" stroke="#2a1e12" stroke-width="1.3" stroke-opacity="0.3" stroke-linecap="round"/><line x1="814.8" y1="1364.5" x2="807.7" y2="1364.7" stroke="#2a1e12" stroke-width="1.5" stroke-opacity="0.5" stroke-linecap="round"/><line x1="833.8" y1="1336.8" x2="820.6" y2="1330.4" stroke="#2a1e12" stroke-width="1.7" stroke-opacity="0.5" stroke-linecap="round"/><line x1="888.3" y1="1319.8" x2="889.4" y2="1305.2" stroke="#2a1e12" stroke-width="1.5" stroke-opacity="0.3" stroke-linecap="round"/><line x1="956.2" y1="1334.9" x2="975.1" y2="1327.8" stroke="#2a1e12" stroke-width="1" stroke-opacity="0.4" stroke-linecap="round"/><line x1="836.1" y1="1394.2" x2="822.3" y2="1403.3" stroke="#2a1e12" stroke-width="1.4" stroke-opacity="0.3" stroke-linecap="round"/><line x1="804.1" y1="1346.5" x2="789.2" y2="1343.6" stroke="#2a1e12" stroke-width="1.7" stroke-opacity="0.4" stroke-linecap="round"/><line x1="945.5" y1="1359.9" x2="959" y2="1359.5" stroke="#2a1e12" stroke-width="1.4" stroke-opacity="0.5" stroke-linecap="round"/><line x1="959.5" y1="1351.7" x2="973.2" y2="1349.8" stroke="#2a1e12" stroke-width="1.4" stroke-opacity="0.4" stroke-linecap="round"/><line x1="861.4" y1="1305.9" x2="859.9" y2="1302.3" stroke="#2a1e12" stroke-width="1.1" stroke-opacity="0.5" stroke-linecap="round"/><line x1="959.8" y1="1382.4" x2="965.1" y2="1383.8" stroke="#2a1e12" stroke-width="1.4" stroke-opacity="0.5" stroke-linecap="round"/><line x1="890.2" y1="1410.1" x2="890.9" y2="1416.6" stroke="#2a1e12" stroke-width="1.5" stroke-opacity="0.4" stroke-linecap="round"/><line x1="831.2" y1="1332.9" x2="818.7" y2="1326.1" stroke="#2a1e12" stroke-width="1.8" stroke-opacity="0.5" stroke-linecap="round"/><line x1="948.2" y1="1348.3" x2="962.1" y2="1345.3" stroke="#2a1e12" stroke-width="1.2" stroke-opacity="0.3" stroke-linecap="round"/><line x1="906.2" y1="1319.9" x2="911.3" y2="1309.9" stroke="#2a1e12" stroke-width="1.6" stroke-opacity="0.5" stroke-linecap="round"/><line x1="951.4" y1="1367.4" x2="965.5" y2="1368.5" stroke="#2a1e12" stroke-width="1.7" stroke-opacity="0.3" stroke-linecap="round"/><line x1="922.9" y1="1321.1" x2="931.1" y2="1312.3" stroke="#2a1e12" stroke-width="1.7" stroke-opacity="0.2" stroke-linecap="round"/><line x1="854.4" y1="1400.8" x2="850.8" y2="1405.4" stroke="#2a1e12" stroke-width="1.1" stroke-opacity="0.4" stroke-linecap="round"/><line x1="829.9" y1="1340.9" x2="812.6" y2="1334.3" stroke="#2a1e12" stroke-width="1.3" stroke-opacity="0.3" stroke-linecap="round"/><line x1="919.8" y1="1311.2" x2="923.7" y2="1305.5" stroke="#2a1e12" stroke-width="1.7" stroke-opacity="0.5" stroke-linecap="round"/><line x1="892.8" y1="1403.1" x2="895.6" y2="1417.5" stroke="#2a1e12" stroke-width="1.6" stroke-opacity="0.2" stroke-linecap="round"/><line x1="893.2" y1="1307" x2="895" y2="1295.5" stroke="#2a1e12" stroke-width="1.6" stroke-opacity="0.5" stroke-linecap="round"/><line x1="846.7" y1="1411.8" x2="836.4" y2="1425.2" stroke="#2a1e12" stroke-width="1.1" stroke-opacity="0.4" stroke-linecap="round"/><line x1="852.2" y1="1310.1" x2="846" y2="1300.2" stroke="#2a1e12" stroke-width="1.1" stroke-opacity="0.3" stroke-linecap="round"/><line x1="824" y1="1350.4" x2="803.9" y2="1346.5" stroke="#2a1e12" stroke-width="1.7" stroke-opacity="0.3" stroke-linecap="round"/><line x1="859.8" y1="1311.4" x2="857.4" y2="1306.5" stroke="#2a1e12" stroke-width="1.6" stroke-opacity="0.5" stroke-linecap="round"/><line x1="863.4" y1="1402.5" x2="859.8" y2="1409.2" stroke="#2a1e12" stroke-width="1.6" stroke-opacity="0.4" stroke-linecap="round"/><line x1="910.5" y1="1321.4" x2="913.4" y2="1316.9" stroke="#2a1e12" stroke-width="1.1" stroke-opacity="0.5" stroke-linecap="round"/><line x1="917.5" y1="1398.3" x2="927.4" y2="1409.5" stroke="#2a1e12" stroke-width="0.9" stroke-opacity="0.4" stroke-linecap="round"/><line x1="942.3" y1="1385" x2="957.3" y2="1390.9" stroke="#2a1e12" stroke-width="1.7" stroke-opacity="0.3" stroke-linecap="round"/><line x1="827.4" y1="1375.1" x2="816.6" y2="1377.5" stroke="#2a1e12" stroke-width="1" stroke-opacity="0.5" stroke-linecap="round"/><line x1="867.1" y1="1307.9" x2="863.8" y2="1297.8" stroke="#2a1e12" stroke-width="1.5" stroke-opacity="0.2" stroke-linecap="round"/><line x1="834.4" y1="1392.9" x2="826.7" y2="1397.6" stroke="#2a1e12" stroke-width="1.5" stroke-opacity="0.3" stroke-linecap="round"/><line x1="854.4" y1="1403.4" x2="844.8" y2="1416.3" stroke="#2a1e12" stroke-width="1.4" stroke-opacity="0.4" stroke-linecap="round"/><line x1="824" y1="1401.7" x2="807.8" y2="1412.3" stroke="#2a1e12" stroke-width="1.2" stroke-opacity="0.4" stroke-linecap="round"/><line x1="928.2" y1="1327" x2="934.6" y2="1321.8" stroke="#2a1e12" stroke-width="0.9" stroke-opacity="0.4" stroke-linecap="round"/><line x1="892.4" y1="1318.1" x2="893.9" y2="1309.1" stroke="#2a1e12" stroke-width="1.8" stroke-opacity="0.4" stroke-linecap="round"/><line x1="824.7" y1="1400.1" x2="808.8" y2="1410.1" stroke="#2a1e12" stroke-width="1.2" stroke-opacity="0.2" stroke-linecap="round"/><line x1="833.3" y1="1320.6" x2="818.9" y2="1309.1" stroke="#2a1e12" stroke-width="1.5" stroke-opacity="0.3" stroke-linecap="round"/><line x1="818" y1="1357.6" x2="804.8" y2="1356.8" stroke="#2a1e12" stroke-width="1.3" stroke-opacity="0.5" stroke-linecap="round"/><line x1="954.7" y1="1329.6" x2="966.2" y2="1324.3" stroke="#2a1e12" stroke-width="1.8" stroke-opacity="0.2" stroke-linecap="round"/><line x1="952.2" y1="1336.8" x2="970.8" y2="1329.9" stroke="#2a1e12" stroke-width="1.2" stroke-opacity="0.5" stroke-linecap="round"/><line x1="965.8" y1="1370.9" x2="985.7" y2="1373" stroke="#2a1e12" stroke-width="1.2" stroke-opacity="0.5" stroke-linecap="round"/><line x1="903" y1="1415.5" x2="906.1" y2="1424.8" stroke="#2a1e12" stroke-width="1.2" stroke-opacity="0.3" stroke-linecap="round"/><line x1="909.4" y1="1310.1" x2="911.5" y2="1305.6" stroke="#2a1e12" stroke-width="1.8" stroke-opacity="0.3" stroke-linecap="round"/><line x1="835" y1="1396.5" x2="823.9" y2="1404.2" stroke="#2a1e12" stroke-width="1.7" stroke-opacity="0.5" stroke-linecap="round"/><line x1="838.6" y1="1326.4" x2="833.8" y2="1322.7" stroke="#2a1e12" stroke-width="0.9" stroke-opacity="0.4" stroke-linecap="round"/><line x1="823.1" y1="1337.3" x2="803.1" y2="1329.3" stroke="#2a1e12" stroke-width="1.2" stroke-opacity="0.3" stroke-linecap="round"/><line x1="829.1" y1="1383.9" x2="809.7" y2="1391.5" stroke="#2a1e12" stroke-width="1.4" stroke-opacity="0.4" stroke-linecap="round"/><line x1="825.8" y1="1382.6" x2="816" y2="1386" stroke="#2a1e12" stroke-width="1.3" stroke-opacity="0.4" stroke-linecap="round"/><line x1="958.8" y1="1355.3" x2="967.7" y2="1354.5" stroke="#2a1e12" stroke-width="0.9" stroke-opacity="0.3" stroke-linecap="round"/><line x1="839.6" y1="1407.7" x2="827.5" y2="1419.9" stroke="#2a1e12" stroke-width="1" stroke-opacity="0.5" stroke-linecap="round"/><line x1="816.1" y1="1380.3" x2="802.2" y2="1384" stroke="#2a1e12" stroke-width="0.8" stroke-opacity="0.2" stroke-linecap="round"/><line x1="846.5" y1="1315.3" x2="840.5" y2="1308" stroke="#2a1e12" stroke-width="1.7" stroke-opacity="0.5" stroke-linecap="round"/><line x1="865.3" y1="1402.4" x2="860.4" y2="1412.4" stroke="#2a1e12" stroke-width="1.5" stroke-opacity="0.3" stroke-linecap="round"/><line x1="954.7" y1="1375.6" x2="960.3" y2="1376.7" stroke="#2a1e12" stroke-width="1.5" stroke-opacity="0.4" stroke-linecap="round"/><line x1="872" y1="1410.6" x2="870.3" y2="1417" stroke="#2a1e12" stroke-width="1" stroke-opacity="0.3" stroke-linecap="round"/><line x1="913.7" y1="1316.6" x2="921" y2="1305" stroke="#2a1e12" stroke-width="1.1" stroke-opacity="0.5" stroke-linecap="round"/><line x1="821.7" y1="1331.9" x2="811.5" y2="1327" stroke="#2a1e12" stroke-width="1.4" stroke-opacity="0.3" stroke-linecap="round"/><line x1="961.2" y1="1353.2" x2="975.9" y2="1351.5" stroke="#2a1e12" stroke-width="1.4" stroke-opacity="0.2" stroke-linecap="round"/><line x1="851.7" y1="1401.3" x2="841.3" y2="1413.6" stroke="#2a1e12" stroke-width="0.8" stroke-opacity="0.4" stroke-linecap="round"/><line x1="939.3" y1="1321.2" x2="951.7" y2="1311.9" stroke="#2a1e12" stroke-width="1.1" stroke-opacity="0.3" stroke-linecap="round"/><line x1="865.9" y1="1317.1" x2="860.7" y2="1304.9" stroke="#2a1e12" stroke-width="1.1" stroke-opacity="0.5" stroke-linecap="round"/><line x1="812.4" y1="1337.2" x2="791.6" y2="1330.1" stroke="#2a1e12" stroke-width="1.2" stroke-opacity="0.5" stroke-linecap="round"/><line x1="967.4" y1="1365.6" x2="973.2" y2="1365.8" stroke="#2a1e12" stroke-width="1.3" stroke-opacity="0.3" stroke-linecap="round"/><line x1="893.5" y1="1315.3" x2="894.6" y2="1309.1" stroke="#2a1e12" stroke-width="1.6" stroke-opacity="0.4" stroke-linecap="round"/><line x1="887.6" y1="1311.8" x2="887.8" y2="1307.8" stroke="#2a1e12" stroke-width="1.6" stroke-opacity="0.3" stroke-linecap="round"/><line x1="826.1" y1="1369.3" x2="816.4" y2="1370.5" stroke="#2a1e12" stroke-width="1.5" stroke-opacity="0.5" stroke-linecap="round"/><line x1="838.3" y1="1324.7" x2="826.2" y2="1315" stroke="#2a1e12" stroke-width="1.5" stroke-opacity="0.3" stroke-linecap="round"/><line x1="811.5" y1="1350.6" x2="793.5" y2="1347.8" stroke="#2a1e12" stroke-width="1" stroke-opacity="0.3" stroke-linecap="round"/><line x1="850.6" y1="1398" x2="844.3" y2="1404.6" stroke="#2a1e12" stroke-width="1.5" stroke-opacity="0.4" stroke-linecap="round"/><line x1="921.7" y1="1410.3" x2="925.1" y2="1414.8" stroke="#2a1e12" stroke-width="1.6" stroke-opacity="0.3" stroke-linecap="round"/><line x1="939.5" y1="1388.2" x2="951.5" y2="1393.9" stroke="#2a1e12" stroke-width="1.1" stroke-opacity="0.5" stroke-linecap="round"/><line x1="947.2" y1="1344.4" x2="964.6" y2="1339.5" stroke="#2a1e12" stroke-width="1.5" stroke-opacity="0.4" stroke-linecap="round"/><line x1="882.4" y1="1420.5" x2="881.7" y2="1436.1" stroke="#2a1e12" stroke-width="0.8" stroke-opacity="0.3" stroke-linecap="round"/><line x1="857" y1="1402.6" x2="851.3" y2="1410.7" stroke="#2a1e12" stroke-width="1.7" stroke-opacity="0.2" stroke-linecap="round"/><line x1="919.8" y1="1321.7" x2="922.6" y2="1318.5" stroke="#2a1e12" stroke-width="1.7" stroke-opacity="0.3" stroke-linecap="round"/><line x1="899.8" y1="1404.3" x2="902.6" y2="1412.3" stroke="#2a1e12" stroke-width="0.9" stroke-opacity="0.3" stroke-linecap="round"/><line x1="885" y1="1413.8" x2="885" y2="1423" stroke="#2a1e12" stroke-width="1.1" stroke-opacity="0.4" stroke-linecap="round"/><line x1="896.9" y1="1308.2" x2="898.6" y2="1300.4" stroke="#2a1e12" stroke-width="1.7" stroke-opacity="0.5" stroke-linecap="round"/><line x1="818.2" y1="1343.1" x2="807.8" y2="1340.2" stroke="#2a1e12" stroke-width="0.9" stroke-opacity="0.5" stroke-linecap="round"/><line x1="836.5" y1="1334.8" x2="819.4" y2="1325.2" stroke="#2a1e12" stroke-width="1.7" stroke-opacity="0.2" stroke-linecap="round"/><line x1="864.8" y1="1318.5" x2="860.3" y2="1308.6" stroke="#2a1e12" stroke-width="1.6" stroke-opacity="0.3" stroke-linecap="round"/><line x1="807.9" y1="1362.6" x2="799.2" y2="1362.6" stroke="#2a1e12" stroke-width="1.4" stroke-opacity="0.3" stroke-linecap="round"/><line x1="949.3" y1="1357.1" x2="967.3" y2="1355.7" stroke="#2a1e12" stroke-width="0.8" stroke-opacity="0.3" stroke-linecap="round"/><line x1="932" y1="1391.7" x2="943" y2="1398.6" stroke="#2a1e12" stroke-width="1" stroke-opacity="0.5" stroke-linecap="round"/><line x1="947.5" y1="1391.9" x2="964.7" y2="1400.2" stroke="#2a1e12" stroke-width="0.9" stroke-opacity="0.3" stroke-linecap="round"/><line x1="891.7" y1="1312.4" x2="893.8" y2="1297.1" stroke="#2a1e12" stroke-width="1.1" stroke-opacity="0.3" stroke-linecap="round"/><line x1="951.3" y1="1349.5" x2="973.3" y2="1345.3" stroke="#2a1e12" stroke-width="1.7" stroke-opacity="0.3" stroke-linecap="round"/><line x1="804.2" y1="1345.4" x2="797.2" y2="1344" stroke="#2a1e12" stroke-width="1.6" stroke-opacity="0.5" stroke-linecap="round"/><line x1="884.7" y1="1309.8" x2="884.7" y2="1304.9" stroke="#2a1e12" stroke-width="1.8" stroke-opacity="0.2" stroke-linecap="round"/><line x1="901.5" y1="1308.8" x2="903.7" y2="1301.4" stroke="#2a1e12" stroke-width="1.5" stroke-opacity="0.3" stroke-linecap="round"/><line x1="885.3" y1="1319.8" x2="885.4" y2="1304.5" stroke="#2a1e12" stroke-width="1.2" stroke-opacity="0.5" stroke-linecap="round"/><line x1="805.4" y1="1372" x2="794.9" y2="1373.3" stroke="#2a1e12" stroke-width="1.3" stroke-opacity="0.2" stroke-linecap="round"/><line x1="823.3" y1="1364.9" x2="802.5" y2="1365.9" stroke="#2a1e12" stroke-width="1.5" stroke-opacity="0.3" stroke-linecap="round"/><line x1="968.3" y1="1352.6" x2="990.6" y2="1350.1" stroke="#2a1e12" stroke-width="0.9" stroke-opacity="0.4" stroke-linecap="round"/><line x1="874.4" y1="1310.2" x2="873.6" y2="1306.5" stroke="#2a1e12" stroke-width="1.7" stroke-opacity="0.4" stroke-linecap="round"/><line x1="818" y1="1330.5" x2="809.6" y2="1326.5" stroke="#2a1e12" stroke-width="0.8" stroke-opacity="0.5" stroke-linecap="round"/><line x1="877.2" y1="1403.8" x2="876.2" y2="1409.1" stroke="#2a1e12" stroke-width="1.8" stroke-opacity="0.5" stroke-linecap="round"/><line x1="900.9" y1="1404.6" x2="906.2" y2="1419.1" stroke="#2a1e12" stroke-width="1.5" stroke-opacity="0.4" stroke-linecap="round"/><line x1="932.9" y1="1397.8" x2="948.1" y2="1409.2" stroke="#2a1e12" stroke-width="0.8" stroke-opacity="0.3" stroke-linecap="round"/><line x1="965.3" y1="1382.8" x2="971.9" y2="1384.5" stroke="#2a1e12" stroke-width="1.8" stroke-opacity="0.5" stroke-linecap="round"/><line x1="878" y1="1320.1" x2="876" y2="1307.8" stroke="#2a1e12" stroke-width="1.3" stroke-opacity="0.4" stroke-linecap="round"/><line x1="929.7" y1="1402" x2="941.9" y2="1412.9" stroke="#2a1e12" stroke-width="0.9" stroke-opacity="0.5" stroke-linecap="round"/><line x1="826.5" y1="1384.3" x2="818.2" y2="1387.5" stroke="#2a1e12" stroke-width="1.3" stroke-opacity="0.4" stroke-linecap="round"/><line x1="809.9" y1="1337.6" x2="796.8" y2="1333.3" stroke="#2a1e12" stroke-width="1.3" stroke-opacity="0.5" stroke-linecap="round"/><line x1="898.1" y1="1402.7" x2="900.5" y2="1410.3" stroke="#2a1e12" stroke-width="1.1" stroke-opacity="0.2" stroke-linecap="round"/><line x1="832.1" y1="1382.7" x2="813" y2="1390.1" stroke="#2a1e12" stroke-width="1.3" stroke-opacity="0.5" stroke-linecap="round"/><line x1="859.5" y1="1310.4" x2="853.3" y2="1298" stroke="#2a1e12" stroke-width="1.1" stroke-opacity="0.5" stroke-linecap="round"/><line x1="905.2" y1="1411.4" x2="909.6" y2="1422.1" stroke="#2a1e12" stroke-width="1.6" stroke-opacity="0.3" stroke-linecap="round"/><line x1="839.7" y1="1408.7" x2="828.7" y2="1420.1" stroke="#2a1e12" stroke-width="1.8" stroke-opacity="0.2" stroke-linecap="round"/><line x1="900.5" y1="1404" x2="905" y2="1416.3" stroke="#2a1e12" stroke-width="1.5" stroke-opacity="0.4" stroke-linecap="round"/><line x1="898.5" y1="1312.2" x2="901.4" y2="1301.7" stroke="#2a1e12" stroke-width="1.7" stroke-opacity="0.4" stroke-linecap="round"/><line x1="843.2" y1="1318.8" x2="835.3" y2="1310.7" stroke="#2a1e12" stroke-width="1.6" stroke-opacity="0.4" stroke-linecap="round"/><line x1="933.8" y1="1397.6" x2="942.7" y2="1404" stroke="#2a1e12" stroke-width="1.2" stroke-opacity="0.4" stroke-linecap="round"/><line x1="839.8" y1="1399" x2="831.4" y2="1405.8" stroke="#2a1e12" stroke-width="1.2" stroke-opacity="0.5" stroke-linecap="round"/><line x1="935.8" y1="1384.4" x2="951.3" y2="1391.2" stroke="#2a1e12" stroke-width="1.2" stroke-opacity="0.4" stroke-linecap="round"/><line x1="826.9" y1="1335.8" x2="818.9" y2="1332.2" stroke="#2a1e12" stroke-width="0.8" stroke-opacity="0.5" stroke-linecap="round"/><line x1="947.4" y1="1344.6" x2="960" y2="1341.1" stroke="#2a1e12" stroke-width="1.1" stroke-opacity="0.2" stroke-linecap="round"/><line x1="948.7" y1="1326.7" x2="956.2" y2="1322.6" stroke="#2a1e12" stroke-width="1.1" stroke-opacity="0.4" stroke-linecap="round"/><line x1="905.8" y1="1314.3" x2="909.4" y2="1306.2" stroke="#2a1e12" stroke-width="1" stroke-opacity="0.5" stroke-linecap="round"/><line x1="938.7" y1="1319" x2="943.5" y2="1315.2" stroke="#2a1e12" stroke-width="1.4" stroke-opacity="0.5" stroke-linecap="round"/><line x1="869.4" y1="1313.5" x2="867.7" y2="1308.2" stroke="#2a1e12" stroke-width="0.9" stroke-opacity="0.5" stroke-linecap="round"/><line x1="958.4" y1="1385.4" x2="974.2" y2="1390.4" stroke="#2a1e12" stroke-width="1.3" stroke-opacity="0.5" stroke-linecap="round"/><line x1="954.1" y1="1340.4" x2="960.5" y2="1338.4" stroke="#2a1e12" stroke-width="1.4" stroke-opacity="0.3" stroke-linecap="round"/><line x1="885.2" y1="1420.1" x2="885.3" y2="1432.9" stroke="#2a1e12" stroke-width="0.9" stroke-opacity="0.3" stroke-linecap="round"/><line x1="843.9" y1="1405.2" x2="837.8" y2="1411.6" stroke="#2a1e12" stroke-width="1.2" stroke-opacity="0.5" stroke-linecap="round"/><line x1="917.6" y1="1411.4" x2="922.3" y2="1418.5" stroke="#2a1e12" stroke-width="1.7" stroke-opacity="0.5" stroke-linecap="round"/><line x1="849.7" y1="1408.2" x2="846.3" y2="1412.7" stroke="#2a1e12" stroke-width="1.2" stroke-opacity="0.4" stroke-linecap="round"/><line x1="840.6" y1="1325.7" x2="836.8" y2="1322.6" stroke="#2a1e12" stroke-width="0.9" stroke-opacity="0.4" stroke-linecap="round"/><line x1="917.2" y1="1403.3" x2="925" y2="1413.3" stroke="#2a1e12" stroke-width="1.7" stroke-opacity="0.4" stroke-linecap="round"/><line x1="882.8" y1="1413.9" x2="882.5" y2="1421" stroke="#2a1e12" stroke-width="1.6" stroke-opacity="0.3" stroke-linecap="round"/><line x1="879.6" y1="1411.2" x2="878" y2="1426.2" stroke="#2a1e12" stroke-width="1" stroke-opacity="0.3" stroke-linecap="round"/><line x1="929.2" y1="1395.3" x2="936.8" y2="1401" stroke="#2a1e12" stroke-width="1.2" stroke-opacity="0.5" stroke-linecap="round"/><line x1="825.6" y1="1390.4" x2="815.4" y2="1395.3" stroke="#2a1e12" stroke-width="1.6" stroke-opacity="0.5" stroke-linecap="round"/><line x1="810.3" y1="1388.2" x2="801.5" y2="1391.2" stroke="#2a1e12" stroke-width="1.8" stroke-opacity="0.4" stroke-linecap="round"/><line x1="856.1" y1="1318.1" x2="851.9" y2="1311.7" stroke="#2a1e12" stroke-width="0.9" stroke-opacity="0.5" stroke-linecap="round"/><line x1="835.5" y1="1403.7" x2="826.8" y2="1410.9" stroke="#2a1e12" stroke-width="1.3" stroke-opacity="0.3" stroke-linecap="round"/><line x1="915.3" y1="1404.6" x2="923.1" y2="1415.5" stroke="#2a1e12" stroke-width="1.3" stroke-opacity="0.2" stroke-linecap="round"/><line x1="867.7" y1="1314.3" x2="866.1" y2="1310" stroke="#2a1e12" stroke-width="1.1" stroke-opacity="0.3" stroke-linecap="round"/><line x1="917.7" y1="1316" x2="922.7" y2="1309.1" stroke="#2a1e12" stroke-width="1" stroke-opacity="0.3" stroke-linecap="round"/><line x1="872.1" y1="1408.8" x2="868.4" y2="1422.1" stroke="#2a1e12" stroke-width="1.6" stroke-opacity="0.4" stroke-linecap="round"/><line x1="942.6" y1="1326.8" x2="948" y2="1323.5" stroke="#2a1e12" stroke-width="0.8" stroke-opacity="0.3" stroke-linecap="round"/><line x1="881.3" y1="1412.8" x2="880.2" y2="1426.8" stroke="#2a1e12" stroke-width="1.4" stroke-opacity="0.4" stroke-linecap="round"/><line x1="889.2" y1="1421" x2="890.1" y2="1434.1" stroke="#2a1e12" stroke-width="1.1" stroke-opacity="0.2" stroke-linecap="round"/><line x1="951" y1="1356.8" x2="971.5" y2="1355.2" stroke="#2a1e12" stroke-width="0.9" stroke-opacity="0.4" stroke-linecap="round"/><line x1="833.6" y1="1407" x2="827" y2="1412.8" stroke="#2a1e12" stroke-width="0.9" stroke-opacity="0.3" stroke-linecap="round"/><line x1="914.2" y1="1306.6" x2="920" y2="1295.6" stroke="#2a1e12" stroke-width="1.5" stroke-opacity="0.3" stroke-linecap="round"/><line x1="876.3" y1="1404.5" x2="873" y2="1420.4" stroke="#2a1e12" stroke-width="0.8" stroke-opacity="0.4" stroke-linecap="round"/><line x1="847" y1="1398.2" x2="839.3" y2="1405.6" stroke="#2a1e12" stroke-width="1.7" stroke-opacity="0.3" stroke-linecap="round"/><line x1="923.9" y1="1407.3" x2="932.7" y2="1417.5" stroke="#2a1e12" stroke-width="1.3" stroke-opacity="0.3" stroke-linecap="round"/><line x1="929.1" y1="1331.2" x2="935" y2="1327" stroke="#2a1e12" stroke-width="1" stroke-opacity="0.4" stroke-linecap="round"/><line x1="811.6" y1="1369.6" x2="793.4" y2="1371.5" stroke="#2a1e12" stroke-width="1.7" stroke-opacity="0.4" stroke-linecap="round"/><line x1="963.6" y1="1376.7" x2="968.9" y2="1377.7" stroke="#2a1e12" stroke-width="1.1" stroke-opacity="0.3" stroke-linecap="round"/><line x1="820.8" y1="1328.8" x2="814.8" y2="1325.6" stroke="#2a1e12" stroke-width="1.1" stroke-opacity="0.5" stroke-linecap="round"/><line x1="861.6" y1="1321.8" x2="855" y2="1310.4" stroke="#2a1e12" stroke-width="1.6" stroke-opacity="0.3" stroke-linecap="round"/><line x1="928.1" y1="1406.1" x2="934.3" y2="1412.4" stroke="#2a1e12" stroke-width="0.9" stroke-opacity="0.3" stroke-linecap="round"/><line x1="833.4" y1="1387.1" x2="823.4" y2="1392" stroke="#2a1e12" stroke-width="1.4" stroke-opacity="0.4" stroke-linecap="round"/><line x1="818.7" y1="1393.7" x2="813.1" y2="1396.4" stroke="#2a1e12" stroke-width="1.1" stroke-opacity="0.5" stroke-linecap="round"/><line x1="940.1" y1="1318.3" x2="952.7" y2="1308.4" stroke="#2a1e12" stroke-width="1.3" stroke-opacity="0.5" stroke-linecap="round"/><line x1="828.6" y1="1342.8" x2="819.7" y2="1339.8" stroke="#2a1e12" stroke-width="0.9" stroke-opacity="0.5" stroke-linecap="round"/><line x1="854.2" y1="1405.8" x2="847.7" y2="1415.2" stroke="#2a1e12" stroke-width="0.9" stroke-opacity="0.4" stroke-linecap="round"/><line x1="907.7" y1="1308.5" x2="913.7" y2="1294.4" stroke="#2a1e12" stroke-width="1.1" stroke-opacity="0.3" stroke-linecap="round"/><line x1="890.7" y1="1308.3" x2="891.5" y2="1300" stroke="#2a1e12" stroke-width="1.1" stroke-opacity="0.3" stroke-linecap="round"/><line x1="920.3" y1="1318.7" x2="930.2" y2="1306.7" stroke="#2a1e12" stroke-width="1.1" stroke-opacity="0.3" stroke-linecap="round"/><line x1="806.1" y1="1357.4" x2="784.9" y2="1356.2" stroke="#2a1e12" stroke-width="1.2" stroke-opacity="0.4" stroke-linecap="round"/><line x1="817.4" y1="1394.4" x2="801.7" y2="1401.9" stroke="#2a1e12" stroke-width="1.4" stroke-opacity="0.3" stroke-linecap="round"/><line x1="872.7" y1="1418.7" x2="869.7" y2="1432.2" stroke="#2a1e12" stroke-width="1.1" stroke-opacity="0.2" stroke-linecap="round"/><line x1="913.7" y1="1417.3" x2="915.7" y2="1421.1" stroke="#2a1e12" stroke-width="1.6" stroke-opacity="0.4" stroke-linecap="round"/><line x1="815.4" y1="1345" x2="803.4" y2="1342.1" stroke="#2a1e12" stroke-width="1.4" stroke-opacity="0.2" stroke-linecap="round"/><line x1="939.7" y1="1341.1" x2="946.5" y2="1338.5" stroke="#2a1e12" stroke-width="1.5" stroke-opacity="0.4" stroke-linecap="round"/><line x1="912.1" y1="1311.5" x2="919.9" y2="1297.2" stroke="#2a1e12" stroke-width="0.9" stroke-opacity="0.2" stroke-linecap="round"/><line x1="891.6" y1="1417.2" x2="892.2" y2="1422.7" stroke="#2a1e12" stroke-width="1.3" stroke-opacity="0.5" stroke-linecap="round"/><line x1="925.8" y1="1404.3" x2="937.8" y2="1416.7" stroke="#2a1e12" stroke-width="1.5" stroke-opacity="0.3" stroke-linecap="round"/><line x1="818.6" y1="1368.1" x2="796.1" y2="1370.2" stroke="#2a1e12" stroke-width="1.6" stroke-opacity="0.4" stroke-linecap="round"/><line x1="858.7" y1="1413.4" x2="854" y2="1422.6" stroke="#2a1e12" stroke-width="1.6" stroke-opacity="0.3" stroke-linecap="round"/><line x1="942.1" y1="1325.6" x2="951.9" y2="1319.3" stroke="#2a1e12" stroke-width="1.4" stroke-opacity="0.5" stroke-linecap="round"/><line x1="801.7" y1="1351.3" x2="796.4" y2="1350.6" stroke="#2a1e12" stroke-width="1.7" stroke-opacity="0.4" stroke-linecap="round"/><line x1="803.3" y1="1365.8" x2="795.4" y2="1366.1" stroke="#2a1e12" stroke-width="1.1" stroke-opacity="0.4" stroke-linecap="round"/><line x1="915.9" y1="1318.9" x2="926.3" y2="1304.5" stroke="#2a1e12" stroke-width="1.4" stroke-opacity="0.2" stroke-linecap="round"/><line x1="929.2" y1="1391.9" x2="940.3" y2="1399.4" stroke="#2a1e12" stroke-width="1.1" stroke-opacity="0.3" stroke-linecap="round"/><line x1="826.5" y1="1375.8" x2="805.9" y2="1380.7" stroke="#2a1e12" stroke-width="1.6" stroke-opacity="0.4" stroke-linecap="round"/><line x1="821.3" y1="1378.1" x2="806.1" y2="1381.9" stroke="#2a1e12" stroke-width="1.1" stroke-opacity="0.5" stroke-linecap="round"/><line x1="960.7" y1="1347.2" x2="980.2" y2="1343.4" stroke="#2a1e12" stroke-width="0.9" stroke-opacity="0.2" stroke-linecap="round"/><line x1="849.4" y1="1398" x2="842.1" y2="1405.4" stroke="#2a1e12" stroke-width="1.8" stroke-opacity="0.5" stroke-linecap="round"/><line x1="948.4" y1="1350.4" x2="957.3" y2="1348.7" stroke="#2a1e12" stroke-width="0.8" stroke-opacity="0.3" stroke-linecap="round"/><line x1="953.9" y1="1379.7" x2="964" y2="1382.3" stroke="#2a1e12" stroke-width="1.5" stroke-opacity="0.4" stroke-linecap="round"/><line x1="829.7" y1="1335.1" x2="814.5" y2="1327.7" stroke="#2a1e12" stroke-width="1.5" stroke-opacity="0.4" stroke-linecap="round"/><line x1="814.3" y1="1371" x2="804.1" y2="1372.3" stroke="#2a1e12" stroke-width="0.8" stroke-opacity="0.4" stroke-linecap="round"/><line x1="836.8" y1="1332.2" x2="821.3" y2="1322.5" stroke="#2a1e12" stroke-width="1.7" stroke-opacity="0.5" stroke-linecap="round"/><line x1="914.3" y1="1316.1" x2="917.6" y2="1310.8" stroke="#2a1e12" stroke-width="1.1" stroke-opacity="0.5" stroke-linecap="round"/><line x1="947.4" y1="1357.8" x2="952.7" y2="1357.5" stroke="#2a1e12" stroke-width="1.2" stroke-opacity="0.3" stroke-linecap="round"/><line x1="833.7" y1="1337" x2="816.9" y2="1328.8" stroke="#2a1e12" stroke-width="1.1" stroke-opacity="0.5" stroke-linecap="round"/><line x1="852.6" y1="1403.2" x2="848.6" y2="1408.3" stroke="#2a1e12" stroke-width="1.8" stroke-opacity="0.4" stroke-linecap="round"/><line x1="913.1" y1="1324.2" x2="920" y2="1314.9" stroke="#2a1e12" stroke-width="1.5" stroke-opacity="0.5" stroke-linecap="round"/><line x1="942.6" y1="1345.2" x2="953.7" y2="1342" stroke="#2a1e12" stroke-width="1.8" stroke-opacity="0.4" stroke-linecap="round"/><line x1="949" y1="1349.7" x2="954.4" y2="1348.7" stroke="#2a1e12" stroke-width="1.7" stroke-opacity="0.3" stroke-linecap="round"/><line x1="820.8" y1="1344.2" x2="806.2" y2="1340.1" stroke="#2a1e12" stroke-width="1.7" stroke-opacity="0.5" stroke-linecap="round"/><line x1="932.6" y1="1329.9" x2="947" y2="1320.1" stroke="#2a1e12" stroke-width="0.8" stroke-opacity="0.3" stroke-linecap="round"/><line x1="947.4" y1="1346.2" x2="958.5" y2="1343.4" stroke="#2a1e12" stroke-width="1.4" stroke-opacity="0.3" stroke-linecap="round"/><line x1="865.2" y1="1310.7" x2="863.4" y2="1306" stroke="#2a1e12" stroke-width="1.7" stroke-opacity="0.2" stroke-linecap="round"/><line x1="862.3" y1="1317" x2="859.7" y2="1311.9" stroke="#2a1e12" stroke-width="0.9" stroke-opacity="0.5" stroke-linecap="round"/><line x1="907" y1="1314.7" x2="913.1" y2="1301.8" stroke="#2a1e12" stroke-width="1.8" stroke-opacity="0.5" stroke-linecap="round"/><line x1="819.4" y1="1352.6" x2="805.1" y2="1350.5" stroke="#2a1e12" stroke-width="1.8" stroke-opacity="0.5" stroke-linecap="round"/><line x1="845.5" y1="1312.5" x2="839.4" y2="1304.8" stroke="#2a1e12" stroke-width="1.4" stroke-opacity="0.5" stroke-linecap="round"/><line x1="910.8" y1="1416" x2="912.6" y2="1419.7" stroke="#2a1e12" stroke-width="1.3" stroke-opacity="0.4" stroke-linecap="round"/><line x1="935.8" y1="1408.1" x2="943.8" y2="1415.4" stroke="#2a1e12" stroke-width="1" stroke-opacity="0.3" stroke-linecap="round"/><line x1="825.4" y1="1335.3" x2="821" y2="1333.3" stroke="#2a1e12" stroke-width="0.9" stroke-opacity="0.4" stroke-linecap="round"/><line x1="929.9" y1="1395.9" x2="943.4" y2="1406" stroke="#2a1e12" stroke-width="1.7" stroke-opacity="0.5" stroke-linecap="round"/><line x1="912.4" y1="1398.9" x2="921" y2="1410.6" stroke="#2a1e12" stroke-width="1.4" stroke-opacity="0.3" stroke-linecap="round"/><line x1="955.5" y1="1367.7" x2="965" y2="1368.5" stroke="#2a1e12" stroke-width="1.4" stroke-opacity="0.5" stroke-linecap="round"/><line x1="900.6" y1="1403.4" x2="905.1" y2="1415.3" stroke="#2a1e12" stroke-width="0.9" stroke-opacity="0.3" stroke-linecap="round"/><line x1="805.7" y1="1384.1" x2="795.4" y2="1386.9" stroke="#2a1e12" stroke-width="1.1" stroke-opacity="0.4" stroke-linecap="round"/><line x1="921.8" y1="1403.4" x2="931.2" y2="1414" stroke="#2a1e12" stroke-width="1.1" stroke-opacity="0.5" stroke-linecap="round"/><line x1="910" y1="1401.6" x2="916.7" y2="1412.1" stroke="#2a1e12" stroke-width="1.3" stroke-opacity="0.5" stroke-linecap="round"/><line x1="947.5" y1="1395.6" x2="961.3" y2="1403" stroke="#2a1e12" stroke-width="1.2" stroke-opacity="0.2" stroke-linecap="round"/><line x1="824.3" y1="1326.4" x2="813.8" y2="1320.2" stroke="#2a1e12" stroke-width="1.3" stroke-opacity="0.4" stroke-linecap="round"/><line x1="830.3" y1="1330.9" x2="823.6" y2="1327.1" stroke="#2a1e12" stroke-width="1.3" stroke-opacity="0.4" stroke-linecap="round"/><line x1="953.2" y1="1326.1" x2="965.4" y2="1319.7" stroke="#2a1e12" stroke-width="1.1" stroke-opacity="0.3" stroke-linecap="round"/><line x1="831.1" y1="1322" x2="824.5" y2="1317.1" stroke="#2a1e12" stroke-width="1.5" stroke-opacity="0.5" stroke-linecap="round"/><line x1="819.6" y1="1398.7" x2="809.4" y2="1404.5" stroke="#2a1e12" stroke-width="1.5" stroke-opacity="0.5" stroke-linecap="round"/><line x1="904.9" y1="1407.6" x2="911.5" y2="1422.9" stroke="#2a1e12" stroke-width="0.9" stroke-opacity="0.3" stroke-linecap="round"/><line x1="806.7" y1="1370.1" x2="790.2" y2="1371.8" stroke="#2a1e12" stroke-width="1.7" stroke-opacity="0.4" stroke-linecap="round"/><line x1="946.7" y1="1362.4" x2="952.5" y2="1362.4" stroke="#2a1e12" stroke-width="1.2" stroke-opacity="0.2" stroke-linecap="round"/><line x1="809.8" y1="1353.4" x2="801" y2="1352.4" stroke="#2a1e12" stroke-width="1.7" stroke-opacity="0.3" stroke-linecap="round"/><line x1="951.9" y1="1350.1" x2="967.9" y2="1347.2" stroke="#2a1e12" stroke-width="1.3" stroke-opacity="0.3" stroke-linecap="round"/><line x1="896.2" y1="1321.3" x2="898" y2="1314.6" stroke="#2a1e12" stroke-width="1.1" stroke-opacity="0.5" stroke-linecap="round"/><line x1="824.3" y1="1361.8" x2="813.6" y2="1361.8" stroke="#2a1e12" stroke-width="1.4" stroke-opacity="0.5" stroke-linecap="round"/><line x1="947" y1="1397.1" x2="956.5" y2="1402.5" stroke="#2a1e12" stroke-width="1.3" stroke-opacity="0.3" stroke-linecap="round"/>
<ellipse cx="876" cy="1366" rx="88" ry="58" fill="url(#sph4)" transform="rotate(-10 876 1366)"/>
<ellipse cx="932" cy="1350" rx="36" ry="22" fill="#1a110b" filter="url(#bl8)" transform="rotate(-10 932 1350)" opacity="0.85"/>
<ellipse cx="972" cy="1346" rx="16" ry="7" fill="#3a2a1c" filter="url(#bl4)" transform="rotate(-8 972 1346)" opacity="0.6"/>
<line x1="682.5" y1="1474" x2="672.1" y2="1479.8" stroke="#2a1e12" stroke-width="1.7" stroke-opacity="0.5" stroke-linecap="round"/><line x1="709.1" y1="1421.9" x2="707.9" y2="1417.1" stroke="#2a1e12" stroke-width="1.6" stroke-opacity="0.4" stroke-linecap="round"/><line x1="697.9" y1="1427.2" x2="694" y2="1421.6" stroke="#2a1e12" stroke-width="1.7" stroke-opacity="0.4" stroke-linecap="round"/><line x1="745.2" y1="1459.8" x2="751.5" y2="1460.8" stroke="#2a1e12" stroke-width="0.9" stroke-opacity="0.5" stroke-linecap="round"/><line x1="745.6" y1="1428" x2="748.4" y2="1425.3" stroke="#2a1e12" stroke-width="1.2" stroke-opacity="0.2" stroke-linecap="round"/><line x1="711.7" y1="1408.4" x2="710.2" y2="1394.9" stroke="#2a1e12" stroke-width="1.6" stroke-opacity="0.2" stroke-linecap="round"/><line x1="742" y1="1457.8" x2="752.5" y2="1459" stroke="#2a1e12" stroke-width="1.6" stroke-opacity="0.4" stroke-linecap="round"/><line x1="720.4" y1="1502.7" x2="720.8" y2="1508.7" stroke="#2a1e12" stroke-width="1.1" stroke-opacity="0.2" stroke-linecap="round"/><line x1="746.3" y1="1450.7" x2="756.2" y2="1449.3" stroke="#2a1e12" stroke-width="1.6" stroke-opacity="0.4" stroke-linecap="round"/><line x1="751.2" y1="1451.2" x2="762.5" y2="1449.9" stroke="#2a1e12" stroke-width="1.8" stroke-opacity="0.2" stroke-linecap="round"/><line x1="717.1" y1="1418.6" x2="717.1" y2="1410.3" stroke="#2a1e12" stroke-width="1.1" stroke-opacity="0.5" stroke-linecap="round"/><line x1="744.6" y1="1469.9" x2="748.8" y2="1472.1" stroke="#2a1e12" stroke-width="1.8" stroke-opacity="0.4" stroke-linecap="round"/><line x1="707.8" y1="1415.1" x2="704.9" y2="1402.3" stroke="#2a1e12" stroke-width="1.1" stroke-opacity="0.3" stroke-linecap="round"/><line x1="715.8" y1="1409.9" x2="715.4" y2="1395.1" stroke="#2a1e12" stroke-width="1.1" stroke-opacity="0.5" stroke-linecap="round"/><line x1="714.5" y1="1412.4" x2="713.9" y2="1403.1" stroke="#2a1e12" stroke-width="1.4" stroke-opacity="0.2" stroke-linecap="round"/><line x1="740" y1="1476.7" x2="743.6" y2="1480.2" stroke="#2a1e12" stroke-width="0.8" stroke-opacity="0.5" stroke-linecap="round"/><line x1="713.2" y1="1411.8" x2="712.6" y2="1404.8" stroke="#2a1e12" stroke-width="1.5" stroke-opacity="0.5" stroke-linecap="round"/><line x1="697.3" y1="1430.2" x2="691.3" y2="1422.7" stroke="#2a1e12" stroke-width="1.2" stroke-opacity="0.3" stroke-linecap="round"/><line x1="738.2" y1="1493.7" x2="743.4" y2="1503.2" stroke="#2a1e12" stroke-width="1.7" stroke-opacity="0.3" stroke-linecap="round"/><line x1="714.3" y1="1496.4" x2="713.9" y2="1501.7" stroke="#2a1e12" stroke-width="1.1" stroke-opacity="0.4" stroke-linecap="round"/><line x1="681.1" y1="1460.6" x2="672.8" y2="1461.9" stroke="#2a1e12" stroke-width="1.4" stroke-opacity="0.4" stroke-linecap="round"/><line x1="723.3" y1="1417" x2="724.1" y2="1412.5" stroke="#2a1e12" stroke-width="1.8" stroke-opacity="0.5" stroke-linecap="round"/><line x1="734.7" y1="1479.5" x2="738.4" y2="1484.6" stroke="#2a1e12" stroke-width="1.5" stroke-opacity="0.2" stroke-linecap="round"/><line x1="747.3" y1="1460.2" x2="750.7" y2="1460.8" stroke="#2a1e12" stroke-width="1.1" stroke-opacity="0.3" stroke-linecap="round"/><line x1="723.6" y1="1486" x2="725.2" y2="1493.3" stroke="#2a1e12" stroke-width="1" stroke-opacity="0.3" stroke-linecap="round"/><line x1="692.3" y1="1474.9" x2="687.1" y2="1479.1" stroke="#2a1e12" stroke-width="0.8" stroke-opacity="0.5" stroke-linecap="round"/><line x1="714.8" y1="1413.8" x2="714.5" y2="1409.2" stroke="#2a1e12" stroke-width="1" stroke-opacity="0.5" stroke-linecap="round"/><line x1="691.4" y1="1464.6" x2="681.4" y2="1468.3" stroke="#2a1e12" stroke-width="1.7" stroke-opacity="0.2" stroke-linecap="round"/><line x1="685.6" y1="1454.7" x2="681.2" y2="1454.7" stroke="#2a1e12" stroke-width="1.1" stroke-opacity="0.4" stroke-linecap="round"/><line x1="702" y1="1416.2" x2="698" y2="1405.8" stroke="#2a1e12" stroke-width="1.2" stroke-opacity="0.2" stroke-linecap="round"/><line x1="752" y1="1459.8" x2="762.7" y2="1461.3" stroke="#2a1e12" stroke-width="1.7" stroke-opacity="0.2" stroke-linecap="round"/><line x1="720.2" y1="1419.9" x2="720.9" y2="1411.4" stroke="#2a1e12" stroke-width="1" stroke-opacity="0.5" stroke-linecap="round"/><line x1="731.8" y1="1411.9" x2="734.6" y2="1403.7" stroke="#2a1e12" stroke-width="1.7" stroke-opacity="0.3" stroke-linecap="round"/><line x1="687.6" y1="1435" x2="682.7" y2="1431.7" stroke="#2a1e12" stroke-width="1.2" stroke-opacity="0.2" stroke-linecap="round"/><line x1="724.6" y1="1420.9" x2="725.9" y2="1415" stroke="#2a1e12" stroke-width="1.1" stroke-opacity="0.4" stroke-linecap="round"/><line x1="696.9" y1="1423.2" x2="689.9" y2="1412.3" stroke="#2a1e12" stroke-width="1.6" stroke-opacity="0.3" stroke-linecap="round"/><line x1="691.5" y1="1447.4" x2="686.2" y2="1445.8" stroke="#2a1e12" stroke-width="0.9" stroke-opacity="0.2" stroke-linecap="round"/><line x1="695.9" y1="1494.2" x2="690.6" y2="1504" stroke="#2a1e12" stroke-width="0.9" stroke-opacity="0.3" stroke-linecap="round"/><line x1="691" y1="1432.2" x2="687.9" y2="1429.5" stroke="#2a1e12" stroke-width="0.9" stroke-opacity="0.4" stroke-linecap="round"/><line x1="697" y1="1435" x2="688.9" y2="1427" stroke="#2a1e12" stroke-width="1" stroke-opacity="0.4" stroke-linecap="round"/><line x1="689.1" y1="1447.9" x2="677.8" y2="1445" stroke="#2a1e12" stroke-width="1.2" stroke-opacity="0.3" stroke-linecap="round"/><line x1="682.9" y1="1443.1" x2="671.5" y2="1439.1" stroke="#2a1e12" stroke-width="1.6" stroke-opacity="0.4" stroke-linecap="round"/><line x1="710.3" y1="1412" x2="707.9" y2="1396.7" stroke="#2a1e12" stroke-width="1.8" stroke-opacity="0.5" stroke-linecap="round"/><line x1="723.6" y1="1496.7" x2="725.1" y2="1506.2" stroke="#2a1e12" stroke-width="1" stroke-opacity="0.5" stroke-linecap="round"/><line x1="723" y1="1499.5" x2="724.4" y2="1509.6" stroke="#2a1e12" stroke-width="1.2" stroke-opacity="0.4" stroke-linecap="round"/><line x1="711.1" y1="1405.2" x2="709.3" y2="1389.3" stroke="#2a1e12" stroke-width="1.6" stroke-opacity="0.3" stroke-linecap="round"/><line x1="702.2" y1="1418.9" x2="696.6" y2="1405.4" stroke="#2a1e12" stroke-width="1.2" stroke-opacity="0.3" stroke-linecap="round"/><line x1="746.8" y1="1461.6" x2="754.6" y2="1463.4" stroke="#2a1e12" stroke-width="1.1" stroke-opacity="0.2" stroke-linecap="round"/><line x1="692.4" y1="1458.4" x2="687.5" y2="1459" stroke="#2a1e12" stroke-width="1.2" stroke-opacity="0.3" stroke-linecap="round"/><line x1="686" y1="1455" x2="679.3" y2="1455" stroke="#2a1e12" stroke-width="0.9" stroke-opacity="0.2" stroke-linecap="round"/><line x1="682.6" y1="1436.7" x2="677.2" y2="1433.9" stroke="#2a1e12" stroke-width="1.2" stroke-opacity="0.3" stroke-linecap="round"/><line x1="715.6" y1="1413.8" x2="715.1" y2="1400" stroke="#2a1e12" stroke-width="0.8" stroke-opacity="0.2" stroke-linecap="round"/><line x1="724.8" y1="1492.5" x2="726.7" y2="1501.4" stroke="#2a1e12" stroke-width="1.2" stroke-opacity="0.5" stroke-linecap="round"/><line x1="687.7" y1="1470.9" x2="676.9" y2="1476.8" stroke="#2a1e12" stroke-width="1.4" stroke-opacity="0.4" stroke-linecap="round"/><line x1="730.4" y1="1421.2" x2="732.1" y2="1416.8" stroke="#2a1e12" stroke-width="1.8" stroke-opacity="0.4" stroke-linecap="round"/><line x1="695.5" y1="1438.5" x2="687" y2="1432" stroke="#2a1e12" stroke-width="1.2" stroke-opacity="0.4" stroke-linecap="round"/><line x1="709.4" y1="1503" x2="708" y2="1511.6" stroke="#2a1e12" stroke-width="1.1" stroke-opacity="0.5" stroke-linecap="round"/><line x1="721.7" y1="1491.6" x2="723" y2="1501.7" stroke="#2a1e12" stroke-width="1.8" stroke-opacity="0.2" stroke-linecap="round"/><line x1="725.5" y1="1500.4" x2="726.5" y2="1505.7" stroke="#2a1e12" stroke-width="1.2" stroke-opacity="0.5" stroke-linecap="round"/><line x1="709" y1="1409.5" x2="707.9" y2="1403.7" stroke="#2a1e12" stroke-width="1.7" stroke-opacity="0.3" stroke-linecap="round"/><line x1="728.9" y1="1417.4" x2="733.2" y2="1403.7" stroke="#2a1e12" stroke-width="1.3" stroke-opacity="0.3" stroke-linecap="round"/><line x1="734.9" y1="1488.5" x2="737.1" y2="1492.7" stroke="#2a1e12" stroke-width="1" stroke-opacity="0.5" stroke-linecap="round"/><line x1="685.2" y1="1433.5" x2="681" y2="1430.7" stroke="#2a1e12" stroke-width="1.3" stroke-opacity="0.4" stroke-linecap="round"/><line x1="738.3" y1="1478.2" x2="747.1" y2="1487.8" stroke="#2a1e12" stroke-width="1.5" stroke-opacity="0.4" stroke-linecap="round"/><line x1="689.6" y1="1424.5" x2="680.7" y2="1414.6" stroke="#2a1e12" stroke-width="1.4" stroke-opacity="0.2" stroke-linecap="round"/><line x1="735" y1="1429.6" x2="738.8" y2="1424.3" stroke="#2a1e12" stroke-width="0.9" stroke-opacity="0.4" stroke-linecap="round"/><line x1="690.9" y1="1434.8" x2="684.5" y2="1429.9" stroke="#2a1e12" stroke-width="0.9" stroke-opacity="0.5" stroke-linecap="round"/><line x1="689.8" y1="1446.2" x2="679.6" y2="1442.8" stroke="#2a1e12" stroke-width="1.7" stroke-opacity="0.5" stroke-linecap="round"/><line x1="741.6" y1="1451.8" x2="748.3" y2="1451" stroke="#2a1e12" stroke-width="1.2" stroke-opacity="0.3" stroke-linecap="round"/><line x1="715.6" y1="1406.2" x2="715.4" y2="1400" stroke="#2a1e12" stroke-width="1.3" stroke-opacity="0.5" stroke-linecap="round"/><line x1="739.9" y1="1428.9" x2="743.2" y2="1425.2" stroke="#2a1e12" stroke-width="1.3" stroke-opacity="0.4" stroke-linecap="round"/><line x1="722.9" y1="1420.3" x2="724.1" y2="1412.7" stroke="#2a1e12" stroke-width="1.8" stroke-opacity="0.2" stroke-linecap="round"/><line x1="697.8" y1="1433.2" x2="690.3" y2="1424.7" stroke="#2a1e12" stroke-width="1.2" stroke-opacity="0.5" stroke-linecap="round"/><line x1="723" y1="1502.7" x2="723.8" y2="1509.8" stroke="#2a1e12" stroke-width="0.8" stroke-opacity="0.2" stroke-linecap="round"/><line x1="742.8" y1="1473.1" x2="753.2" y2="1480.4" stroke="#2a1e12" stroke-width="1.2" stroke-opacity="0.5" stroke-linecap="round"/><line x1="747.1" y1="1463.9" x2="754.9" y2="1466.2" stroke="#2a1e12" stroke-width="0.9" stroke-opacity="0.4" stroke-linecap="round"/><line x1="690.4" y1="1467.7" x2="680.5" y2="1472.4" stroke="#2a1e12" stroke-width="1.5" stroke-opacity="0.2" stroke-linecap="round"/><line x1="736.3" y1="1475.5" x2="740.7" y2="1480.2" stroke="#2a1e12" stroke-width="1.4" stroke-opacity="0.5" stroke-linecap="round"/><line x1="751.9" y1="1445.6" x2="756.2" y2="1444.4" stroke="#2a1e12" stroke-width="1.6" stroke-opacity="0.5" stroke-linecap="round"/><line x1="680.2" y1="1463.6" x2="671.8" y2="1465.6" stroke="#2a1e12" stroke-width="0.9" stroke-opacity="0.3" stroke-linecap="round"/><line x1="739" y1="1486.6" x2="745" y2="1495.2" stroke="#2a1e12" stroke-width="1.7" stroke-opacity="0.2" stroke-linecap="round"/><line x1="754" y1="1458.1" x2="759.6" y2="1458.5" stroke="#2a1e12" stroke-width="1.1" stroke-opacity="0.5" stroke-linecap="round"/><line x1="743.5" y1="1485.1" x2="751.9" y2="1494.7" stroke="#2a1e12" stroke-width="1.4" stroke-opacity="0.4" stroke-linecap="round"/><line x1="749" y1="1456.6" x2="757.6" y2="1457" stroke="#2a1e12" stroke-width="1.6" stroke-opacity="0.4" stroke-linecap="round"/><line x1="737.2" y1="1478.8" x2="744" y2="1486.8" stroke="#2a1e12" stroke-width="0.9" stroke-opacity="0.2" stroke-linecap="round"/><line x1="716.8" y1="1501.9" x2="716.8" y2="1512.7" stroke="#2a1e12" stroke-width="1.2" stroke-opacity="0.5" stroke-linecap="round"/><line x1="693.4" y1="1437.2" x2="686.2" y2="1431.8" stroke="#2a1e12" stroke-width="1.7" stroke-opacity="0.3" stroke-linecap="round"/><line x1="688" y1="1472.1" x2="677.2" y2="1478.5" stroke="#2a1e12" stroke-width="1.4" stroke-opacity="0.3" stroke-linecap="round"/><line x1="692.5" y1="1436.2" x2="686" y2="1431.3" stroke="#2a1e12" stroke-width="1.5" stroke-opacity="0.2" stroke-linecap="round"/><line x1="689" y1="1453.2" x2="680.5" y2="1452.6" stroke="#2a1e12" stroke-width="1.6" stroke-opacity="0.4" stroke-linecap="round"/><line x1="698" y1="1427.7" x2="694.2" y2="1422.2" stroke="#2a1e12" stroke-width="1.3" stroke-opacity="0.4" stroke-linecap="round"/><line x1="722.7" y1="1500.6" x2="724" y2="1510.8" stroke="#2a1e12" stroke-width="1.2" stroke-opacity="0.3" stroke-linecap="round"/><line x1="735.7" y1="1413.3" x2="741.6" y2="1400.1" stroke="#2a1e12" stroke-width="1" stroke-opacity="0.2" stroke-linecap="round"/><line x1="700.7" y1="1431" x2="693.4" y2="1420.3" stroke="#2a1e12" stroke-width="1.5" stroke-opacity="0.3" stroke-linecap="round"/><line x1="686.1" y1="1471.1" x2="681.7" y2="1473.4" stroke="#2a1e12" stroke-width="1.2" stroke-opacity="0.5" stroke-linecap="round"/><line x1="703.6" y1="1416" x2="701.8" y2="1410.8" stroke="#2a1e12" stroke-width="1" stroke-opacity="0.3" stroke-linecap="round"/><line x1="748.9" y1="1463.6" x2="757" y2="1465.8" stroke="#2a1e12" stroke-width="1.7" stroke-opacity="0.4" stroke-linecap="round"/><line x1="743.3" y1="1435" x2="750.1" y2="1429.8" stroke="#2a1e12" stroke-width="1.1" stroke-opacity="0.4" stroke-linecap="round"/><line x1="745.1" y1="1439.1" x2="748.2" y2="1437.3" stroke="#2a1e12" stroke-width="1.2" stroke-opacity="0.3" stroke-linecap="round"/><line x1="695.1" y1="1425.9" x2="689.8" y2="1418.8" stroke="#2a1e12" stroke-width="1.7" stroke-opacity="0.5" stroke-linecap="round"/><line x1="737.7" y1="1472.1" x2="745.6" y2="1478.7" stroke="#2a1e12" stroke-width="1.4" stroke-opacity="0.4" stroke-linecap="round"/><line x1="692.7" y1="1454.9" x2="685.5" y2="1454.9" stroke="#2a1e12" stroke-width="1.6" stroke-opacity="0.4" stroke-linecap="round"/><line x1="741.5" y1="1464.5" x2="752.2" y2="1468.6" stroke="#2a1e12" stroke-width="1.3" stroke-opacity="0.3" stroke-linecap="round"/><line x1="707.2" y1="1407.6" x2="704.3" y2="1393.6" stroke="#2a1e12" stroke-width="1.4" stroke-opacity="0.5" stroke-linecap="round"/><line x1="742.7" y1="1476.3" x2="751.4" y2="1483.6" stroke="#2a1e12" stroke-width="1.1" stroke-opacity="0.3" stroke-linecap="round"/><line x1="739.2" y1="1421.2" x2="741.5" y2="1417.7" stroke="#2a1e12" stroke-width="0.9" stroke-opacity="0.4" stroke-linecap="round"/><line x1="747.9" y1="1442.6" x2="758.3" y2="1438.4" stroke="#2a1e12" stroke-width="0.9" stroke-opacity="0.4" stroke-linecap="round"/><line x1="728.8" y1="1489.8" x2="730.7" y2="1495.6" stroke="#2a1e12" stroke-width="1.3" stroke-opacity="0.2" stroke-linecap="round"/><line x1="699" y1="1418.3" x2="692.8" y2="1405.8" stroke="#2a1e12" stroke-width="1.6" stroke-opacity="0.2" stroke-linecap="round"/><line x1="738.2" y1="1424" x2="745.9" y2="1412.8" stroke="#2a1e12" stroke-width="1.3" stroke-opacity="0.2" stroke-linecap="round"/><line x1="709.6" y1="1421.1" x2="706.2" y2="1405.8" stroke="#2a1e12" stroke-width="1.3" stroke-opacity="0.5" stroke-linecap="round"/><line x1="688.8" y1="1456.8" x2="679.8" y2="1457.4" stroke="#2a1e12" stroke-width="1.5" stroke-opacity="0.4" stroke-linecap="round"/><line x1="712.3" y1="1494.4" x2="710.8" y2="1507.1" stroke="#2a1e12" stroke-width="1" stroke-opacity="0.3" stroke-linecap="round"/><line x1="684.4" y1="1459.5" x2="680.5" y2="1460" stroke="#2a1e12" stroke-width="1.1" stroke-opacity="0.5" stroke-linecap="round"/><line x1="713.3" y1="1501.1" x2="712.7" y2="1509.2" stroke="#2a1e12" stroke-width="0.9" stroke-opacity="0.4" stroke-linecap="round"/><line x1="740.5" y1="1421" x2="743.1" y2="1417.2" stroke="#2a1e12" stroke-width="1.5" stroke-opacity="0.4" stroke-linecap="round"/><line x1="684.4" y1="1459.9" x2="676.6" y2="1461.1" stroke="#2a1e12" stroke-width="1" stroke-opacity="0.4" stroke-linecap="round"/><line x1="736.3" y1="1482.4" x2="743.7" y2="1492.9" stroke="#2a1e12" stroke-width="1.4" stroke-opacity="0.4" stroke-linecap="round"/><line x1="709.4" y1="1415" x2="707.8" y2="1406.3" stroke="#2a1e12" stroke-width="1.4" stroke-opacity="0.2" stroke-linecap="round"/><line x1="702.5" y1="1481.4" x2="695.4" y2="1494.3" stroke="#2a1e12" stroke-width="1.7" stroke-opacity="0.4" stroke-linecap="round"/>
<ellipse cx="717" cy="1455" rx="50" ry="62" fill="url(#sph4)"/>
<line x1="1122.3" y1="1489.1" x2="1125.9" y2="1494.6" stroke="#2a1e12" stroke-width="1.4" stroke-opacity="0.4" stroke-linecap="round"/><line x1="1083.6" y1="1446.6" x2="1078.5" y2="1442.7" stroke="#2a1e12" stroke-width="1.5" stroke-opacity="0.4" stroke-linecap="round"/><line x1="1107.3" y1="1434.3" x2="1107.6" y2="1428" stroke="#2a1e12" stroke-width="1.1" stroke-opacity="0.3" stroke-linecap="round"/><line x1="1132.8" y1="1478.1" x2="1141.8" y2="1482.8" stroke="#2a1e12" stroke-width="1.2" stroke-opacity="0.4" stroke-linecap="round"/><line x1="1119.8" y1="1451" x2="1125.1" y2="1446" stroke="#2a1e12" stroke-width="1.3" stroke-opacity="0.4" stroke-linecap="round"/><line x1="1084.4" y1="1464.4" x2="1078.4" y2="1464.5" stroke="#2a1e12" stroke-width="1.3" stroke-opacity="0.3" stroke-linecap="round"/><line x1="1134.3" y1="1452.3" x2="1146.1" y2="1447.4" stroke="#2a1e12" stroke-width="1" stroke-opacity="0.4" stroke-linecap="round"/><line x1="1124.3" y1="1478" x2="1128" y2="1480.9" stroke="#2a1e12" stroke-width="1.2" stroke-opacity="0.5" stroke-linecap="round"/><line x1="1107.8" y1="1441" x2="1108.3" y2="1434.5" stroke="#2a1e12" stroke-width="1.5" stroke-opacity="0.2" stroke-linecap="round"/><line x1="1122.9" y1="1439.2" x2="1125.5" y2="1435.4" stroke="#2a1e12" stroke-width="1.6" stroke-opacity="0.4" stroke-linecap="round"/><line x1="1087.6" y1="1479.4" x2="1080.4" y2="1485.5" stroke="#2a1e12" stroke-width="1.2" stroke-opacity="0.5" stroke-linecap="round"/><line x1="1123.9" y1="1450.2" x2="1127.1" y2="1447.7" stroke="#2a1e12" stroke-width="1.4" stroke-opacity="0.4" stroke-linecap="round"/><line x1="1095.3" y1="1448.3" x2="1092.7" y2="1444.4" stroke="#2a1e12" stroke-width="1.5" stroke-opacity="0.3" stroke-linecap="round"/><line x1="1074.8" y1="1469.4" x2="1069.2" y2="1470.4" stroke="#2a1e12" stroke-width="1.3" stroke-opacity="0.2" stroke-linecap="round"/><line x1="1079.7" y1="1453.4" x2="1074.7" y2="1451.3" stroke="#2a1e12" stroke-width="1.4" stroke-opacity="0.5" stroke-linecap="round"/><line x1="1119.4" y1="1438.2" x2="1125.1" y2="1427.1" stroke="#2a1e12" stroke-width="1.4" stroke-opacity="0.4" stroke-linecap="round"/><line x1="1119.2" y1="1437.9" x2="1123.5" y2="1429.2" stroke="#2a1e12" stroke-width="1.3" stroke-opacity="0.3" stroke-linecap="round"/><line x1="1094.1" y1="1483.2" x2="1087.9" y2="1493.1" stroke="#2a1e12" stroke-width="1.4" stroke-opacity="0.3" stroke-linecap="round"/><line x1="1124.8" y1="1463.3" x2="1129.4" y2="1463.1" stroke="#2a1e12" stroke-width="1.1" stroke-opacity="0.2" stroke-linecap="round"/><line x1="1127.9" y1="1456.9" x2="1135" y2="1454.6" stroke="#2a1e12" stroke-width="1.5" stroke-opacity="0.4" stroke-linecap="round"/><line x1="1089.5" y1="1446.3" x2="1084" y2="1440.4" stroke="#2a1e12" stroke-width="1.6" stroke-opacity="0.3" stroke-linecap="round"/><line x1="1081.6" y1="1460.1" x2="1076.4" y2="1459.2" stroke="#2a1e12" stroke-width="0.9" stroke-opacity="0.4" stroke-linecap="round"/><line x1="1113.2" y1="1441.1" x2="1114.6" y2="1436.7" stroke="#2a1e12" stroke-width="1.5" stroke-opacity="0.2" stroke-linecap="round"/><line x1="1119.9" y1="1451.6" x2="1127.3" y2="1445.1" stroke="#2a1e12" stroke-width="0.9" stroke-opacity="0.3" stroke-linecap="round"/><line x1="1080.8" y1="1477.5" x2="1073.9" y2="1481.3" stroke="#2a1e12" stroke-width="1.1" stroke-opacity="0.3" stroke-linecap="round"/><line x1="1084.3" y1="1461.1" x2="1071.8" y2="1459.5" stroke="#2a1e12" stroke-width="1" stroke-opacity="0.2" stroke-linecap="round"/><line x1="1084.1" y1="1457.1" x2="1074.1" y2="1454" stroke="#2a1e12" stroke-width="0.8" stroke-opacity="0.4" stroke-linecap="round"/><line x1="1085.6" y1="1487.3" x2="1081.2" y2="1492.4" stroke="#2a1e12" stroke-width="1.1" stroke-opacity="0.3" stroke-linecap="round"/><line x1="1084.5" y1="1459.4" x2="1074.7" y2="1457.3" stroke="#2a1e12" stroke-width="1.1" stroke-opacity="0.4" stroke-linecap="round"/><line x1="1099.7" y1="1487.6" x2="1097.4" y2="1496.3" stroke="#2a1e12" stroke-width="1.4" stroke-opacity="0.4" stroke-linecap="round"/><line x1="1088.7" y1="1472.3" x2="1084.2" y2="1474.4" stroke="#2a1e12" stroke-width="0.9" stroke-opacity="0.3" stroke-linecap="round"/><line x1="1117.1" y1="1488.9" x2="1120" y2="1495.4" stroke="#2a1e12" stroke-width="1.5" stroke-opacity="0.3" stroke-linecap="round"/><line x1="1106.5" y1="1484.6" x2="1106.7" y2="1489.9" stroke="#2a1e12" stroke-width="1.3" stroke-opacity="0.4" stroke-linecap="round"/><line x1="1105.8" y1="1493.3" x2="1105.7" y2="1503.4" stroke="#2a1e12" stroke-width="1.1" stroke-opacity="0.4" stroke-linecap="round"/><line x1="1092.6" y1="1443.9" x2="1089.9" y2="1439.9" stroke="#2a1e12" stroke-width="1.1" stroke-opacity="0.5" stroke-linecap="round"/><line x1="1087.1" y1="1483.2" x2="1083.8" y2="1486.7" stroke="#2a1e12" stroke-width="1.4" stroke-opacity="0.5" stroke-linecap="round"/><line x1="1089.8" y1="1480.6" x2="1083.8" y2="1486.8" stroke="#2a1e12" stroke-width="1" stroke-opacity="0.3" stroke-linecap="round"/><line x1="1125.1" y1="1484" x2="1131" y2="1490.2" stroke="#2a1e12" stroke-width="1.6" stroke-opacity="0.5" stroke-linecap="round"/><line x1="1128" y1="1441.8" x2="1136.1" y2="1433.6" stroke="#2a1e12" stroke-width="0.8" stroke-opacity="0.2" stroke-linecap="round"/><line x1="1135.9" y1="1459.4" x2="1145.3" y2="1458" stroke="#2a1e12" stroke-width="1.3" stroke-opacity="0.4" stroke-linecap="round"/><line x1="1088.2" y1="1473.1" x2="1080.2" y2="1477.2" stroke="#2a1e12" stroke-width="1" stroke-opacity="0.2" stroke-linecap="round"/><line x1="1123.9" y1="1445.1" x2="1132" y2="1436.4" stroke="#2a1e12" stroke-width="1" stroke-opacity="0.4" stroke-linecap="round"/><line x1="1101" y1="1493.2" x2="1100" y2="1499" stroke="#2a1e12" stroke-width="1.3" stroke-opacity="0.4" stroke-linecap="round"/><line x1="1097.3" y1="1481" x2="1093.4" y2="1488.5" stroke="#2a1e12" stroke-width="1.2" stroke-opacity="0.5" stroke-linecap="round"/><line x1="1112" y1="1483.7" x2="1113.9" y2="1490.2" stroke="#2a1e12" stroke-width="1.4" stroke-opacity="0.3" stroke-linecap="round"/><line x1="1093.7" y1="1450.2" x2="1090.6" y2="1446.7" stroke="#2a1e12" stroke-width="1.4" stroke-opacity="0.4" stroke-linecap="round"/><line x1="1124.7" y1="1480" x2="1134.2" y2="1488.1" stroke="#2a1e12" stroke-width="1.1" stroke-opacity="0.4" stroke-linecap="round"/><line x1="1084" y1="1476" x2="1080.2" y2="1478.1" stroke="#2a1e12" stroke-width="1.5" stroke-opacity="0.4" stroke-linecap="round"/><line x1="1093.4" y1="1482" x2="1090.1" y2="1486.7" stroke="#2a1e12" stroke-width="1.5" stroke-opacity="0.5" stroke-linecap="round"/><line x1="1086.9" y1="1482.3" x2="1080.4" y2="1488.5" stroke="#2a1e12" stroke-width="1" stroke-opacity="0.2" stroke-linecap="round"/><line x1="1104.1" y1="1443.8" x2="1103.3" y2="1434.8" stroke="#2a1e12" stroke-width="0.8" stroke-opacity="0.2" stroke-linecap="round"/><line x1="1119.9" y1="1487.3" x2="1124.8" y2="1495.5" stroke="#2a1e12" stroke-width="1.6" stroke-opacity="0.4" stroke-linecap="round"/><line x1="1088" y1="1461.5" x2="1075.5" y2="1459.7" stroke="#2a1e12" stroke-width="1.2" stroke-opacity="0.5" stroke-linecap="round"/><line x1="1134.7" y1="1471.7" x2="1142.7" y2="1473.9" stroke="#2a1e12" stroke-width="1" stroke-opacity="0.3" stroke-linecap="round"/><line x1="1129.3" y1="1475.9" x2="1134.6" y2="1478.6" stroke="#2a1e12" stroke-width="1.4" stroke-opacity="0.3" stroke-linecap="round"/><line x1="1096.2" y1="1439.2" x2="1092.3" y2="1429.6" stroke="#2a1e12" stroke-width="1.6" stroke-opacity="0.3" stroke-linecap="round"/><line x1="1096.4" y1="1442.5" x2="1091.4" y2="1431.5" stroke="#2a1e12" stroke-width="1.5" stroke-opacity="0.5" stroke-linecap="round"/><line x1="1088.5" y1="1451.3" x2="1078.6" y2="1444.1" stroke="#2a1e12" stroke-width="1.6" stroke-opacity="0.5" stroke-linecap="round"/><line x1="1090.5" y1="1489.1" x2="1085.2" y2="1497.7" stroke="#2a1e12" stroke-width="1.5" stroke-opacity="0.5" stroke-linecap="round"/><line x1="1083.4" y1="1470.6" x2="1072.7" y2="1473.8" stroke="#2a1e12" stroke-width="1.3" stroke-opacity="0.4" stroke-linecap="round"/><line x1="1118.9" y1="1450.9" x2="1121.8" y2="1447.9" stroke="#2a1e12" stroke-width="1.2" stroke-opacity="0.2" stroke-linecap="round"/><line x1="1116.5" y1="1447.9" x2="1123.1" y2="1437.9" stroke="#2a1e12" stroke-width="1" stroke-opacity="0.2" stroke-linecap="round"/><line x1="1106.6" y1="1436.5" x2="1106.8" y2="1428.8" stroke="#2a1e12" stroke-width="1.3" stroke-opacity="0.4" stroke-linecap="round"/><line x1="1129.8" y1="1456" x2="1138.2" y2="1453.2" stroke="#2a1e12" stroke-width="1.2" stroke-opacity="0.3" stroke-linecap="round"/><line x1="1098.8" y1="1445.8" x2="1095" y2="1436.3" stroke="#2a1e12" stroke-width="1.5" stroke-opacity="0.5" stroke-linecap="round"/><line x1="1083.9" y1="1457.9" x2="1079.2" y2="1456.6" stroke="#2a1e12" stroke-width="0.9" stroke-opacity="0.4" stroke-linecap="round"/><line x1="1128" y1="1443.4" x2="1132.1" y2="1439.5" stroke="#2a1e12" stroke-width="1.4" stroke-opacity="0.5" stroke-linecap="round"/><line x1="1076.2" y1="1467.8" x2="1070.6" y2="1468.5" stroke="#2a1e12" stroke-width="1.1" stroke-opacity="0.4" stroke-linecap="round"/><line x1="1102.5" y1="1440" x2="1101.5" y2="1433.3" stroke="#2a1e12" stroke-width="1.5" stroke-opacity="0.3" stroke-linecap="round"/><line x1="1087.5" y1="1474.2" x2="1080.2" y2="1478.3" stroke="#2a1e12" stroke-width="1.4" stroke-opacity="0.3" stroke-linecap="round"/><line x1="1092.9" y1="1442.8" x2="1090.8" y2="1439.3" stroke="#2a1e12" stroke-width="1.6" stroke-opacity="0.3" stroke-linecap="round"/><line x1="1075.9" y1="1455.1" x2="1070.2" y2="1453.4" stroke="#2a1e12" stroke-width="0.9" stroke-opacity="0.3" stroke-linecap="round"/><line x1="1123.1" y1="1488.5" x2="1128.1" y2="1495.6" stroke="#2a1e12" stroke-width="0.8" stroke-opacity="0.3" stroke-linecap="round"/><line x1="1085.6" y1="1462.6" x2="1078.9" y2="1462.1" stroke="#2a1e12" stroke-width="1.5" stroke-opacity="0.4" stroke-linecap="round"/><line x1="1108.8" y1="1490.2" x2="1109.3" y2="1495.2" stroke="#2a1e12" stroke-width="1.2" stroke-opacity="0.4" stroke-linecap="round"/><line x1="1127.8" y1="1477.6" x2="1133.5" y2="1481.2" stroke="#2a1e12" stroke-width="1.4" stroke-opacity="0.4" stroke-linecap="round"/><line x1="1128.3" y1="1449.7" x2="1133.1" y2="1446.7" stroke="#2a1e12" stroke-width="0.9" stroke-opacity="0.4" stroke-linecap="round"/><line x1="1113" y1="1446.5" x2="1115.9" y2="1439.3" stroke="#2a1e12" stroke-width="1" stroke-opacity="0.4" stroke-linecap="round"/><line x1="1124" y1="1445.4" x2="1131.4" y2="1437.8" stroke="#2a1e12" stroke-width="1.4" stroke-opacity="0.3" stroke-linecap="round"/><line x1="1088.9" y1="1448.2" x2="1082.8" y2="1442.6" stroke="#2a1e12" stroke-width="1.2" stroke-opacity="0.4" stroke-linecap="round"/><line x1="1120.6" y1="1489.9" x2="1123.3" y2="1494.7" stroke="#2a1e12" stroke-width="1.1" stroke-opacity="0.5" stroke-linecap="round"/><line x1="1129" y1="1461.9" x2="1141.5" y2="1460.7" stroke="#2a1e12" stroke-width="0.8" stroke-opacity="0.5" stroke-linecap="round"/><line x1="1111.6" y1="1481.6" x2="1114.9" y2="1492" stroke="#2a1e12" stroke-width="0.9" stroke-opacity="0.5" stroke-linecap="round"/><line x1="1125.7" y1="1464.9" x2="1132.9" y2="1465.2" stroke="#2a1e12" stroke-width="0.9" stroke-opacity="0.4" stroke-linecap="round"/><line x1="1089.9" y1="1487.3" x2="1085.1" y2="1494.3" stroke="#2a1e12" stroke-width="1.6" stroke-opacity="0.5" stroke-linecap="round"/><line x1="1120.7" y1="1491.1" x2="1126.4" y2="1501.7" stroke="#2a1e12" stroke-width="1.3" stroke-opacity="0.4" stroke-linecap="round"/><line x1="1116.8" y1="1483.7" x2="1119.7" y2="1488.9" stroke="#2a1e12" stroke-width="1" stroke-opacity="0.4" stroke-linecap="round"/><line x1="1093" y1="1489.7" x2="1088.9" y2="1497.8" stroke="#2a1e12" stroke-width="1.5" stroke-opacity="0.2" stroke-linecap="round"/><line x1="1120.4" y1="1443.4" x2="1125.9" y2="1435.5" stroke="#2a1e12" stroke-width="1" stroke-opacity="0.4" stroke-linecap="round"/><line x1="1082.7" y1="1479.6" x2="1075" y2="1484.8" stroke="#2a1e12" stroke-width="0.9" stroke-opacity="0.3" stroke-linecap="round"/><line x1="1106.2" y1="1445.8" x2="1106.3" y2="1436.1" stroke="#2a1e12" stroke-width="1.2" stroke-opacity="0.5" stroke-linecap="round"/><line x1="1094.3" y1="1485.7" x2="1090.3" y2="1493" stroke="#2a1e12" stroke-width="1.4" stroke-opacity="0.2" stroke-linecap="round"/><line x1="1084.4" y1="1462.6" x2="1075.1" y2="1462" stroke="#2a1e12" stroke-width="1" stroke-opacity="0.3" stroke-linecap="round"/><line x1="1109.5" y1="1494.3" x2="1110.4" y2="1501.5" stroke="#2a1e12" stroke-width="1.5" stroke-opacity="0.5" stroke-linecap="round"/><line x1="1103" y1="1489.6" x2="1102.5" y2="1493.6" stroke="#2a1e12" stroke-width="1.5" stroke-opacity="0.4" stroke-linecap="round"/><line x1="1125.2" y1="1480.4" x2="1131.6" y2="1485.9" stroke="#2a1e12" stroke-width="1.3" stroke-opacity="0.3" stroke-linecap="round"/><line x1="1128.5" y1="1449.7" x2="1132.5" y2="1447.2" stroke="#2a1e12" stroke-width="1.5" stroke-opacity="0.5" stroke-linecap="round"/><line x1="1096.6" y1="1490.3" x2="1092.7" y2="1501.4" stroke="#2a1e12" stroke-width="1.5" stroke-opacity="0.2" stroke-linecap="round"/><line x1="1117.1" y1="1445.6" x2="1123" y2="1436.1" stroke="#2a1e12" stroke-width="1.3" stroke-opacity="0.4" stroke-linecap="round"/><line x1="1129.9" y1="1447.1" x2="1140.4" y2="1439.6" stroke="#2a1e12" stroke-width="1.6" stroke-opacity="0.4" stroke-linecap="round"/><line x1="1103.4" y1="1436.7" x2="1102.7" y2="1429.2" stroke="#2a1e12" stroke-width="1.2" stroke-opacity="0.4" stroke-linecap="round"/><line x1="1110.6" y1="1485.2" x2="1113.1" y2="1496.5" stroke="#2a1e12" stroke-width="1.5" stroke-opacity="0.4" stroke-linecap="round"/><line x1="1096.5" y1="1440.7" x2="1093.1" y2="1432.2" stroke="#2a1e12" stroke-width="1.3" stroke-opacity="0.2" stroke-linecap="round"/><line x1="1076.4" y1="1474.9" x2="1070.9" y2="1477" stroke="#2a1e12" stroke-width="1.2" stroke-opacity="0.2" stroke-linecap="round"/><line x1="1105.1" y1="1493.5" x2="1104.9" y2="1497.8" stroke="#2a1e12" stroke-width="1.4" stroke-opacity="0.5" stroke-linecap="round"/><line x1="1120.6" y1="1448.1" x2="1129" y2="1439" stroke="#2a1e12" stroke-width="1.1" stroke-opacity="0.4" stroke-linecap="round"/><line x1="1130.4" y1="1456.2" x2="1140.1" y2="1453.1" stroke="#2a1e12" stroke-width="0.9" stroke-opacity="0.2" stroke-linecap="round"/><line x1="1104.2" y1="1483.4" x2="1103.2" y2="1494.8" stroke="#2a1e12" stroke-width="1" stroke-opacity="0.5" stroke-linecap="round"/><line x1="1097" y1="1445.4" x2="1092.5" y2="1436" stroke="#2a1e12" stroke-width="1.1" stroke-opacity="0.4" stroke-linecap="round"/><line x1="1132.3" y1="1477.6" x2="1142.2" y2="1482.7" stroke="#2a1e12" stroke-width="1.3" stroke-opacity="0.4" stroke-linecap="round"/>
<circle cx="1106" cy="1464" r="40" fill="url(#sph4)"/>
<circle cx="1087.3" cy="1549.2" r="1.2" fill="#4a3e30" fill-opacity="0.6"/><circle cx="1094.6" cy="1550.1" r="1.4" fill="#3a2e22" fill-opacity="0.6"/><circle cx="1098.5" cy="1552.6" r="1.1" fill="#3a2e22" fill-opacity="0.5"/><circle cx="1089.4" cy="1532.1" r="1.7" fill="#3a2e22" fill-opacity="0.6"/><circle cx="1079.5" cy="1554" r="1.1" fill="#4a3e30" fill-opacity="0.7"/><circle cx="1098.3" cy="1534" r="1.9" fill="#3a2e22" fill-opacity="0.5"/><circle cx="1101.9" cy="1544.3" r="1.4" fill="#3a2e22" fill-opacity="0.5"/><circle cx="1081.9" cy="1553.7" r="1.2" fill="#3a2e22" fill-opacity="0.4"/><circle cx="1097.7" cy="1537.8" r="1.9" fill="#4a3e30" fill-opacity="0.6"/><circle cx="1079.6" cy="1542.5" r="1.9" fill="#4a3e30" fill-opacity="0.5"/><circle cx="1099" cy="1538.4" r="1.4" fill="#3a2e22" fill-opacity="0.8"/><circle cx="1095.9" cy="1551" r="1.9" fill="#4a3e30" fill-opacity="0.8"/><circle cx="1088.8" cy="1548.4" r="1.1" fill="#3a2e22" fill-opacity="0.6"/><circle cx="1095.7" cy="1536.1" r="1.7" fill="#3a2e22" fill-opacity="0.6"/><circle cx="1094.6" cy="1542.6" r="1.6" fill="#3a2e22" fill-opacity="0.6"/><circle cx="1083.2" cy="1545.3" r="1.5" fill="#3a2e22" fill-opacity="0.7"/><circle cx="1092.6" cy="1546.5" r="1.9" fill="#3a2e22" fill-opacity="0.5"/><circle cx="1094.4" cy="1534.1" r="1.5" fill="#4a3e30" fill-opacity="0.7"/><circle cx="1096.9" cy="1554.1" r="1.6" fill="#3a2e22" fill-opacity="0.6"/><circle cx="1098.5" cy="1543.1" r="2" fill="#3a2e22" fill-opacity="0.4"/><circle cx="1099.3" cy="1536.9" r="1.4" fill="#4a3e30" fill-opacity="0.7"/><circle cx="1083.2" cy="1542.7" r="1.1" fill="#3a2e22" fill-opacity="0.6"/><circle cx="1081.1" cy="1552.2" r="1.8" fill="#3a2e22" fill-opacity="0.5"/><circle cx="1079.3" cy="1544.4" r="1.5" fill="#4a3e30" fill-opacity="0.8"/><circle cx="1099.1" cy="1542.4" r="0.8" fill="#3a2e22" fill-opacity="0.7"/>
<circle cx="1133.2" cy="1370.4" r="1" fill="#4a3e30" fill-opacity="0.5"/><circle cx="1137.6" cy="1376.8" r="1.2" fill="#3a2e22" fill-opacity="0.7"/><circle cx="1128.1" cy="1375" r="1.5" fill="#3a2e22" fill-opacity="0.7"/><circle cx="1132.1" cy="1376.4" r="1.2" fill="#3a2e22" fill-opacity="0.7"/><circle cx="1133.1" cy="1373.7" r="1.4" fill="#4a3e30" fill-opacity="0.6"/><circle cx="1128.2" cy="1375.3" r="1.1" fill="#4a3e30" fill-opacity="0.8"/><circle cx="1135.5" cy="1369.9" r="1.1" fill="#3a2e22" fill-opacity="0.4"/><circle cx="1130.3" cy="1376.4" r="1.3" fill="#4a3e30" fill-opacity="0.5"/><circle cx="1130.6" cy="1369.4" r="1" fill="#3a2e22" fill-opacity="0.5"/><circle cx="1145.9" cy="1372.7" r="1.4" fill="#4a3e30" fill-opacity="0.8"/><circle cx="1135" cy="1375.2" r="0.8" fill="#3a2e22" fill-opacity="0.6"/><circle cx="1141.1" cy="1372.8" r="1.1" fill="#3a2e22" fill-opacity="0.6"/><circle cx="1128.5" cy="1368.5" r="1" fill="#3a2e22" fill-opacity="0.5"/><circle cx="1135.1" cy="1373" r="1.2" fill="#3a2e22" fill-opacity="0.5"/><circle cx="1136.4" cy="1371.2" r="1.6" fill="#3a2e22" fill-opacity="0.5"/>
<circle cx="930.5" cy="1554.3" r="0.9" fill="#5a5050" fill-opacity="0.5"/><circle cx="920.9" cy="1563.7" r="0.8" fill="#5a5050" fill-opacity="0.5"/><circle cx="923.5" cy="1556.8" r="0.9" fill="#6a6060" fill-opacity="0.5"/><circle cx="925.5" cy="1550.6" r="1.1" fill="#6a6060" fill-opacity="0.5"/><circle cx="923.6" cy="1551.8" r="0.9" fill="#6a6060" fill-opacity="0.5"/><circle cx="924.3" cy="1551" r="1.3" fill="#6a6060" fill-opacity="0.4"/><circle cx="935.8" cy="1557.1" r="1.5" fill="#6a6060" fill-opacity="0.3"/><circle cx="928.2" cy="1547.8" r="1.7" fill="#6a6060" fill-opacity="0.5"/><circle cx="935.1" cy="1551.4" r="1.3" fill="#5a5050" fill-opacity="0.6"/><circle cx="928.7" cy="1561.5" r="1" fill="#5a5050" fill-opacity="0.3"/><circle cx="932.9" cy="1548.1" r="1" fill="#5a5050" fill-opacity="0.4"/><circle cx="920.9" cy="1554.7" r="1" fill="#6a6060" fill-opacity="0.5"/><circle cx="920.6" cy="1557.7" r="1.8" fill="#5a5050" fill-opacity="0.5"/><circle cx="922.3" cy="1557.8" r="1.4" fill="#5a5050" fill-opacity="0.6"/><circle cx="923.2" cy="1558.6" r="1.4" fill="#6a6060" fill-opacity="0.5"/>
</g></g>
<ellipse cx="450.3" cy="1068" rx="80.5" ry="83" fill="none" stroke="#fff" stroke-width="3.4" stroke-dasharray="14,7.5"/>
<ellipse cx="900.7" cy="1014.8" rx="64.7" ry="65.5" fill="none" stroke="#fff" stroke-width="3.4" stroke-dasharray="14,7.5"/>
<ellipse cx="378.4" cy="1455.7" rx="70" ry="68.8" fill="none" stroke="#fff" stroke-width="3.4" stroke-dasharray="14,7.5"/>
<ellipse cx="903" cy="1349" rx="105.4" ry="91.8" fill="none" stroke="#fff" stroke-width="3.4" stroke-dasharray="14,7.5"/>
<text x="2" y="40.5" font-family="'Liberation Sans', Arial, sans-serif" font-size="50" font-weight="bold" text-anchor="start" fill="#000" >A</text>
<text x="1628" y="40.5" font-family="'Liberation Sans', Arial, sans-serif" font-size="50" font-weight="bold" text-anchor="start" fill="#000" >B</text>
<text x="1" y="888.5" font-family="'Liberation Sans', Arial, sans-serif" font-size="50" font-weight="bold" text-anchor="start" fill="#000" >C</text>
<text x="1627" y="889" font-family="'Liberation Sans', Arial, sans-serif" font-size="50" font-weight="bold" text-anchor="start" fill="#000" >D</text>
<line x1="117" y1="107" x2="117" y2="483.7" stroke="#000" stroke-width="3.4" stroke-linecap="round"/>
<line x1="104" y1="482" x2="750" y2="482" stroke="#000" stroke-width="3.4" />
<line x1="104" y1="169" x2="117" y2="169" stroke="#000" stroke-width="3.4" />
<text x="0" y="0" transform="translate(100.5,178.6) scale(1.05,1)" font-family="'Liberation Sans', Arial, sans-serif" font-size="29.5" font-weight="normal" text-anchor="end" fill="#000" stroke="#000" stroke-width="1.5" stroke-linejoin="round" >1.0</text>
<line x1="104" y1="325.2" x2="117" y2="325.2" stroke="#000" stroke-width="3.4" />
<text x="0" y="0" transform="translate(100.5,334.8) scale(1.05,1)" font-family="'Liberation Sans', Arial, sans-serif" font-size="29.5" font-weight="normal" text-anchor="end" fill="#000" stroke="#000" stroke-width="1.5" stroke-linejoin="round" >0.5</text>
<line x1="104" y1="481.5" x2="117" y2="481.5" stroke="#000" stroke-width="3.4" />
<text x="0" y="0" transform="translate(100.5,491.1) scale(1.05,1)" font-family="'Liberation Sans', Arial, sans-serif" font-size="29.5" font-weight="normal" text-anchor="end" fill="#000" stroke="#000" stroke-width="1.5" stroke-linejoin="round" >0.0</text>
<line x1="196.75" y1="156.6" x2="196.75" y2="165" stroke="#000" stroke-width="2.8" />
<line x1="171.25" y1="156.6" x2="222.25" y2="156.6" stroke="#000" stroke-width="2.8" />
<path d="M143,482 V166 Q143,163 146,163 H247.5 Q250.5,163 250.5,166 V482 Z" fill="#000"/>
<line x1="196.75" y1="482" x2="196.75" y2="493" stroke="#000" stroke-width="3.4" />
<line x1="354.55" y1="253.5" x2="354.55" y2="262.4" stroke="#000" stroke-width="2.8" />
<line x1="329.05" y1="253.5" x2="380.05" y2="253.5" stroke="#000" stroke-width="2.8" />
<path d="M300.6,482 V263.4 Q300.6,260.4 303.6,260.4 H405.5 Q408.5,260.4 408.5,263.4 V482 Z" fill="#000"/>
<line x1="354.55" y1="482" x2="354.55" y2="493" stroke="#000" stroke-width="3.4" />
<line x1="512.45" y1="434" x2="512.45" y2="438.5" stroke="#000" stroke-width="2.8" />
<line x1="486.95" y1="434" x2="537.95" y2="434" stroke="#000" stroke-width="2.8" />
<path d="M458.4,482 V439.5 Q458.4,436.5 461.4,436.5 H563.5 Q566.5,436.5 566.5,439.5 V482 Z" fill="#000"/>
<line x1="512.45" y1="482" x2="512.45" y2="493" stroke="#000" stroke-width="3.4" />
<line x1="670.3" y1="310.4" x2="670.3" y2="318.3" stroke="#000" stroke-width="2.8" />
<line x1="644.8" y1="310.4" x2="695.8" y2="310.4" stroke="#000" stroke-width="2.8" />
<path d="M616,482 V319.3 Q616,316.3 619,316.3 H721.6 Q724.6,316.3 724.6,319.3 V482 Z" fill="#000"/>
<line x1="670.3" y1="482" x2="670.3" y2="493" stroke="#000" stroke-width="3.4" />
<path d="M182.5,104.7 V97.7 Q182.5,94.7 185.5,94.7 H662 Q665,94.7 665,97.7 V104.7" fill="none" stroke="#000" stroke-width="3" stroke-linecap="round" stroke-linejoin="round"/>
<path d="M186.5,126.2 V120.2 Q186.5,117.2 189.5,117.2 H505.7 Q508.7,117.2 508.7,120.2 V126.2" fill="none" stroke="#000" stroke-width="3" stroke-linecap="round" stroke-linejoin="round"/>
<path d="M186.5,145.4 V138.9 Q186.5,135.9 189.5,135.9 H346.5 Q349.5,135.9 349.5,138.9 V145.4" fill="none" stroke="#000" stroke-width="3" stroke-linecap="round" stroke-linejoin="round"/>
<text x="0" y="0" transform="translate(413,88.6) scale(1.15,1)" font-family="'DejaVu Sans', sans-serif" font-size="15.5" font-weight="normal" text-anchor="middle" fill="#000" letter-spacing="0" stroke="#000" stroke-width="0.8" stroke-linejoin="round" >★★★</text>
<text x="0" y="0" transform="translate(362.5,113.8) scale(1.15,1)" font-family="'DejaVu Sans', sans-serif" font-size="15.5" font-weight="normal" text-anchor="middle" fill="#000" letter-spacing="0" stroke="#000" stroke-width="0.8" stroke-linejoin="round" >★★★</text>
<text x="0" y="0" transform="translate(276.3,131) scale(1.15,1)" font-family="'DejaVu Sans', sans-serif" font-size="15.5" font-weight="normal" text-anchor="middle" fill="#000" letter-spacing="0" stroke="#000" stroke-width="0.8" stroke-linejoin="round" >★★★</text>
<text x="0" y="0" transform="translate(33.5,318) scale(1.1,1) rotate(-90)" font-family="'Liberation Sans', Arial, sans-serif" font-size="32.8" font-weight="normal" text-anchor="middle" fill="#000" stroke="#000" stroke-width="1.5" stroke-linejoin="round" >IL-8 mRNA expression fold</text>
<text x="0" y="0" transform="translate(208.7,521) scale(1.15,1) rotate(-45)" font-family="'Liberation Sans', Arial, sans-serif" font-size="29" font-weight="normal" text-anchor="end" fill="#000" stroke="#000" stroke-width="1.7" stroke-linejoin="round" >HEY<tspan dx="2">-A8 scr</tspan></text>
<text x="0" y="0" transform="translate(366.5,521) scale(1.15,1) rotate(-45)" font-family="'Liberation Sans', Arial, sans-serif" font-size="29" font-weight="normal" text-anchor="end" fill="#000" stroke="#000" stroke-width="1.7" stroke-linejoin="round" >HEY<tspan dx="2">-A8 IL-8ia</tspan></text>
<text x="0" y="0" transform="translate(524.5,521) scale(1.15,1) rotate(-45)" font-family="'Liberation Sans', Arial, sans-serif" font-size="29" font-weight="normal" text-anchor="end" fill="#000" stroke="#000" stroke-width="1.7" stroke-linejoin="round" >HEY<tspan dx="2">-A8 IL-8ib</tspan></text>
<text x="0" y="0" transform="translate(682.3,521) scale(1.15,1) rotate(-45)" font-family="'Liberation Sans', Arial, sans-serif" font-size="29" font-weight="normal" text-anchor="end" fill="#000" stroke="#000" stroke-width="1.7" stroke-linejoin="round" >HEY<tspan dx="2">-A8 IL-8ic</tspan></text>
<line x1="897.5" y1="130" x2="897.5" y2="489.7" stroke="#000" stroke-width="3.4" />
<line x1="885.5" y1="487.7" x2="897.5" y2="487.7" stroke="#000" stroke-width="3.4" />
<text x="0" y="0" transform="translate(880.5,497.3) scale(1.05,1)" font-family="'Liberation Sans', Arial, sans-serif" font-size="28" font-weight="normal" text-anchor="end" fill="#000" stroke="#000" stroke-width="1.5" stroke-linejoin="round" >0</text>
<line x1="885.5" y1="416.25" x2="897.5" y2="416.25" stroke="#000" stroke-width="3.4" />
<text x="0" y="0" transform="translate(880.5,425.85) scale(1.05,1)" font-family="'Liberation Sans', Arial, sans-serif" font-size="28" font-weight="normal" text-anchor="end" fill="#000" stroke="#000" stroke-width="1.5" stroke-linejoin="round" >100</text>
<line x1="885.5" y1="344.8" x2="897.5" y2="344.8" stroke="#000" stroke-width="3.4" />
<text x="0" y="0" transform="translate(880.5,354.4) scale(1.05,1)" font-family="'Liberation Sans', Arial, sans-serif" font-size="28" font-weight="normal" text-anchor="end" fill="#000" stroke="#000" stroke-width="1.5" stroke-linejoin="round" >200</text>
<line x1="885.5" y1="273.35" x2="897.5" y2="273.35" stroke="#000" stroke-width="3.4" />
<text x="0" y="0" transform="translate(880.5,282.95) scale(1.05,1)" font-family="'Liberation Sans', Arial, sans-serif" font-size="28" font-weight="normal" text-anchor="end" fill="#000" stroke="#000" stroke-width="1.5" stroke-linejoin="round" >300</text>
<line x1="885.5" y1="201.9" x2="897.5" y2="201.9" stroke="#000" stroke-width="3.4" />
<text x="0" y="0" transform="translate(880.5,211.5) scale(1.05,1)" font-family="'Liberation Sans', Arial, sans-serif" font-size="28" font-weight="normal" text-anchor="end" fill="#000" stroke="#000" stroke-width="1.5" stroke-linejoin="round" >400</text>
<line x1="885.5" y1="130.45" x2="897.5" y2="130.45" stroke="#000" stroke-width="3.4" />
<text x="0" y="0" transform="translate(880.5,140.05) scale(1.05,1)" font-family="'Liberation Sans', Arial, sans-serif" font-size="28" font-weight="normal" text-anchor="end" fill="#000" stroke="#000" stroke-width="1.5" stroke-linejoin="round" >500</text>
<line x1="885.5" y1="488" x2="1516" y2="488" stroke="#000" stroke-width="3.4" />
<rect x="950.5" y="485.5" width="206.3" height="2.5" fill="#000" />
<line x1="1362.15" y1="204.4" x2="1362.15" y2="220.3" stroke="#000" stroke-width="2.8" />
<line x1="1310.15" y1="204.4" x2="1414.15" y2="204.4" stroke="#000" stroke-width="2.8" />
<path d="M1256,488 V221.3 Q1256,218.3 1259,218.3 H1465.3 Q1468.3,218.3 1468.3,221.3 V488 Z" fill="#000"/>
<line x1="1053" y1="488" x2="1053" y2="499" stroke="#000" stroke-width="3.4" />
<line x1="1362" y1="488" x2="1362" y2="499" stroke="#000" stroke-width="3.4" />
<path d="M1011.5,195.5 V190 Q1011.5,187 1014.5,187 H1363.7 Q1366.7,187 1366.7,190 V195.5" fill="none" stroke="#000" stroke-width="3" stroke-linecap="round" stroke-linejoin="round"/>
<text x="0" y="0" transform="translate(1178,176.8) scale(1.15,1)" font-family="'DejaVu Sans', sans-serif" font-size="15.5" font-weight="normal" text-anchor="middle" fill="#000" letter-spacing="0" stroke="#000" stroke-width="0.8" stroke-linejoin="round" >★★★</text>
<text x="0" y="0" transform="translate(822,318) scale(1.1,1) rotate(-90)" font-family="'Liberation Sans', Arial, sans-serif" font-size="32.3" font-weight="normal" text-anchor="middle" fill="#000" stroke="#000" stroke-width="1.5" stroke-linejoin="round" >IL-8 mRNA expression fold</text>
<text x="0" y="0" transform="translate(1078,548) scale(1.15,1) rotate(-45)" font-family="'Liberation Sans', Arial, sans-serif" font-size="29" font-weight="normal" text-anchor="end" fill="#000" stroke="#000" stroke-width="1.7" stroke-linejoin="round" >HEY<tspan dx="2">-A8 V</tspan></text>
<text x="0" y="0" transform="translate(1378,545) scale(1.15,1) rotate(-45)" font-family="'Liberation Sans', Arial, sans-serif" font-size="29" font-weight="normal" text-anchor="end" fill="#000" stroke="#000" stroke-width="1.7" stroke-linejoin="round" >HEY<tspan dx="2">-A8 IL-8</tspan></text>
<line x1="1812" y1="19.6" x2="1812" y2="496.5" stroke="#000" stroke-width="3.4" />
<line x1="1798" y1="494.8" x2="1812" y2="494.8" stroke="#000" stroke-width="3.4" />
<text x="1794.5" y="506.8" font-family="'Liberation Sans', Arial, sans-serif" font-size="33.5" font-weight="normal" text-anchor="end" fill="#000" stroke="#000" stroke-width="1.1" stroke-linejoin="round" >0</text>
<line x1="1798" y1="376.4" x2="1812" y2="376.4" stroke="#000" stroke-width="3.4" />
<text x="1794.5" y="388.4" font-family="'Liberation Sans', Arial, sans-serif" font-size="33.5" font-weight="normal" text-anchor="end" fill="#000" stroke="#000" stroke-width="1.1" stroke-linejoin="round" >50</text>
<line x1="1798" y1="258" x2="1812" y2="258" stroke="#000" stroke-width="3.4" />
<text x="1794.5" y="270" font-family="'Liberation Sans', Arial, sans-serif" font-size="33.5" font-weight="normal" text-anchor="end" fill="#000" stroke="#000" stroke-width="1.1" stroke-linejoin="round" >100</text>
<line x1="1798" y1="139.6" x2="1812" y2="139.6" stroke="#000" stroke-width="3.4" />
<text x="1794.5" y="151.6" font-family="'Liberation Sans', Arial, sans-serif" font-size="33.5" font-weight="normal" text-anchor="end" fill="#000" stroke="#000" stroke-width="1.1" stroke-linejoin="round" >150</text>
<line x1="1798" y1="21.2" x2="1812" y2="21.2" stroke="#000" stroke-width="3.4" />
<text x="1794.5" y="33.2" font-family="'Liberation Sans', Arial, sans-serif" font-size="33.5" font-weight="normal" text-anchor="end" fill="#000" stroke="#000" stroke-width="1.1" stroke-linejoin="round" >200</text>
<line x1="1798" y1="494.8" x2="2482" y2="494.8" stroke="#000" stroke-width="3.4" />
<line x1="1854.9" y1="403.8" x2="1854.9" y2="413.7" stroke="#000" stroke-width="3.5" />
<line x1="1841.1" y1="403.8" x2="1868.7" y2="403.8" stroke="#000" stroke-width="3.5" />
<path d="M1826.5,494.8 V413.2 Q1826.5,411.7 1828,411.7 H1881.8 Q1883.3,411.7 1883.3,413.2 V494.8 Z" fill="#000"/>
<line x1="1940" y1="460.5" x2="1940" y2="467" stroke="#000" stroke-width="3.5" />
<line x1="1926.2" y1="460.5" x2="1953.8" y2="460.5" stroke="#000" stroke-width="3.5" />
<path d="M1911.6,494.8 V466.5 Q1911.6,465 1913.1,465 H1966.9 Q1968.4,465 1968.4,466.5 V494.8 Z" fill="#000"/>
<line x1="2022.4" y1="400.7" x2="2022.4" y2="410" stroke="#000" stroke-width="3.5" />
<line x1="2008.6" y1="400.7" x2="2036.2" y2="400.7" stroke="#000" stroke-width="3.5" />
<path d="M1994,494.8 V409.5 Q1994,408 1995.5,408 H2049.3 Q2050.8,408 2050.8,409.5 V494.8 Z" fill="#000"/>
<line x1="2106.8" y1="315" x2="2106.8" y2="336.8" stroke="#000" stroke-width="3.5" />
<line x1="2093" y1="315" x2="2120.6" y2="315" stroke="#000" stroke-width="3.5" />
<path d="M2078.4,494.8 V336.3 Q2078.4,334.8 2079.9,334.8 H2133.7 Q2135.2,334.8 2135.2,336.3 V494.8 Z" fill="#000"/>
<rect x="2162.75" y="299" width="53.3" height="195.8" fill="#fff" stroke="#000" stroke-width="3.5" />
<line x1="2189.4" y1="283" x2="2189.4" y2="313" stroke="#000" stroke-width="3.5" />
<line x1="2174.9" y1="283" x2="2203.9" y2="283" stroke="#000" stroke-width="3.5" />
<line x1="2174.9" y1="313" x2="2203.9" y2="313" stroke="#000" stroke-width="3.5" />
<rect x="2247.25" y="441.7" width="53.3" height="53.1" fill="#fff" stroke="#000" stroke-width="3.5" />
<line x1="2273.9" y1="427" x2="2273.9" y2="455" stroke="#000" stroke-width="3.5" />
<line x1="2259.4" y1="427" x2="2288.4" y2="427" stroke="#000" stroke-width="3.5" />
<line x1="2259.4" y1="455" x2="2288.4" y2="455" stroke="#000" stroke-width="3.5" />
<rect x="2330.75" y="268.5" width="53.3" height="226.3" fill="#fff" stroke="#000" stroke-width="3.5" />
<line x1="2357.4" y1="252" x2="2357.4" y2="287" stroke="#000" stroke-width="3.5" />
<line x1="2342.9" y1="252" x2="2371.9" y2="252" stroke="#000" stroke-width="3.5" />
<line x1="2342.9" y1="287" x2="2371.9" y2="287" stroke="#000" stroke-width="3.5" />
<rect x="2415.35" y="104.8" width="53.3" height="390" fill="#fff" stroke="#000" stroke-width="3.5" />
<line x1="2442" y1="83" x2="2442" y2="126.6" stroke="#000" stroke-width="3.5" />
<line x1="2427.5" y1="83" x2="2456.5" y2="83" stroke="#000" stroke-width="3.5" />
<line x1="2427.5" y1="126.6" x2="2456.5" y2="126.6" stroke="#000" stroke-width="3.5" />
<line x1="1854.5" y1="494.8" x2="1854.5" y2="509" stroke="#000" stroke-width="3.4" />
<line x1="1938" y1="494.8" x2="1938" y2="509" stroke="#000" stroke-width="3.4" />
<line x1="2021.6" y1="494.8" x2="2021.6" y2="509" stroke="#000" stroke-width="3.4" />
<line x1="2105" y1="494.8" x2="2105" y2="509" stroke="#000" stroke-width="3.4" />
<line x1="2188.6" y1="494.8" x2="2188.6" y2="509" stroke="#000" stroke-width="3.4" />
<line x1="2272.4" y1="494.8" x2="2272.4" y2="509" stroke="#000" stroke-width="3.4" />
<line x1="2356.4" y1="494.8" x2="2356.4" y2="509" stroke="#000" stroke-width="3.4" />
<line x1="2440" y1="494.8" x2="2440" y2="509" stroke="#000" stroke-width="3.4" />
<path d="M1855,391 V384.5 Q1855,381.5 1858,381.5 H1937.5 Q1940.5,381.5 1940.5,384.5 V391" fill="none" stroke="#000" stroke-width="4" stroke-linecap="round" stroke-linejoin="round"/>
<path d="M2020,306 V300 Q2020,297 2023,297 H2103 Q2106,297 2106,300 V306" fill="none" stroke="#000" stroke-width="4" stroke-linecap="round" stroke-linejoin="round"/>
<path d="M2187.5,267.5 V261.5 Q2187.5,258.5 2190.5,258.5 H2270.5 Q2273.5,258.5 2273.5,261.5 V267.5" fill="none" stroke="#000" stroke-width="4" stroke-linecap="round" stroke-linejoin="round"/>
<path d="M2357,68 V62 Q2357,59 2360,59 H2440 Q2443,59 2443,62 V68" fill="none" stroke="#000" stroke-width="4" stroke-linecap="round" stroke-linejoin="round"/>
<text x="1902.5" y="370" font-family="'DejaVu Sans', sans-serif" font-size="19" font-weight="normal" text-anchor="middle" fill="#000" letter-spacing="-1.5" stroke="#000" stroke-width="0.8" stroke-linejoin="round" >★★</text>
<text x="2065" y="287" font-family="'DejaVu Sans', sans-serif" font-size="19" font-weight="normal" text-anchor="middle" fill="#000" letter-spacing="-1.5" stroke="#000" stroke-width="0.8" stroke-linejoin="round" >★★</text>
<text x="2227" y="244" font-family="'DejaVu Sans', sans-serif" font-size="19" font-weight="normal" text-anchor="middle" fill="#000" letter-spacing="-1.5" stroke="#000" stroke-width="0.8" stroke-linejoin="round" >★★★</text>
<text x="2397" y="49" font-family="'DejaVu Sans', sans-serif" font-size="19" font-weight="normal" text-anchor="middle" fill="#000" letter-spacing="-1.5" stroke="#000" stroke-width="0.8" stroke-linejoin="round" >★★★</text>
<text x="0" y="0" transform="translate(1724,206.3) rotate(-90)" font-family="'Liberation Sans', Arial, sans-serif" font-size="40" font-weight="bold" text-anchor="middle" fill="#000" >IL-8 ( pg/ml )</text>
<text x="0" y="0" transform="translate(1864.5,540) rotate(-45)" font-family="'Liberation Sans', Arial, sans-serif" font-size="30.6" font-weight="normal" text-anchor="end" fill="#000" stroke="#000" stroke-width="1.5" stroke-linejoin="round" >HEY<tspan dx="3">-A8 scr 24h</tspan></text>
<text x="0" y="0" transform="translate(1949,538) rotate(-45)" font-family="'Liberation Sans', Arial, sans-serif" font-size="30.6" font-weight="normal" text-anchor="end" fill="#000" stroke="#000" stroke-width="1.5" stroke-linejoin="round" >HEY<tspan dx="3">-A8 IL-8i 24h</tspan></text>
<text x="0" y="0" transform="translate(2008.6,552) rotate(-45)" font-family="'Liberation Sans', Arial, sans-serif" font-size="30.6" font-weight="normal" text-anchor="end" fill="#000" stroke="#000" stroke-width="1.5" stroke-linejoin="round" >HEY<tspan dx="3">-A8 V 24h</tspan></text>
<text x="0" y="0" transform="translate(2106.3,540) rotate(-45)" font-family="'Liberation Sans', Arial, sans-serif" font-size="30.6" font-weight="normal" text-anchor="end" fill="#000" stroke="#000" stroke-width="1.5" stroke-linejoin="round" >HEY<tspan dx="3">-A8 IL-8 24h</tspan></text>
<text x="0" y="0" transform="translate(2190.9,540) rotate(-45)" font-family="'Liberation Sans', Arial, sans-serif" font-size="30.6" font-weight="normal" text-anchor="end" fill="#000" stroke="#000" stroke-width="1.5" stroke-linejoin="round" >HEY<tspan dx="3">-A8 scr 48h</tspan></text>
<text x="0" y="0" transform="translate(2269.4,534) rotate(-45)" font-family="'Liberation Sans', Arial, sans-serif" font-size="30.6" font-weight="normal" text-anchor="end" fill="#000" stroke="#000" stroke-width="1.5" stroke-linejoin="round" >HEY<tspan dx="3">-A8 IL-8i 48h</tspan></text>
<text x="0" y="0" transform="translate(2359.8,540) rotate(-45)" font-family="'Liberation Sans', Arial, sans-serif" font-size="30.6" font-weight="normal" text-anchor="end" fill="#000" stroke="#000" stroke-width="1.5" stroke-linejoin="round" >HEY<tspan dx="3">-A8 V 48h</tspan></text>
<text x="0" y="0" transform="translate(2455,540) rotate(-45)" font-family="'Liberation Sans', Arial, sans-serif" font-size="30.6" font-weight="normal" text-anchor="end" fill="#000" stroke="#000" stroke-width="1.5" stroke-linejoin="round" >HEY<tspan dx="3">-A8 IL-8 48h</tspan></text>
<line x1="343" y1="1678" x2="343" y2="2106" stroke="#000" stroke-width="3.4" />
<line x1="327" y1="2104.3" x2="343" y2="2104.3" stroke="#000" stroke-width="3.4" />
<text x="324.5" y="2116.3" font-family="'Liberation Sans', Arial, sans-serif" font-size="33.5" font-weight="normal" text-anchor="end" fill="#000" stroke="#000" stroke-width="1" stroke-linejoin="round" >0</text>
<line x1="327" y1="1998.05" x2="343" y2="1998.05" stroke="#000" stroke-width="3.4" />
<text x="324.5" y="2010.05" font-family="'Liberation Sans', Arial, sans-serif" font-size="33.5" font-weight="normal" text-anchor="end" fill="#000" stroke="#000" stroke-width="1" stroke-linejoin="round" >10</text>
<line x1="327" y1="1891.8" x2="343" y2="1891.8" stroke="#000" stroke-width="3.4" />
<text x="324.5" y="1903.8" font-family="'Liberation Sans', Arial, sans-serif" font-size="33.5" font-weight="normal" text-anchor="end" fill="#000" stroke="#000" stroke-width="1" stroke-linejoin="round" >20</text>
<line x1="327" y1="1785.55" x2="343" y2="1785.55" stroke="#000" stroke-width="3.4" />
<text x="324.5" y="1797.55" font-family="'Liberation Sans', Arial, sans-serif" font-size="33.5" font-weight="normal" text-anchor="end" fill="#000" stroke="#000" stroke-width="1" stroke-linejoin="round" >30</text>
<line x1="327" y1="1679.3" x2="343" y2="1679.3" stroke="#000" stroke-width="3.4" />
<text x="324.5" y="1691.3" font-family="'Liberation Sans', Arial, sans-serif" font-size="33.5" font-weight="normal" text-anchor="end" fill="#000" stroke="#000" stroke-width="1" stroke-linejoin="round" >40</text>
<line x1="327" y1="2104.3" x2="1025" y2="2104.3" stroke="#000" stroke-width="3.4" />
<line x1="427.23" y1="1858.75" x2="427.23" y2="1885.3" stroke="#000" stroke-width="3.5" />
<line x1="396.23" y1="1858.75" x2="458.23" y2="1858.75" stroke="#000" stroke-width="3.5" />
<path d="M368.75,2104.3 V1886.3 Q368.75,1883.3 371.75,1883.3 H482.7 Q485.7,1883.3 485.7,1886.3 V2104.3 Z" fill="#000"/>
<line x1="597" y1="1964.6" x2="597" y2="1977.7" stroke="#000" stroke-width="3.5" />
<line x1="566" y1="1964.6" x2="628" y2="1964.6" stroke="#000" stroke-width="3.5" />
<path d="M538,2104.3 V1978.7 Q538,1975.7 541,1975.7 H653 Q656,1975.7 656,1978.7 V2104.3 Z" fill="#000"/>
<line x1="767" y1="1900.3" x2="767" y2="1912.3" stroke="#000" stroke-width="3.5" />
<line x1="737" y1="1900.3" x2="797" y2="1900.3" stroke="#000" stroke-width="3.5" />
<rect x="711" y="1912.3" width="112" height="192" fill="#fff" stroke="#000" stroke-width="4" />
<line x1="938.85" y1="1752.5" x2="938.85" y2="1774" stroke="#000" stroke-width="3.5" />
<line x1="908.85" y1="1752.5" x2="968.85" y2="1752.5" stroke="#000" stroke-width="3.5" />
<rect x="882.8" y="1774" width="112.1" height="330.3" fill="#fff" stroke="#000" stroke-width="4" />
<line x1="426.8" y1="2104.3" x2="426.8" y2="2117.7" stroke="#000" stroke-width="3.4" />
<line x1="598.7" y1="2104.3" x2="598.7" y2="2117.7" stroke="#000" stroke-width="3.4" />
<line x1="768.3" y1="2104.3" x2="768.3" y2="2117.7" stroke="#000" stroke-width="3.4" />
<line x1="938" y1="2104.3" x2="938" y2="2117.7" stroke="#000" stroke-width="3.4" />
<path d="M432,1843 V1834 Q432,1831 435,1831 H595.7 Q598.7,1831 598.7,1834 V1843" fill="none" stroke="#000" stroke-width="3" stroke-linecap="round" stroke-linejoin="round"/>
<path d="M776,1723.5 V1713.5 Q776,1710.5 779,1710.5 H939.4 Q942.4,1710.5 942.4,1713.5 V1723.5" fill="none" stroke="#000" stroke-width="3" stroke-linecap="round" stroke-linejoin="round"/>
<text x="521.5" y="1829" font-family="'Liberation Sans', Arial, sans-serif" font-size="30" font-weight="bold" text-anchor="middle" fill="#000" >*</text>
<text x="866.5" y="1715" font-family="'Liberation Sans', Arial, sans-serif" font-size="30" font-weight="bold" text-anchor="middle" fill="#000" >*</text>
<text x="0" y="0" transform="translate(265.5,1891) rotate(-90)" font-family="'Liberation Sans', Arial, sans-serif" font-size="37.4" font-weight="normal" text-anchor="middle" fill="#000" stroke="#000" stroke-width="1.4" stroke-linejoin="round" >Spheroids number</text>
<text x="0" y="0" transform="translate(442.3,2148) rotate(-45)" font-family="'Liberation Sans', Arial, sans-serif" font-size="31" font-weight="bold" text-anchor="end" fill="#000" letter-spacing="1.3" >HEY<tspan dx="3">-A8 scr</tspan></text>
<text x="0" y="0" transform="translate(614.2,2148) rotate(-45)" font-family="'Liberation Sans', Arial, sans-serif" font-size="31" font-weight="bold" text-anchor="end" fill="#000" letter-spacing="1.3" >HEY<tspan dx="3">-A8 IL8i</tspan></text>
<text x="0" y="0" transform="translate(783.8,2148) rotate(-45)" font-family="'Liberation Sans', Arial, sans-serif" font-size="31" font-weight="bold" text-anchor="end" fill="#000" letter-spacing="1.3" >HEY<tspan dx="3">-A8 V</tspan></text>
<text x="0" y="0" transform="translate(953.5,2148) rotate(-45)" font-family="'Liberation Sans', Arial, sans-serif" font-size="31" font-weight="bold" text-anchor="end" fill="#000" letter-spacing="1.3" >HEY<tspan dx="3">-A8 IL-8</tspan></text>
<text x="2055.5" y="971.7" font-family="'Liberation Sans', Arial, sans-serif" font-size="39.6" font-weight="bold" text-anchor="middle" fill="#000" >HEY-A8 Cisplatin</text>
<line x1="1743.75" y1="1021" x2="1743.75" y2="1437.7" stroke="#000" stroke-width="3.4" />
<line x1="1730.75" y1="1436" x2="1743.75" y2="1436" stroke="#000" stroke-width="3.4" />
<text x="1727" y="1447.5" font-family="'Liberation Sans', Arial, sans-serif" font-size="31.5" font-weight="normal" text-anchor="end" fill="#000" stroke="#000" stroke-width="0.9" stroke-linejoin="round" >0</text>
<line x1="1730.75" y1="1332.4" x2="1743.75" y2="1332.4" stroke="#000" stroke-width="3.4" />
<text x="1727" y="1343.9" font-family="'Liberation Sans', Arial, sans-serif" font-size="31.5" font-weight="normal" text-anchor="end" fill="#000" stroke="#000" stroke-width="0.9" stroke-linejoin="round" >25</text>
<line x1="1730.75" y1="1228.8" x2="1743.75" y2="1228.8" stroke="#000" stroke-width="3.4" />
<text x="1727" y="1240.3" font-family="'Liberation Sans', Arial, sans-serif" font-size="31.5" font-weight="normal" text-anchor="end" fill="#000" stroke="#000" stroke-width="0.9" stroke-linejoin="round" >50</text>
<line x1="1730.75" y1="1125.2" x2="1743.75" y2="1125.2" stroke="#000" stroke-width="3.4" />
<text x="1727" y="1136.7" font-family="'Liberation Sans', Arial, sans-serif" font-size="31.5" font-weight="normal" text-anchor="end" fill="#000" stroke="#000" stroke-width="0.9" stroke-linejoin="round" >75</text>
<line x1="1730.75" y1="1021.6" x2="1743.75" y2="1021.6" stroke="#000" stroke-width="3.4" />
<text x="1727" y="1033.1" font-family="'Liberation Sans', Arial, sans-serif" font-size="31.5" font-weight="normal" text-anchor="end" fill="#000" stroke="#000" stroke-width="0.9" stroke-linejoin="round" >100</text>
<line x1="1743.75" y1="1436" x2="2365.6" y2="1436" stroke="#000" stroke-width="3.4" />
<line x1="1743" y1="1436" x2="1743" y2="1449" stroke="#000" stroke-width="3.4" />
<text x="1743" y="1483" font-family="'Liberation Sans', Arial, sans-serif" font-size="32" font-weight="normal" text-anchor="middle" fill="#000" stroke="#000" stroke-width="0.9" stroke-linejoin="round" >-2</text>
<line x1="1846.6" y1="1436" x2="1846.6" y2="1449" stroke="#000" stroke-width="3.4" />
<text x="1846.6" y="1483" font-family="'Liberation Sans', Arial, sans-serif" font-size="32" font-weight="normal" text-anchor="middle" fill="#000" stroke="#000" stroke-width="0.9" stroke-linejoin="round" >-1</text>
<line x1="1950.2" y1="1436" x2="1950.2" y2="1449" stroke="#000" stroke-width="3.4" />
<text x="1950.2" y="1483" font-family="'Liberation Sans', Arial, sans-serif" font-size="32" font-weight="normal" text-anchor="middle" fill="#000" stroke="#000" stroke-width="0.9" stroke-linejoin="round" >0</text>
<line x1="2053.8" y1="1436" x2="2053.8" y2="1449" stroke="#000" stroke-width="3.4" />
<text x="2053.8" y="1483" font-family="'Liberation Sans', Arial, sans-serif" font-size="32" font-weight="normal" text-anchor="middle" fill="#000" stroke="#000" stroke-width="0.9" stroke-linejoin="round" >1</text>
<line x1="2157.4" y1="1436" x2="2157.4" y2="1449" stroke="#000" stroke-width="3.4" />
<text x="2157.4" y="1483" font-family="'Liberation Sans', Arial, sans-serif" font-size="32" font-weight="normal" text-anchor="middle" fill="#000" stroke="#000" stroke-width="0.9" stroke-linejoin="round" >2</text>
<line x1="2261" y1="1436" x2="2261" y2="1449" stroke="#000" stroke-width="3.4" />
<text x="2261" y="1483" font-family="'Liberation Sans', Arial, sans-serif" font-size="32" font-weight="normal" text-anchor="middle" fill="#000" stroke="#000" stroke-width="0.9" stroke-linejoin="round" >3</text>
<line x1="2364.6" y1="1436" x2="2364.6" y2="1449" stroke="#000" stroke-width="3.4" />
<text x="2364.6" y="1483" font-family="'Liberation Sans', Arial, sans-serif" font-size="32" font-weight="normal" text-anchor="middle" fill="#000" stroke="#000" stroke-width="0.9" stroke-linejoin="round" >4</text>
<text x="2055.5" y="1525" font-family="'Liberation Sans', Arial, sans-serif" font-size="33.8" font-weight="bold" text-anchor="middle" fill="#000" >µM(Log)</text>
<text x="0" y="0" transform="translate(1656.5,1228.5) rotate(-90)" font-family="'Liberation Sans', Arial, sans-serif" font-size="34" font-weight="bold" text-anchor="middle" fill="#000" >Cell viability (%)</text>
<line x1="1743.75" y1="1228.4" x2="2269.6" y2="1228.4" stroke="#000" stroke-width="3" stroke-dasharray="8,5.5"/>
<line x1="1827.04" y1="1036.2" x2="1827.04" y2="1023.77" stroke="#000" stroke-width="3.5" />
<line x1="1818.04" y1="1036.2" x2="1836.04" y2="1036.2" stroke="#000" stroke-width="3.5" />
<line x1="1818.04" y1="1023.77" x2="1836.04" y2="1023.77" stroke="#000" stroke-width="3.5" />
<line x1="2044.49" y1="1226.78" x2="2044.49" y2="1210.21" stroke="#000" stroke-width="3.5" />
<line x1="2035.49" y1="1226.78" x2="2053.49" y2="1226.78" stroke="#000" stroke-width="3.5" />
<line x1="2035.49" y1="1210.21" x2="2053.49" y2="1210.21" stroke="#000" stroke-width="3.5" />
<line x1="2116.98" y1="1288.92" x2="2116.98" y2="1259.92" stroke="#000" stroke-width="3.5" />
<line x1="2107.98" y1="1288.92" x2="2125.98" y2="1288.92" stroke="#000" stroke-width="3.5" />
<line x1="2107.98" y1="1259.92" x2="2125.98" y2="1259.92" stroke="#000" stroke-width="3.5" />
<line x1="1899.52" y1="1069.34" x2="1899.52" y2="1023.77" stroke="#1414f5" stroke-width="3.5" />
<line x1="1890.52" y1="1069.34" x2="1908.52" y2="1069.34" stroke="#1414f5" stroke-width="3.5" />
<line x1="1890.52" y1="1023.77" x2="1908.52" y2="1023.77" stroke="#1414f5" stroke-width="3.5" />
<line x1="2116.98" y1="1334.5" x2="2116.98" y2="1311.71" stroke="#1414f5" stroke-width="3.5" />
<line x1="2107.98" y1="1334.5" x2="2125.98" y2="1334.5" stroke="#1414f5" stroke-width="3.5" />
<line x1="2107.98" y1="1311.71" x2="2125.98" y2="1311.71" stroke="#1414f5" stroke-width="3.5" />
<line x1="2116.98" y1="1355.21" x2="2116.98" y2="1336.57" stroke="#f04848" stroke-width="3.5" />
<line x1="2107.98" y1="1355.21" x2="2125.98" y2="1355.21" stroke="#f04848" stroke-width="3.5" />
<line x1="2107.98" y1="1336.57" x2="2125.98" y2="1336.57" stroke="#f04848" stroke-width="3.5" />
<path d="M1824.97,1026.19 L1828.52,1026.39 L1832.08,1026.6 L1835.63,1026.83 L1839.19,1027.08 L1842.75,1027.35 L1846.3,1027.64 L1849.86,1027.96 L1853.41,1028.3 L1856.97,1028.67 L1860.52,1029.06 L1864.08,1029.49 L1867.63,1029.95 L1871.19,1030.45 L1874.74,1030.99 L1878.3,1031.57 L1881.85,1032.2 L1885.41,1032.87 L1888.96,1033.6 L1892.52,1034.38 L1896.07,1035.23 L1899.63,1036.14 L1903.18,1037.12 L1906.74,1038.17 L1910.29,1039.3 L1913.85,1040.52 L1917.4,1041.82 L1920.96,1043.23 L1924.52,1044.73 L1928.07,1046.35 L1931.63,1048.08 L1935.18,1049.93 L1938.74,1051.91 L1942.29,1054.02 L1945.85,1056.28 L1949.4,1058.69 L1952.96,1061.26 L1956.51,1063.99 L1960.07,1066.89 L1963.62,1069.97 L1967.18,1073.24 L1970.73,1076.7 L1974.29,1080.35 L1977.84,1084.21 L1981.4,1088.27 L1984.95,1092.54 L1988.51,1097.02 L1992.06,1101.71 L1995.62,1106.61 L1999.17,1111.73 L2002.73,1117.05 L2006.29,1122.57 L2009.84,1128.28 L2013.4,1134.18 L2016.95,1140.26 L2020.51,1146.51 L2024.06,1152.9 L2027.62,1159.43 L2031.17,1166.08 L2034.73,1172.83 L2038.28,1179.67 L2041.84,1186.56 L2045.39,1193.5 L2048.95,1200.46 L2052.5,1207.41 L2056.06,1214.34 L2059.61,1221.23 L2063.17,1228.05 L2066.72,1234.79 L2070.28,1241.42 L2073.83,1247.93 L2077.39,1254.29 L2080.94,1260.51 L2084.5,1266.56 L2088.06,1272.43 L2091.61,1278.11 L2095.17,1283.6 L2098.72,1288.88 L2102.28,1293.96 L2105.83,1298.82 L2109.39,1303.48 L2112.94,1307.92 L2116.5,1312.15 L2120.05,1316.18 L2123.61,1320 L2127.16,1323.62 L2130.72,1327.04 L2134.27,1330.28 L2137.83,1333.33 L2141.38,1336.2 L2144.94,1338.9 L2148.49,1341.44 L2152.05,1343.82 L2155.6,1346.06 L2159.16,1348.15 L2162.71,1350.1 L2166.27,1351.93 L2169.83,1353.64 L2173.38,1355.24 L2176.94,1356.72 L2180.49,1358.11 L2184.05,1359.4 L2187.6,1360.6 L2191.16,1361.72 L2194.71,1362.76 L2198.27,1363.72 L2201.82,1364.62 L2205.38,1365.46 L2208.93,1366.23 L2212.49,1366.95 L2216.04,1367.61 L2219.6,1368.23 L2223.15,1368.81 L2226.71,1369.34 L2230.26,1369.83 L2233.82,1370.29 L2237.37,1370.71 L2240.93,1371.1 L2244.48,1371.46 L2248.04,1371.8 L2251.59,1372.11" fill="none" stroke="#000" stroke-width="4" stroke-linejoin="round" stroke-linecap="round"/>
<path d="M1824.97,1028.07 L1828.52,1028.42 L1832.08,1028.8 L1835.63,1029.21 L1839.19,1029.65 L1842.75,1030.13 L1846.3,1030.64 L1849.86,1031.19 L1853.41,1031.79 L1856.97,1032.44 L1860.52,1033.13 L1864.08,1033.88 L1867.63,1034.69 L1871.19,1035.56 L1874.74,1036.49 L1878.3,1037.5 L1881.85,1038.59 L1885.41,1039.76 L1888.96,1041.01 L1892.52,1042.36 L1896.07,1043.81 L1899.63,1045.36 L1903.18,1047.03 L1906.74,1048.82 L1910.29,1050.73 L1913.85,1052.78 L1917.4,1054.97 L1920.96,1057.31 L1924.52,1059.8 L1928.07,1062.47 L1931.63,1065.3 L1935.18,1068.31 L1938.74,1071.52 L1942.29,1074.92 L1945.85,1078.52 L1949.4,1082.32 L1952.96,1086.34 L1956.51,1090.59 L1960.07,1095.05 L1963.62,1099.74 L1967.18,1104.65 L1970.73,1109.8 L1974.29,1115.17 L1977.84,1120.76 L1981.4,1126.58 L1984.95,1132.61 L1988.51,1138.84 L1992.06,1145.27 L1995.62,1151.89 L1999.17,1158.68 L2002.73,1165.62 L2006.29,1172.71 L2009.84,1179.91 L2013.4,1187.22 L2016.95,1194.61 L2020.51,1202.05 L2024.06,1209.53 L2027.62,1217.02 L2031.17,1224.5 L2034.73,1231.95 L2038.28,1239.33 L2041.84,1246.64 L2045.39,1253.85 L2048.95,1260.93 L2052.5,1267.88 L2056.06,1274.67 L2059.61,1281.29 L2063.17,1287.72 L2066.72,1293.96 L2070.28,1299.99 L2073.83,1305.81 L2077.39,1311.41 L2080.94,1316.78 L2084.5,1321.93 L2088.06,1326.84 L2091.61,1331.54 L2095.17,1336 L2098.72,1340.24 L2102.28,1344.27 L2105.83,1348.08 L2109.39,1351.68 L2112.94,1355.08 L2116.5,1358.28 L2120.05,1361.3 L2123.61,1364.14 L2127.16,1366.8 L2130.72,1369.3 L2134.27,1371.64 L2137.83,1373.83 L2141.38,1375.88 L2144.94,1377.79 L2148.49,1379.58 L2152.05,1381.25 L2155.6,1382.81 L2159.16,1384.25 L2162.71,1385.6 L2166.27,1386.86 L2169.83,1388.03 L2173.38,1389.11 L2176.94,1390.12 L2180.49,1391.06 L2184.05,1391.93 L2187.6,1392.74 L2191.16,1393.49 L2194.71,1394.19 L2198.27,1394.83 L2201.82,1395.43 L2205.38,1395.98 L2208.93,1396.5 L2212.49,1396.97 L2216.04,1397.41 L2219.6,1397.82 L2223.15,1398.2 L2226.71,1398.55 L2230.26,1398.87 L2233.82,1399.17 L2237.37,1399.45 L2240.93,1399.71 L2244.48,1399.94 L2248.04,1400.16 L2251.59,1400.37" fill="none" stroke="#1414f5" stroke-width="4" stroke-linejoin="round" stroke-linecap="round"/>
<circle cx="1827.04" cy="1025.84" r="9" fill="#000"/>
<circle cx="1972.01" cy="1087.99" r="9" fill="#000"/>
<circle cx="2044.49" cy="1217.66" r="9" fill="#000"/>
<circle cx="2116.98" cy="1274.42" r="9" fill="#000"/>
<circle cx="2158.4" cy="1330.77" r="9" fill="#000"/>
<circle cx="2189.47" cy="1354.8" r="9" fill="#000"/>
<rect x="1891.02" y="1043.44" width="17" height="17" fill="#1414f5" />
<rect x="1963.51" y="1115.53" width="17" height="17" fill="#1414f5" />
<rect x="2035.99" y="1246.87" width="17" height="17" fill="#1414f5" />
<rect x="2108.48" y="1316.47" width="17" height="17" fill="#1414f5" />
<rect x="2149.9" y="1369.5" width="17" height="17" fill="#1414f5" />
<rect x="2180.97" y="1400.57" width="17" height="17" fill="#1414f5" />
<rect x="2243.09" y="1404.71" width="17" height="17" fill="#1414f5" />
<path d="M1887.1,1022.84 L1890.14,1024.08 L1893.17,1025.4 L1896.21,1026.8 L1899.25,1028.3 L1902.29,1029.9 L1905.32,1031.59 L1908.36,1033.4 L1911.4,1035.31 L1914.44,1037.35 L1917.47,1039.51 L1920.51,1041.8 L1923.55,1044.22 L1926.59,1046.79 L1929.62,1049.5 L1932.66,1052.37 L1935.7,1055.4 L1938.74,1058.58 L1941.77,1061.94 L1944.81,1065.47 L1947.85,1069.18 L1950.89,1073.06 L1953.92,1077.14 L1956.96,1081.39 L1960,1085.84 L1963.04,1090.48 L1966.07,1095.3 L1969.11,1100.31 L1972.15,1105.51 L1975.19,1110.88 L1978.22,1116.44 L1981.26,1122.17 L1984.3,1128.06 L1987.34,1134.11 L1990.37,1140.3 L1993.41,1146.64 L1996.45,1153.09 L1999.49,1159.66 L2002.52,1166.33 L2005.56,1173.08 L2008.6,1179.89 L2011.64,1186.76 L2014.67,1193.66 L2017.71,1200.58 L2020.75,1207.49 L2023.78,1214.39 L2026.82,1221.25 L2029.86,1228.07 L2032.9,1234.81 L2035.93,1241.47 L2038.97,1248.02 L2042.01,1254.47 L2045.05,1260.79 L2048.08,1266.97 L2051.12,1273.01 L2054.16,1278.89 L2057.2,1284.6 L2060.23,1290.14 L2063.27,1295.5 L2066.31,1300.68 L2069.35,1305.67 L2072.38,1310.48 L2075.42,1315.1 L2078.46,1319.53 L2081.5,1323.77 L2084.53,1327.82 L2087.57,1331.69 L2090.61,1335.38 L2093.65,1338.9 L2096.68,1342.24 L2099.72,1345.41 L2102.76,1348.42 L2105.8,1351.28 L2108.83,1353.98 L2111.87,1356.53 L2114.91,1358.94 L2117.95,1361.22 L2120.98,1363.37 L2124.02,1365.39 L2127.06,1367.3 L2130.1,1369.09 L2133.13,1370.78 L2136.17,1372.37 L2139.21,1373.86 L2142.25,1375.25 L2145.28,1376.57 L2148.32,1377.8 L2151.36,1378.95 L2154.4,1380.03 L2157.43,1381.05 L2160.47,1382 L2163.51,1382.88 L2166.55,1383.72 L2169.58,1384.49 L2172.62,1385.22 L2175.66,1385.9 L2178.7,1386.54 L2181.73,1387.13 L2184.77,1387.68 L2187.81,1388.2 L2190.85,1388.69 L2193.88,1389.14 L2196.92,1389.56 L2199.96,1389.96 L2203,1390.32 L2206.03,1390.67 L2209.07,1390.99 L2212.11,1391.29 L2215.15,1391.56 L2218.18,1391.82 L2221.22,1392.07 L2224.26,1392.29 L2227.3,1392.5 L2230.33,1392.7 L2233.37,1392.88 L2236.41,1393.06 L2239.45,1393.22 L2242.48,1393.36 L2245.52,1393.5 L2248.56,1393.63 L2251.59,1393.75" fill="none" stroke="#f21c1c" stroke-width="4" stroke-linejoin="round" stroke-linecap="round"/>
<polygon points="1899.52,1018.19 1908.52,1034.39 1890.52,1034.39" fill="#f04848"/>
<polygon points="1972.01,1113.48 1981.01,1129.68 1963.01,1129.68" fill="#f04848"/>
<polygon points="2044.49,1241.92 2053.49,1258.12 2035.49,1258.12" fill="#f04848"/>
<polygon points="2116.98,1339.28 2125.98,1355.48 2107.98,1355.48" fill="#f04848"/>
<polygon points="2158.4,1364.96 2167.4,1381.16 2149.4,1381.16" fill="#f04848"/>
<polygon points="2189.47,1391.89 2198.47,1408.09 2180.47,1408.09" fill="#f04848"/>
<polygon points="2251.59,1386.92 2260.59,1403.12 2242.59,1403.12" fill="#f04848"/>
<circle cx="1757" cy="1350" r="9" fill="#000"/>
<rect x="1748.5" y="1375.2" width="17" height="17" fill="#1414f5" />
<polygon points="1757,1406.24 1766.5,1423.34 1747.5,1423.34" fill="#f04848"/>
<text x="1802" y="1358.4" font-family="'Liberation Sans', Arial, sans-serif" font-size="23.3" font-weight="normal" text-anchor="start" fill="#000" stroke="#000" stroke-width="0.9" stroke-linejoin="round" >HEY-A8 scr IC50 8.726 µM</text>
<text x="1802" y="1390.6" font-family="'Liberation Sans', Arial, sans-serif" font-size="22.8" font-weight="bold" text-anchor="start" fill="#1414f5" >HEY-A8 IL-8ia IC50 5.278µM</text>
<text x="1804" y="1421.6" font-family="'Liberation Sans', Arial, sans-serif" font-size="22.8" font-weight="bold" text-anchor="start" fill="#f21c1c" >HEY-A8 IL-8ib IC50 4.247µM</text>
<text x="2067.5" y="1624.7" font-family="'Liberation Sans', Arial, sans-serif" font-size="39.6" font-weight="bold" text-anchor="middle" fill="#000" >HEY-A8 Cisplatin</text>
<line x1="1758.5" y1="1675.5" x2="1758.5" y2="2088.5" stroke="#000" stroke-width="3.4" />
<line x1="1745.5" y1="2086.8" x2="1758.5" y2="2086.8" stroke="#000" stroke-width="3.4" />
<text x="1742" y="2098.3" font-family="'Liberation Sans', Arial, sans-serif" font-size="31.5" font-weight="normal" text-anchor="end" fill="#000" stroke="#000" stroke-width="0.9" stroke-linejoin="round" >0</text>
<line x1="1745.5" y1="1984.1" x2="1758.5" y2="1984.1" stroke="#000" stroke-width="3.4" />
<text x="1742" y="1995.6" font-family="'Liberation Sans', Arial, sans-serif" font-size="31.5" font-weight="normal" text-anchor="end" fill="#000" stroke="#000" stroke-width="0.9" stroke-linejoin="round" >25</text>
<line x1="1745.5" y1="1881.4" x2="1758.5" y2="1881.4" stroke="#000" stroke-width="3.4" />
<text x="1742" y="1892.9" font-family="'Liberation Sans', Arial, sans-serif" font-size="31.5" font-weight="normal" text-anchor="end" fill="#000" stroke="#000" stroke-width="0.9" stroke-linejoin="round" >50</text>
<line x1="1745.5" y1="1778.7" x2="1758.5" y2="1778.7" stroke="#000" stroke-width="3.4" />
<text x="1742" y="1790.2" font-family="'Liberation Sans', Arial, sans-serif" font-size="31.5" font-weight="normal" text-anchor="end" fill="#000" stroke="#000" stroke-width="0.9" stroke-linejoin="round" >75</text>
<line x1="1745.5" y1="1676" x2="1758.5" y2="1676" stroke="#000" stroke-width="3.4" />
<text x="1742" y="1687.5" font-family="'Liberation Sans', Arial, sans-serif" font-size="31.5" font-weight="normal" text-anchor="end" fill="#000" stroke="#000" stroke-width="0.9" stroke-linejoin="round" >100</text>
<line x1="1758.5" y1="2086.8" x2="2374.5" y2="2086.8" stroke="#000" stroke-width="3.4" />
<line x1="1758.5" y1="2086.8" x2="1758.5" y2="2099" stroke="#000" stroke-width="3.4" />
<text x="1758.5" y="2129.5" font-family="'Liberation Sans', Arial, sans-serif" font-size="32" font-weight="normal" text-anchor="middle" fill="#000" stroke="#000" stroke-width="0.9" stroke-linejoin="round" >-2</text>
<line x1="1881.7" y1="2086.8" x2="1881.7" y2="2099" stroke="#000" stroke-width="3.4" />
<text x="1881.7" y="2129.5" font-family="'Liberation Sans', Arial, sans-serif" font-size="32" font-weight="normal" text-anchor="middle" fill="#000" stroke="#000" stroke-width="0.9" stroke-linejoin="round" >-1</text>
<line x1="2004.9" y1="2086.8" x2="2004.9" y2="2099" stroke="#000" stroke-width="3.4" />
<text x="2004.9" y="2129.5" font-family="'Liberation Sans', Arial, sans-serif" font-size="32" font-weight="normal" text-anchor="middle" fill="#000" stroke="#000" stroke-width="0.9" stroke-linejoin="round" >0</text>
<line x1="2128.1" y1="2086.8" x2="2128.1" y2="2099" stroke="#000" stroke-width="3.4" />
<text x="2128.1" y="2129.5" font-family="'Liberation Sans', Arial, sans-serif" font-size="32" font-weight="normal" text-anchor="middle" fill="#000" stroke="#000" stroke-width="0.9" stroke-linejoin="round" >1</text>
<line x1="2251.3" y1="2086.8" x2="2251.3" y2="2099" stroke="#000" stroke-width="3.4" />
<text x="2251.3" y="2129.5" font-family="'Liberation Sans', Arial, sans-serif" font-size="32" font-weight="normal" text-anchor="middle" fill="#000" stroke="#000" stroke-width="0.9" stroke-linejoin="round" >2</text>
<line x1="2374.5" y1="2086.8" x2="2374.5" y2="2099" stroke="#000" stroke-width="3.4" />
<text x="2374.5" y="2129.5" font-family="'Liberation Sans', Arial, sans-serif" font-size="32" font-weight="normal" text-anchor="middle" fill="#000" stroke="#000" stroke-width="0.9" stroke-linejoin="round" >3</text>
<text x="2067.5" y="2171.6" font-family="'Liberation Sans', Arial, sans-serif" font-size="33.8" font-weight="bold" text-anchor="middle" fill="#000" >µM(Log)</text>
<text x="0" y="0" transform="translate(1673.5,1879) rotate(-90)" font-family="'Liberation Sans', Arial, sans-serif" font-size="34" font-weight="bold" text-anchor="middle" fill="#000" >Cell viaability(%)</text>
<line x1="1758.5" y1="1885" x2="2354.5" y2="1885" stroke="#000" stroke-width="3" stroke-dasharray="8,5.5"/>
<line x1="2028.64" y1="1778.7" x2="2028.64" y2="1752" stroke="#000" stroke-width="3.5" />
<line x1="2019.64" y1="1778.7" x2="2037.64" y2="1778.7" stroke="#000" stroke-width="3.5" />
<line x1="2019.64" y1="1752" x2="2037.64" y2="1752" stroke="#000" stroke-width="3.5" />
<line x1="2201.12" y1="1943.02" x2="2201.12" y2="1914.26" stroke="#000" stroke-width="3.5" />
<line x1="2192.12" y1="1943.02" x2="2210.12" y2="1943.02" stroke="#000" stroke-width="3.5" />
<line x1="2192.12" y1="1914.26" x2="2210.12" y2="1914.26" stroke="#000" stroke-width="3.5" />
<path d="M1856.16,1697.49 L1859.75,1697.7 L1863.35,1697.92 L1866.94,1698.15 L1870.53,1698.4 L1874.13,1698.67 L1877.72,1698.96 L1881.31,1699.27 L1884.91,1699.59 L1888.5,1699.94 L1892.09,1700.31 L1895.69,1700.71 L1899.28,1701.13 L1902.87,1701.58 L1906.47,1702.07 L1910.06,1702.58 L1913.65,1703.13 L1917.25,1703.71 L1920.84,1704.33 L1924.43,1704.99 L1928.03,1705.7 L1931.62,1706.45 L1935.21,1707.24 L1938.81,1708.09 L1942.4,1708.99 L1945.99,1709.95 L1949.59,1710.97 L1953.18,1712.05 L1956.77,1713.2 L1960.37,1714.42 L1963.96,1715.72 L1967.55,1717.09 L1971.15,1718.54 L1974.74,1720.08 L1978.33,1721.7 L1981.93,1723.42 L1985.52,1725.24 L1989.11,1727.16 L1992.71,1729.18 L1996.3,1731.32 L1999.89,1733.56 L2003.49,1735.93 L2007.08,1738.41 L2010.67,1741.02 L2014.27,1743.75 L2017.86,1746.62 L2021.45,1749.62 L2025.05,1752.75 L2028.64,1756.02 L2032.23,1759.43 L2035.83,1762.98 L2039.42,1766.66 L2043.01,1770.49 L2046.61,1774.45 L2050.2,1778.54 L2053.79,1782.78 L2057.39,1787.13 L2060.98,1791.62 L2064.57,1796.22 L2068.17,1800.94 L2071.76,1805.77 L2075.35,1810.7 L2078.95,1815.72 L2082.54,1820.82 L2086.13,1825.99 L2089.73,1831.23 L2093.32,1836.52 L2096.91,1841.84 L2100.51,1847.2 L2104.1,1852.58 L2107.69,1857.96 L2111.29,1863.33 L2114.88,1868.68 L2118.47,1874 L2122.07,1879.28 L2125.66,1884.5 L2129.25,1889.66 L2132.85,1894.75 L2136.44,1899.75 L2140.03,1904.65 L2143.63,1909.46 L2147.22,1914.15 L2150.81,1918.73 L2154.41,1923.19 L2158,1927.53 L2161.59,1931.73 L2165.19,1935.8 L2168.78,1939.73 L2172.37,1943.53 L2175.97,1947.18 L2179.56,1950.7 L2183.15,1954.08 L2186.75,1957.32 L2190.34,1960.42 L2193.93,1963.39 L2197.53,1966.23 L2201.12,1968.94 L2204.71,1971.52 L2208.31,1973.98 L2211.9,1976.32 L2215.49,1978.54 L2219.09,1980.65 L2222.68,1982.65 L2226.27,1984.55 L2229.87,1986.34 L2233.46,1988.04 L2237.05,1989.65 L2240.65,1991.17 L2244.24,1992.61 L2247.83,1993.96 L2251.43,1995.24 L2255.02,1996.44 L2258.61,1997.58 L2262.21,1998.64 L2265.8,1999.65 L2269.39,2000.6 L2272.99,2001.49 L2276.58,2002.33 L2280.17,2003.11 L2283.77,2003.85 L2287.36,2004.55" fill="none" stroke="#000" stroke-width="4" stroke-linejoin="round" stroke-linecap="round"/>
<path d="M1856.16,1696.23 L1859.75,1696.35 L1863.35,1696.48 L1866.94,1696.62 L1870.53,1696.77 L1874.13,1696.93 L1877.72,1697.09 L1881.31,1697.27 L1884.91,1697.47 L1888.5,1697.67 L1892.09,1697.89 L1895.69,1698.12 L1899.28,1698.37 L1902.87,1698.64 L1906.47,1698.92 L1910.06,1699.23 L1913.65,1699.55 L1917.25,1699.9 L1920.84,1700.27 L1924.43,1700.66 L1928.03,1701.08 L1931.62,1701.53 L1935.21,1702.01 L1938.81,1702.52 L1942.4,1703.06 L1945.99,1703.64 L1949.59,1704.26 L1953.18,1704.91 L1956.77,1705.61 L1960.37,1706.36 L1963.96,1707.15 L1967.55,1708 L1971.15,1708.89 L1974.74,1709.85 L1978.33,1710.86 L1981.93,1711.94 L1985.52,1713.08 L1989.11,1714.3 L1992.71,1715.58 L1996.3,1716.95 L1999.89,1718.4 L2003.49,1719.93 L2007.08,1721.55 L2010.67,1723.27 L2014.27,1725.08 L2017.86,1726.99 L2021.45,1729.01 L2025.05,1731.15 L2028.64,1733.39 L2032.23,1735.75 L2035.83,1738.24 L2039.42,1740.85 L2043.01,1743.59 L2046.61,1746.46 L2050.2,1749.47 L2053.79,1752.61 L2057.39,1755.89 L2060.98,1759.32 L2064.57,1762.88 L2068.17,1766.59 L2071.76,1770.44 L2075.35,1774.44 L2078.95,1778.57 L2082.54,1782.84 L2086.13,1787.25 L2089.73,1791.78 L2093.32,1796.44 L2096.91,1801.23 L2100.51,1806.12 L2104.1,1811.12 L2107.69,1816.22 L2111.29,1821.42 L2114.88,1826.69 L2118.47,1832.03 L2122.07,1837.42 L2125.66,1842.87 L2129.25,1848.35 L2132.85,1853.86 L2136.44,1859.37 L2140.03,1864.89 L2143.63,1870.39 L2147.22,1875.87 L2150.81,1881.3 L2154.41,1886.69 L2158,1892.02 L2161.59,1897.27 L2165.19,1902.44 L2168.78,1907.53 L2172.37,1912.51 L2175.97,1917.38 L2179.56,1922.14 L2183.15,1926.77 L2186.75,1931.28 L2190.34,1935.66 L2193.93,1939.9 L2197.53,1944.01 L2201.12,1947.97 L2204.71,1951.79 L2208.31,1955.47 L2211.9,1959.01 L2215.49,1962.41 L2219.09,1965.66 L2222.68,1968.77 L2226.27,1971.75 L2229.87,1974.6 L2233.46,1977.31 L2237.05,1979.89 L2240.65,1982.35 L2244.24,1984.69 L2247.83,1986.91 L2251.43,1989.02 L2255.02,1991.02 L2258.61,1992.91 L2262.21,1994.71 L2265.8,1996.4 L2269.39,1998.01 L2272.99,1999.52 L2276.58,2000.95 L2280.17,2002.3 L2283.77,2003.57 L2287.36,2004.77" fill="none" stroke="#f21c1c" stroke-width="4" stroke-linejoin="round" stroke-linecap="round"/>
<circle cx="1856.16" cy="1694.49" r="9" fill="#000"/>
<circle cx="1942.4" cy="1704.76" r="9" fill="#000"/>
<circle cx="2028.64" cy="1766.38" r="9" fill="#000"/>
<circle cx="2114.88" cy="1879.35" r="9" fill="#000"/>
<circle cx="2250.4" cy="1998.48" r="9" fill="#000"/>
<rect x="1847.66" y="1681.88" width="17" height="17" fill="#f21c1c" />
<rect x="1933.9" y="1690.09" width="17" height="17" fill="#f21c1c" />
<rect x="2020.14" y="1739.39" width="17" height="17" fill="#f21c1c" />
<rect x="2106.38" y="1831.82" width="17" height="17" fill="#f21c1c" />
<rect x="2192.62" y="1922.2" width="17" height="17" fill="#f21c1c" />
<rect x="2241.9" y="1969.44" width="17" height="17" fill="#f21c1c" />
<rect x="2278.86" y="2022.84" width="17" height="17" fill="#f21c1c" />
<circle cx="1777.7" cy="2042" r="9" fill="#000"/>
<rect x="1769.2" y="2059.5" width="17" height="17" fill="#f21c1c" />
<text x="1821" y="2049.7" font-family="'Liberation Sans', Arial, sans-serif" font-size="22.5" font-weight="bold" text-anchor="start" fill="#000" >HEY-A8 v IC 6.67µM</text>
<text x="1821" y="2075.6" font-family="'Liberation Sans', Arial, sans-serif" font-size="22.5" font-weight="bold" text-anchor="start" fill="#000" >HEY-A8 IL-8 IC50 11.81µM</text>
<text x="644" y="1198.4" font-family="'Liberation Sans', Arial, sans-serif" font-size="38.6" font-weight="bold" text-anchor="end" fill="#fff" >HEY-A8 scr</text>
<text x="1133" y="1198.4" font-family="'Liberation Sans', Arial, sans-serif" font-size="38.6" font-weight="bold" text-anchor="end" fill="#fff" >HEY-A8 IL-8i</text>
<text x="651.5" y="1589.6" font-family="'Liberation Sans', Arial, sans-serif" font-size="38.6" font-weight="bold" text-anchor="end" fill="#fff" >HEY-A8 V</text>
<text x="1134" y="1589.6" font-family="'Liberation Sans', Arial, sans-serif" font-size="38.6" font-weight="bold" text-anchor="end" fill="#fff" >HEY-A8 IL-8</text>
</svg>
</body></html>
